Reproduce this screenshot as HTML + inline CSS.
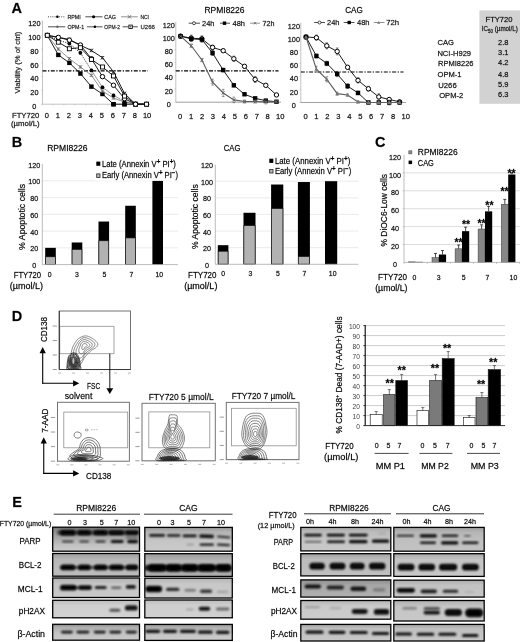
<!DOCTYPE html>
<html><head><meta charset="utf-8"><title>Figure</title>
<style>html,body{margin:0;padding:0;background:#fff;}body{width:520px;height:642px;overflow:hidden;font-family:"Liberation Sans",sans-serif;}svg{display:block;}text{stroke:#000;stroke-width:0.3px;stroke-opacity:0.6;}</style>
</head><body>
<svg width="520" height="642" viewBox="0 0 520 642" font-family="Liberation Sans, sans-serif">
<defs><filter id="soft" x="-2%" y="-2%" width="104%" height="104%"><feGaussianBlur stdDeviation="0.35"/></filter>
<filter id="b1" x="-20%" y="-60%" width="140%" height="220%"><feGaussianBlur stdDeviation="1.05"/></filter>
<filter id="b2" x="-20%" y="-60%" width="140%" height="220%"><feGaussianBlur stdDeviation="0.8"/></filter>
</defs>
<rect width="520" height="642" fill="#fff"/>
<g filter="url(#soft)">
<text x="11.50" y="12.80" font-size="14.5" text-anchor="start" font-weight="bold" fill="#000" >A</text>
<line x1="42.50" y1="20.52" x2="42.50" y2="104.20" stroke="#aaa" stroke-width="0.7" />
<line x1="42.50" y1="104.20" x2="150.00" y2="104.20" stroke="#aaa" stroke-width="0.7" />
<line x1="41.80" y1="104.20" x2="41.80" y2="105.40" stroke="#aaa" stroke-width="0.5" />
<line x1="52.83" y1="104.20" x2="52.83" y2="105.40" stroke="#aaa" stroke-width="0.5" />
<line x1="63.86" y1="104.20" x2="63.86" y2="105.40" stroke="#aaa" stroke-width="0.5" />
<line x1="74.89" y1="104.20" x2="74.89" y2="105.40" stroke="#aaa" stroke-width="0.5" />
<line x1="85.92" y1="104.20" x2="85.92" y2="105.40" stroke="#aaa" stroke-width="0.5" />
<line x1="96.95" y1="104.20" x2="96.95" y2="105.40" stroke="#aaa" stroke-width="0.5" />
<line x1="107.98" y1="104.20" x2="107.98" y2="105.40" stroke="#aaa" stroke-width="0.5" />
<line x1="119.01" y1="104.20" x2="119.01" y2="105.40" stroke="#aaa" stroke-width="0.5" />
<line x1="130.04" y1="104.20" x2="130.04" y2="105.40" stroke="#aaa" stroke-width="0.5" />
<line x1="141.07" y1="104.20" x2="141.07" y2="105.40" stroke="#aaa" stroke-width="0.5" />
<text x="34.40" y="108.80" font-size="7.3" text-anchor="middle" font-weight="normal" fill="#111" >0</text>
<line x1="41.30" y1="104.20" x2="42.50" y2="104.20" stroke="#aaa" stroke-width="0.5" />
<text x="34.40" y="95.05" font-size="7.3" text-anchor="middle" font-weight="normal" fill="#111" >20</text>
<line x1="41.30" y1="90.42" x2="42.50" y2="90.42" stroke="#aaa" stroke-width="0.5" />
<text x="34.40" y="81.30" font-size="7.3" text-anchor="middle" font-weight="normal" fill="#111" >40</text>
<line x1="41.30" y1="76.64" x2="42.50" y2="76.64" stroke="#aaa" stroke-width="0.5" />
<text x="34.40" y="67.55" font-size="7.3" text-anchor="middle" font-weight="normal" fill="#111" >60</text>
<line x1="41.30" y1="62.86" x2="42.50" y2="62.86" stroke="#aaa" stroke-width="0.5" />
<text x="34.40" y="53.80" font-size="7.3" text-anchor="middle" font-weight="normal" fill="#111" >80</text>
<line x1="41.30" y1="49.08" x2="42.50" y2="49.08" stroke="#aaa" stroke-width="0.5" />
<text x="34.40" y="40.05" font-size="7.3" text-anchor="middle" font-weight="normal" fill="#111" >100</text>
<line x1="41.30" y1="35.30" x2="42.50" y2="35.30" stroke="#aaa" stroke-width="0.5" />
<text x="34.40" y="26.30" font-size="7.3" text-anchor="middle" font-weight="normal" fill="#111" >120</text>
<line x1="41.30" y1="21.52" x2="42.50" y2="21.52" stroke="#aaa" stroke-width="0.5" />
<text x="46.90" y="118.30" font-size="7.5" text-anchor="middle" font-weight="normal" fill="#111" >0</text>
<text x="57.90" y="118.30" font-size="7.5" text-anchor="middle" font-weight="normal" fill="#111" >1</text>
<text x="68.90" y="118.30" font-size="7.5" text-anchor="middle" font-weight="normal" fill="#111" >2</text>
<text x="79.90" y="118.30" font-size="7.5" text-anchor="middle" font-weight="normal" fill="#111" >3</text>
<text x="90.90" y="118.30" font-size="7.5" text-anchor="middle" font-weight="normal" fill="#111" >4</text>
<text x="101.90" y="118.30" font-size="7.5" text-anchor="middle" font-weight="normal" fill="#111" >5</text>
<text x="112.90" y="118.30" font-size="7.5" text-anchor="middle" font-weight="normal" fill="#111" >6</text>
<text x="123.90" y="118.30" font-size="7.5" text-anchor="middle" font-weight="normal" fill="#111" >7</text>
<text x="134.90" y="118.30" font-size="7.5" text-anchor="middle" font-weight="normal" fill="#111" >8</text>
<text x="147.10" y="118.30" font-size="7.5" text-anchor="middle" font-weight="normal" fill="#111" >10</text>
<text x="20.30" y="62.60" font-size="6.8" text-anchor="middle" font-weight="normal" fill="#3a3a3a" textLength="61.70" lengthAdjust="spacingAndGlyphs" transform="rotate(-90 20.30 62.60)" >Viability (% of ctrl)</text>
<text x="12.00" y="117.50" font-size="7.4" text-anchor="start" font-weight="normal" fill="#111" textLength="27.20" lengthAdjust="spacingAndGlyphs" >FTY720</text>
<text x="11.00" y="126.20" font-size="7.2" text-anchor="start" font-weight="normal" fill="#111" textLength="28.70" lengthAdjust="spacingAndGlyphs" >(µmol/L)</text>
<line x1="42.50" y1="70.80" x2="148.00" y2="70.80" stroke="#000" stroke-width="1.2" stroke-dasharray="4 1.5 1.3 1.5" />
<line x1="48.00" y1="16.80" x2="65.20" y2="16.80" stroke="#222" stroke-width="0.8" stroke-dasharray="1 1.2" />
<circle cx="57.40" cy="16.80" r="1.3" fill="#000"/>
<text x="67.40" y="18.90" font-size="5.9" text-anchor="start" font-weight="normal" fill="#333" textLength="13.40" lengthAdjust="spacingAndGlyphs" >RPMI</text>
<line x1="85.30" y1="16.80" x2="102.50" y2="16.80" stroke="#222" stroke-width="0.8" />
<circle cx="93.6" cy="16.8" r="1.55" fill="#000"/>
<text x="104.30" y="18.90" font-size="5.9" text-anchor="start" font-weight="normal" fill="#333" textLength="11.60" lengthAdjust="spacingAndGlyphs" >CAG</text>
<line x1="121.00" y1="16.80" x2="137.80" y2="16.80" stroke="#777" stroke-width="0.8" />
<path d="M127.90 15.20 L131.10 18.40 M127.90 18.40 L131.10 15.20" stroke="#666" stroke-width="0.9" fill="none"/>
<text x="140.40" y="18.90" font-size="5.9" text-anchor="start" font-weight="normal" fill="#333" textLength="8.60" lengthAdjust="spacingAndGlyphs" >NCI</text>
<line x1="48.00" y1="26.80" x2="65.20" y2="26.80" stroke="#222" stroke-width="0.8" />
<circle cx="57.40" cy="26.80" r="1.2" fill="#666"/>
<text x="67.40" y="28.90" font-size="5.9" text-anchor="start" font-weight="normal" fill="#333" textLength="16.80" lengthAdjust="spacingAndGlyphs" >OPM-1</text>
<line x1="86.90" y1="26.80" x2="102.50" y2="26.80" stroke="#222" stroke-width="0.8" />
<circle cx="94.90" cy="26.80" r="1.3" fill="#000"/>
<text x="104.30" y="28.90" font-size="5.9" text-anchor="start" font-weight="normal" fill="#333" textLength="15.60" lengthAdjust="spacingAndGlyphs" >OPM-2</text>
<line x1="122.60" y1="26.80" x2="137.80" y2="26.80" stroke="#222" stroke-width="0.8" />
<rect x="128.90" y="25.10" width="3.40" height="3.40" fill="#fff" stroke="#111" stroke-width="0.9" />
<circle cx="130.6" cy="26.8" r="0.7" fill="#555"/>
<text x="140.40" y="28.90" font-size="5.9" text-anchor="start" font-weight="normal" fill="#333" textLength="14.50" lengthAdjust="spacingAndGlyphs" >U266</text>
<path d="M47.30 35.30 L58.33 54.94 L69.36 62.86 L80.39 73.54 L91.42 86.63 L102.45 94.00 L113.48 104.20 L124.51 104.20 L135.54 104.20 L146.57 104.20" fill="none" stroke="#111" stroke-width="0.95"/>
<rect x="45.10" y="33.10" width="4.40" height="4.40" fill="#000" stroke="none" stroke-width="0.6" />
<line x1="58.33" y1="53.74" x2="58.33" y2="56.14" stroke="#333" stroke-width="0.6" />
<line x1="57.03" y1="53.74" x2="59.63" y2="53.74" stroke="#333" stroke-width="0.6" />
<line x1="57.03" y1="56.14" x2="59.63" y2="56.14" stroke="#333" stroke-width="0.6" />
<rect x="56.13" y="52.74" width="4.40" height="4.40" fill="#000" stroke="none" stroke-width="0.6" />
<line x1="69.36" y1="61.66" x2="69.36" y2="64.06" stroke="#333" stroke-width="0.6" />
<line x1="68.06" y1="61.66" x2="70.66" y2="61.66" stroke="#333" stroke-width="0.6" />
<line x1="68.06" y1="64.06" x2="70.66" y2="64.06" stroke="#333" stroke-width="0.6" />
<rect x="67.16" y="60.66" width="4.40" height="4.40" fill="#000" stroke="none" stroke-width="0.6" />
<line x1="80.39" y1="72.34" x2="80.39" y2="74.74" stroke="#333" stroke-width="0.6" />
<line x1="79.09" y1="72.34" x2="81.69" y2="72.34" stroke="#333" stroke-width="0.6" />
<line x1="79.09" y1="74.74" x2="81.69" y2="74.74" stroke="#333" stroke-width="0.6" />
<rect x="78.19" y="71.34" width="4.40" height="4.40" fill="#000" stroke="none" stroke-width="0.6" />
<line x1="91.42" y1="85.43" x2="91.42" y2="87.83" stroke="#333" stroke-width="0.6" />
<line x1="90.12" y1="85.43" x2="92.72" y2="85.43" stroke="#333" stroke-width="0.6" />
<line x1="90.12" y1="87.83" x2="92.72" y2="87.83" stroke="#333" stroke-width="0.6" />
<rect x="89.22" y="84.43" width="4.40" height="4.40" fill="#000" stroke="none" stroke-width="0.6" />
<line x1="102.45" y1="92.80" x2="102.45" y2="95.20" stroke="#333" stroke-width="0.6" />
<line x1="101.15" y1="92.80" x2="103.75" y2="92.80" stroke="#333" stroke-width="0.6" />
<line x1="101.15" y1="95.20" x2="103.75" y2="95.20" stroke="#333" stroke-width="0.6" />
<rect x="100.25" y="91.80" width="4.40" height="4.40" fill="#000" stroke="none" stroke-width="0.6" />
<rect x="111.28" y="102.00" width="4.40" height="4.40" fill="#000" stroke="none" stroke-width="0.6" />
<rect x="122.31" y="102.00" width="4.40" height="4.40" fill="#000" stroke="none" stroke-width="0.6" />
<rect x="133.34" y="102.00" width="4.40" height="4.40" fill="#000" stroke="none" stroke-width="0.6" />
<rect x="144.37" y="102.00" width="4.40" height="4.40" fill="#000" stroke="none" stroke-width="0.6" />
<path d="M47.30 35.30 L58.33 49.08 L69.36 58.73 L80.39 66.99 L91.42 75.26 L102.45 91.11 L113.48 98.00 L124.51 102.13 L135.54 104.20 L146.57 104.20" fill="none" stroke="#777" stroke-width="0.8"/>
<path d="M45.70 33.70 L48.90 36.90 M45.70 36.90 L48.90 33.70" stroke="#666" stroke-width="0.9" fill="none"/>
<line x1="58.33" y1="47.88" x2="58.33" y2="50.28" stroke="#777" stroke-width="0.6" />
<line x1="57.03" y1="47.88" x2="59.63" y2="47.88" stroke="#777" stroke-width="0.6" />
<line x1="57.03" y1="50.28" x2="59.63" y2="50.28" stroke="#777" stroke-width="0.6" />
<path d="M56.73 47.48 L59.93 50.68 M56.73 50.68 L59.93 47.48" stroke="#666" stroke-width="0.9" fill="none"/>
<line x1="69.36" y1="57.53" x2="69.36" y2="59.93" stroke="#777" stroke-width="0.6" />
<line x1="68.06" y1="57.53" x2="70.66" y2="57.53" stroke="#777" stroke-width="0.6" />
<line x1="68.06" y1="59.93" x2="70.66" y2="59.93" stroke="#777" stroke-width="0.6" />
<path d="M67.76 57.13 L70.96 60.33 M67.76 60.33 L70.96 57.13" stroke="#666" stroke-width="0.9" fill="none"/>
<line x1="80.39" y1="65.79" x2="80.39" y2="68.19" stroke="#777" stroke-width="0.6" />
<line x1="79.09" y1="65.79" x2="81.69" y2="65.79" stroke="#777" stroke-width="0.6" />
<line x1="79.09" y1="68.19" x2="81.69" y2="68.19" stroke="#777" stroke-width="0.6" />
<path d="M78.79 65.39 L81.99 68.59 M78.79 68.59 L81.99 65.39" stroke="#666" stroke-width="0.9" fill="none"/>
<line x1="91.42" y1="74.06" x2="91.42" y2="76.46" stroke="#777" stroke-width="0.6" />
<line x1="90.12" y1="74.06" x2="92.72" y2="74.06" stroke="#777" stroke-width="0.6" />
<line x1="90.12" y1="76.46" x2="92.72" y2="76.46" stroke="#777" stroke-width="0.6" />
<path d="M89.82 73.66 L93.02 76.86 M89.82 76.86 L93.02 73.66" stroke="#666" stroke-width="0.9" fill="none"/>
<line x1="102.45" y1="89.91" x2="102.45" y2="92.31" stroke="#777" stroke-width="0.6" />
<line x1="101.15" y1="89.91" x2="103.75" y2="89.91" stroke="#777" stroke-width="0.6" />
<line x1="101.15" y1="92.31" x2="103.75" y2="92.31" stroke="#777" stroke-width="0.6" />
<path d="M100.85 89.51 L104.05 92.71 M100.85 92.71 L104.05 89.51" stroke="#666" stroke-width="0.9" fill="none"/>
<line x1="113.48" y1="96.80" x2="113.48" y2="99.20" stroke="#777" stroke-width="0.6" />
<line x1="112.18" y1="96.80" x2="114.78" y2="96.80" stroke="#777" stroke-width="0.6" />
<line x1="112.18" y1="99.20" x2="114.78" y2="99.20" stroke="#777" stroke-width="0.6" />
<path d="M111.88 96.40 L115.08 99.60 M111.88 99.60 L115.08 96.40" stroke="#666" stroke-width="0.9" fill="none"/>
<line x1="124.51" y1="100.93" x2="124.51" y2="103.33" stroke="#777" stroke-width="0.6" />
<line x1="123.21" y1="100.93" x2="125.81" y2="100.93" stroke="#777" stroke-width="0.6" />
<line x1="123.21" y1="103.33" x2="125.81" y2="103.33" stroke="#777" stroke-width="0.6" />
<path d="M122.91 100.53 L126.11 103.73 M122.91 103.73 L126.11 100.53" stroke="#666" stroke-width="0.9" fill="none"/>
<path d="M133.94 102.60 L137.14 105.80 M133.94 105.80 L137.14 102.60" stroke="#666" stroke-width="0.9" fill="none"/>
<path d="M144.97 102.60 L148.17 105.80 M144.97 105.80 L148.17 102.60" stroke="#666" stroke-width="0.9" fill="none"/>
<path d="M47.30 35.30 L58.33 40.12 L69.36 43.57 L80.39 52.87 L91.42 70.44 L102.45 87.32 L113.48 95.38 L124.51 101.44 L135.54 104.20 L146.57 104.20" fill="none" stroke="#111" stroke-width="0.8" stroke-dasharray="1.2 1.2"/>
<circle cx="47.30" cy="35.30" r="1.9" fill="#000"/>
<line x1="58.33" y1="38.92" x2="58.33" y2="41.32" stroke="#333" stroke-width="0.6" />
<line x1="57.03" y1="38.92" x2="59.63" y2="38.92" stroke="#333" stroke-width="0.6" />
<line x1="57.03" y1="41.32" x2="59.63" y2="41.32" stroke="#333" stroke-width="0.6" />
<circle cx="58.33" cy="40.12" r="1.9" fill="#000"/>
<line x1="69.36" y1="42.37" x2="69.36" y2="44.77" stroke="#333" stroke-width="0.6" />
<line x1="68.06" y1="42.37" x2="70.66" y2="42.37" stroke="#333" stroke-width="0.6" />
<line x1="68.06" y1="44.77" x2="70.66" y2="44.77" stroke="#333" stroke-width="0.6" />
<circle cx="69.36" cy="43.57" r="1.9" fill="#000"/>
<line x1="80.39" y1="51.67" x2="80.39" y2="54.07" stroke="#333" stroke-width="0.6" />
<line x1="79.09" y1="51.67" x2="81.69" y2="51.67" stroke="#333" stroke-width="0.6" />
<line x1="79.09" y1="54.07" x2="81.69" y2="54.07" stroke="#333" stroke-width="0.6" />
<circle cx="80.39" cy="52.87" r="1.9" fill="#000"/>
<line x1="91.42" y1="69.24" x2="91.42" y2="71.64" stroke="#333" stroke-width="0.6" />
<line x1="90.12" y1="69.24" x2="92.72" y2="69.24" stroke="#333" stroke-width="0.6" />
<line x1="90.12" y1="71.64" x2="92.72" y2="71.64" stroke="#333" stroke-width="0.6" />
<circle cx="91.42" cy="70.44" r="1.9" fill="#000"/>
<line x1="102.45" y1="86.12" x2="102.45" y2="88.52" stroke="#333" stroke-width="0.6" />
<line x1="101.15" y1="86.12" x2="103.75" y2="86.12" stroke="#333" stroke-width="0.6" />
<line x1="101.15" y1="88.52" x2="103.75" y2="88.52" stroke="#333" stroke-width="0.6" />
<circle cx="102.45" cy="87.32" r="1.9" fill="#000"/>
<line x1="113.48" y1="94.18" x2="113.48" y2="96.58" stroke="#333" stroke-width="0.6" />
<line x1="112.18" y1="94.18" x2="114.78" y2="94.18" stroke="#333" stroke-width="0.6" />
<line x1="112.18" y1="96.58" x2="114.78" y2="96.58" stroke="#333" stroke-width="0.6" />
<circle cx="113.48" cy="95.38" r="1.9" fill="#000"/>
<line x1="124.51" y1="100.24" x2="124.51" y2="102.64" stroke="#333" stroke-width="0.6" />
<line x1="123.21" y1="100.24" x2="125.81" y2="100.24" stroke="#333" stroke-width="0.6" />
<line x1="123.21" y1="102.64" x2="125.81" y2="102.64" stroke="#333" stroke-width="0.6" />
<circle cx="124.51" cy="101.44" r="1.9" fill="#000"/>
<circle cx="135.54" cy="104.20" r="1.9" fill="#000"/>
<circle cx="146.57" cy="104.20" r="1.9" fill="#000"/>
<path d="M47.30 35.30 L58.33 37.37 L69.36 39.43 L80.39 45.29 L91.42 50.46 L102.45 57.69 L113.48 71.82 L124.51 93.45 L135.54 104.20 L146.57 104.20" fill="none" stroke="#111" stroke-width="0.95"/>
<path d="M45.60 33.60 L49.00 37.00 M45.60 37.00 L49.00 33.60" stroke="#111" stroke-width="0.8" fill="none"/>
<line x1="58.33" y1="36.17" x2="58.33" y2="38.57" stroke="#333" stroke-width="0.6" />
<line x1="57.03" y1="36.17" x2="59.63" y2="36.17" stroke="#333" stroke-width="0.6" />
<line x1="57.03" y1="38.57" x2="59.63" y2="38.57" stroke="#333" stroke-width="0.6" />
<path d="M56.63 35.67 L60.03 39.07 M56.63 39.07 L60.03 35.67" stroke="#111" stroke-width="0.8" fill="none"/>
<line x1="69.36" y1="38.23" x2="69.36" y2="40.63" stroke="#333" stroke-width="0.6" />
<line x1="68.06" y1="38.23" x2="70.66" y2="38.23" stroke="#333" stroke-width="0.6" />
<line x1="68.06" y1="40.63" x2="70.66" y2="40.63" stroke="#333" stroke-width="0.6" />
<path d="M67.66 37.73 L71.06 41.13 M67.66 41.13 L71.06 37.73" stroke="#111" stroke-width="0.8" fill="none"/>
<line x1="80.39" y1="44.09" x2="80.39" y2="46.49" stroke="#333" stroke-width="0.6" />
<line x1="79.09" y1="44.09" x2="81.69" y2="44.09" stroke="#333" stroke-width="0.6" />
<line x1="79.09" y1="46.49" x2="81.69" y2="46.49" stroke="#333" stroke-width="0.6" />
<path d="M78.69 43.59 L82.09 46.99 M78.69 46.99 L82.09 43.59" stroke="#111" stroke-width="0.8" fill="none"/>
<line x1="91.42" y1="49.26" x2="91.42" y2="51.66" stroke="#333" stroke-width="0.6" />
<line x1="90.12" y1="49.26" x2="92.72" y2="49.26" stroke="#333" stroke-width="0.6" />
<line x1="90.12" y1="51.66" x2="92.72" y2="51.66" stroke="#333" stroke-width="0.6" />
<path d="M89.72 48.76 L93.12 52.16 M89.72 52.16 L93.12 48.76" stroke="#111" stroke-width="0.8" fill="none"/>
<line x1="102.45" y1="56.49" x2="102.45" y2="58.89" stroke="#333" stroke-width="0.6" />
<line x1="101.15" y1="56.49" x2="103.75" y2="56.49" stroke="#333" stroke-width="0.6" />
<line x1="101.15" y1="58.89" x2="103.75" y2="58.89" stroke="#333" stroke-width="0.6" />
<path d="M100.75 55.99 L104.15 59.39 M100.75 59.39 L104.15 55.99" stroke="#111" stroke-width="0.8" fill="none"/>
<line x1="113.48" y1="70.62" x2="113.48" y2="73.02" stroke="#333" stroke-width="0.6" />
<line x1="112.18" y1="70.62" x2="114.78" y2="70.62" stroke="#333" stroke-width="0.6" />
<line x1="112.18" y1="73.02" x2="114.78" y2="73.02" stroke="#333" stroke-width="0.6" />
<path d="M111.78 70.12 L115.18 73.52 M111.78 73.52 L115.18 70.12" stroke="#111" stroke-width="0.8" fill="none"/>
<line x1="124.51" y1="92.25" x2="124.51" y2="94.65" stroke="#333" stroke-width="0.6" />
<line x1="123.21" y1="92.25" x2="125.81" y2="92.25" stroke="#333" stroke-width="0.6" />
<line x1="123.21" y1="94.65" x2="125.81" y2="94.65" stroke="#333" stroke-width="0.6" />
<path d="M122.81 91.75 L126.21 95.15 M122.81 95.15 L126.21 91.75" stroke="#111" stroke-width="0.8" fill="none"/>
<path d="M133.84 102.50 L137.24 105.90 M133.84 105.90 L137.24 102.50" stroke="#111" stroke-width="0.8" fill="none"/>
<path d="M144.87 102.50 L148.27 105.90 M144.87 105.90 L148.27 102.50" stroke="#111" stroke-width="0.8" fill="none"/>
<path d="M47.30 35.30 L58.33 37.37 L69.36 40.12 L80.39 44.95 L91.42 58.73 L102.45 76.64 L113.48 85.25 L124.51 98.69 L135.54 104.20 L146.57 104.20" fill="none" stroke="#111" stroke-width="0.95"/>
<circle cx="47.30" cy="35.30" r="2.2" fill="#fff" stroke="#000" stroke-width="1"/>
<line x1="58.33" y1="36.17" x2="58.33" y2="38.57" stroke="#333" stroke-width="0.6" />
<line x1="57.03" y1="36.17" x2="59.63" y2="36.17" stroke="#333" stroke-width="0.6" />
<line x1="57.03" y1="38.57" x2="59.63" y2="38.57" stroke="#333" stroke-width="0.6" />
<circle cx="58.33" cy="37.37" r="2.2" fill="#fff" stroke="#000" stroke-width="1"/>
<line x1="69.36" y1="38.92" x2="69.36" y2="41.32" stroke="#333" stroke-width="0.6" />
<line x1="68.06" y1="38.92" x2="70.66" y2="38.92" stroke="#333" stroke-width="0.6" />
<line x1="68.06" y1="41.32" x2="70.66" y2="41.32" stroke="#333" stroke-width="0.6" />
<circle cx="69.36" cy="40.12" r="2.2" fill="#fff" stroke="#000" stroke-width="1"/>
<line x1="80.39" y1="43.75" x2="80.39" y2="46.15" stroke="#333" stroke-width="0.6" />
<line x1="79.09" y1="43.75" x2="81.69" y2="43.75" stroke="#333" stroke-width="0.6" />
<line x1="79.09" y1="46.15" x2="81.69" y2="46.15" stroke="#333" stroke-width="0.6" />
<circle cx="80.39" cy="44.95" r="2.2" fill="#fff" stroke="#000" stroke-width="1"/>
<line x1="91.42" y1="57.53" x2="91.42" y2="59.93" stroke="#333" stroke-width="0.6" />
<line x1="90.12" y1="57.53" x2="92.72" y2="57.53" stroke="#333" stroke-width="0.6" />
<line x1="90.12" y1="59.93" x2="92.72" y2="59.93" stroke="#333" stroke-width="0.6" />
<circle cx="91.42" cy="58.73" r="2.2" fill="#fff" stroke="#000" stroke-width="1"/>
<line x1="102.45" y1="75.44" x2="102.45" y2="77.84" stroke="#333" stroke-width="0.6" />
<line x1="101.15" y1="75.44" x2="103.75" y2="75.44" stroke="#333" stroke-width="0.6" />
<line x1="101.15" y1="77.84" x2="103.75" y2="77.84" stroke="#333" stroke-width="0.6" />
<circle cx="102.45" cy="76.64" r="2.2" fill="#fff" stroke="#000" stroke-width="1"/>
<line x1="113.48" y1="84.05" x2="113.48" y2="86.45" stroke="#333" stroke-width="0.6" />
<line x1="112.18" y1="84.05" x2="114.78" y2="84.05" stroke="#333" stroke-width="0.6" />
<line x1="112.18" y1="86.45" x2="114.78" y2="86.45" stroke="#333" stroke-width="0.6" />
<circle cx="113.48" cy="85.25" r="2.2" fill="#fff" stroke="#000" stroke-width="1"/>
<line x1="124.51" y1="97.49" x2="124.51" y2="99.89" stroke="#333" stroke-width="0.6" />
<line x1="123.21" y1="97.49" x2="125.81" y2="97.49" stroke="#333" stroke-width="0.6" />
<line x1="123.21" y1="99.89" x2="125.81" y2="99.89" stroke="#333" stroke-width="0.6" />
<circle cx="124.51" cy="98.69" r="2.2" fill="#fff" stroke="#000" stroke-width="1"/>
<circle cx="135.54" cy="104.20" r="2.2" fill="#fff" stroke="#000" stroke-width="1"/>
<circle cx="146.57" cy="104.20" r="2.2" fill="#fff" stroke="#000" stroke-width="1"/>
<path d="M47.30 35.30 L58.33 42.19 L69.36 48.74 L80.39 47.70 L91.42 59.41 L102.45 66.99 L113.48 75.95 L124.51 96.07 L135.54 104.20 L146.57 104.20" fill="none" stroke="#111" stroke-width="0.95"/>
<rect x="45.30" y="33.30" width="4.00" height="4.00" fill="#fff" stroke="#000" stroke-width="0.9" />
<line x1="58.33" y1="40.99" x2="58.33" y2="43.39" stroke="#333" stroke-width="0.6" />
<line x1="57.03" y1="40.99" x2="59.63" y2="40.99" stroke="#333" stroke-width="0.6" />
<line x1="57.03" y1="43.39" x2="59.63" y2="43.39" stroke="#333" stroke-width="0.6" />
<rect x="56.33" y="40.19" width="4.00" height="4.00" fill="#fff" stroke="#000" stroke-width="0.9" />
<line x1="69.36" y1="47.54" x2="69.36" y2="49.94" stroke="#333" stroke-width="0.6" />
<line x1="68.06" y1="47.54" x2="70.66" y2="47.54" stroke="#333" stroke-width="0.6" />
<line x1="68.06" y1="49.94" x2="70.66" y2="49.94" stroke="#333" stroke-width="0.6" />
<rect x="67.36" y="46.74" width="4.00" height="4.00" fill="#fff" stroke="#000" stroke-width="0.9" />
<line x1="80.39" y1="46.50" x2="80.39" y2="48.90" stroke="#333" stroke-width="0.6" />
<line x1="79.09" y1="46.50" x2="81.69" y2="46.50" stroke="#333" stroke-width="0.6" />
<line x1="79.09" y1="48.90" x2="81.69" y2="48.90" stroke="#333" stroke-width="0.6" />
<rect x="78.39" y="45.70" width="4.00" height="4.00" fill="#fff" stroke="#000" stroke-width="0.9" />
<line x1="91.42" y1="58.21" x2="91.42" y2="60.62" stroke="#333" stroke-width="0.6" />
<line x1="90.12" y1="58.21" x2="92.72" y2="58.21" stroke="#333" stroke-width="0.6" />
<line x1="90.12" y1="60.62" x2="92.72" y2="60.62" stroke="#333" stroke-width="0.6" />
<rect x="89.42" y="57.41" width="4.00" height="4.00" fill="#fff" stroke="#000" stroke-width="0.9" />
<line x1="102.45" y1="65.79" x2="102.45" y2="68.19" stroke="#333" stroke-width="0.6" />
<line x1="101.15" y1="65.79" x2="103.75" y2="65.79" stroke="#333" stroke-width="0.6" />
<line x1="101.15" y1="68.19" x2="103.75" y2="68.19" stroke="#333" stroke-width="0.6" />
<rect x="100.45" y="64.99" width="4.00" height="4.00" fill="#fff" stroke="#000" stroke-width="0.9" />
<line x1="113.48" y1="74.75" x2="113.48" y2="77.15" stroke="#333" stroke-width="0.6" />
<line x1="112.18" y1="74.75" x2="114.78" y2="74.75" stroke="#333" stroke-width="0.6" />
<line x1="112.18" y1="77.15" x2="114.78" y2="77.15" stroke="#333" stroke-width="0.6" />
<rect x="111.48" y="73.95" width="4.00" height="4.00" fill="#fff" stroke="#000" stroke-width="0.9" />
<line x1="124.51" y1="94.87" x2="124.51" y2="97.27" stroke="#333" stroke-width="0.6" />
<line x1="123.21" y1="94.87" x2="125.81" y2="94.87" stroke="#333" stroke-width="0.6" />
<line x1="123.21" y1="97.27" x2="125.81" y2="97.27" stroke="#333" stroke-width="0.6" />
<rect x="122.51" y="94.07" width="4.00" height="4.00" fill="#fff" stroke="#000" stroke-width="0.9" />
<rect x="133.54" y="102.20" width="4.00" height="4.00" fill="#fff" stroke="#000" stroke-width="0.9" />
<rect x="144.57" y="102.20" width="4.00" height="4.00" fill="#fff" stroke="#000" stroke-width="0.9" />
<rect x="111.28" y="102.00" width="4.40" height="4.40" fill="#000" stroke="none" stroke-width="0.6" />
<rect x="122.31" y="102.00" width="4.40" height="4.40" fill="#000" stroke="none" stroke-width="0.6" />
<circle cx="135.54" cy="104.20" r="2.2" fill="#fff" stroke="#000" stroke-width="1"/>
<line x1="175.80" y1="22.00" x2="175.80" y2="102.20" stroke="#aaa" stroke-width="0.7" />
<line x1="175.80" y1="102.20" x2="281.00" y2="102.20" stroke="#888" stroke-width="0.8" />
<text x="168.80" y="106.75" font-size="7.3" text-anchor="middle" font-weight="normal" fill="#111" >0</text>
<line x1="174.60" y1="102.20" x2="175.80" y2="102.20" stroke="#aaa" stroke-width="0.5" />
<text x="168.80" y="93.55" font-size="7.3" text-anchor="middle" font-weight="normal" fill="#111" >20</text>
<line x1="174.60" y1="89.00" x2="175.80" y2="89.00" stroke="#aaa" stroke-width="0.5" />
<text x="168.80" y="80.35" font-size="7.3" text-anchor="middle" font-weight="normal" fill="#111" >40</text>
<line x1="174.60" y1="75.80" x2="175.80" y2="75.80" stroke="#aaa" stroke-width="0.5" />
<text x="168.80" y="67.15" font-size="7.3" text-anchor="middle" font-weight="normal" fill="#111" >60</text>
<line x1="174.60" y1="62.60" x2="175.80" y2="62.60" stroke="#aaa" stroke-width="0.5" />
<text x="168.80" y="53.95" font-size="7.3" text-anchor="middle" font-weight="normal" fill="#111" >80</text>
<line x1="174.60" y1="49.40" x2="175.80" y2="49.40" stroke="#aaa" stroke-width="0.5" />
<text x="168.80" y="40.75" font-size="7.3" text-anchor="middle" font-weight="normal" fill="#111" >100</text>
<line x1="174.60" y1="36.20" x2="175.80" y2="36.20" stroke="#aaa" stroke-width="0.5" />
<text x="168.80" y="27.55" font-size="7.3" text-anchor="middle" font-weight="normal" fill="#111" >120</text>
<line x1="174.60" y1="23.00" x2="175.80" y2="23.00" stroke="#aaa" stroke-width="0.5" />
<text x="180.10" y="119.00" font-size="7.6" text-anchor="middle" font-weight="normal" fill="#111" >0</text>
<text x="191.05" y="119.00" font-size="7.6" text-anchor="middle" font-weight="normal" fill="#111" >1</text>
<text x="202.00" y="119.00" font-size="7.6" text-anchor="middle" font-weight="normal" fill="#111" >2</text>
<text x="212.95" y="119.00" font-size="7.6" text-anchor="middle" font-weight="normal" fill="#111" >3</text>
<text x="223.90" y="119.00" font-size="7.6" text-anchor="middle" font-weight="normal" fill="#111" >4</text>
<text x="234.85" y="119.00" font-size="7.6" text-anchor="middle" font-weight="normal" fill="#111" >5</text>
<text x="245.80" y="119.00" font-size="7.6" text-anchor="middle" font-weight="normal" fill="#111" >6</text>
<text x="256.75" y="119.00" font-size="7.6" text-anchor="middle" font-weight="normal" fill="#111" >7</text>
<text x="267.70" y="119.00" font-size="7.6" text-anchor="middle" font-weight="normal" fill="#111" >8</text>
<text x="280.35" y="119.00" font-size="7.6" text-anchor="middle" font-weight="normal" fill="#111" >10</text>
<line x1="175.80" y1="70.80" x2="278.50" y2="70.80" stroke="#000" stroke-width="1.2" stroke-dasharray="4 1.5 1.3 1.5" />
<text x="204.50" y="13.30" font-size="8.6" text-anchor="start" font-weight="normal" fill="#000" textLength="40.00" lengthAdjust="spacingAndGlyphs" >RPMI8226</text>
<line x1="188.70" y1="23.20" x2="200.00" y2="23.20" stroke="#222" stroke-width="0.8" />
<circle cx="194.00" cy="23.20" r="1.5" fill="#fff" stroke="#222" stroke-width="0.8"/>
<text x="202.00" y="25.80" font-size="7.3" text-anchor="start" font-weight="normal" fill="#222" textLength="12.50" lengthAdjust="spacingAndGlyphs" >24h</text>
<line x1="220.00" y1="23.20" x2="230.00" y2="23.20" stroke="#222" stroke-width="0.8" />
<rect x="222.80" y="21.50" width="3.40" height="3.40" fill="#000" stroke="none" stroke-width="0.6" />
<text x="232.50" y="25.80" font-size="7.3" text-anchor="start" font-weight="normal" fill="#222" textLength="12.50" lengthAdjust="spacingAndGlyphs" >48h</text>
<line x1="250.00" y1="23.20" x2="260.00" y2="23.20" stroke="#777" stroke-width="0.8" />
<path d="M253.80 22.00 L256.20 24.40 M253.80 24.40 L256.20 22.00" stroke="#666" stroke-width="0.8" fill="none"/>
<text x="262.50" y="25.80" font-size="7.3" text-anchor="start" font-weight="normal" fill="#222" textLength="12.00" lengthAdjust="spacingAndGlyphs" >72h</text>
<path d="M180.60 36.20 L191.25 38.18 L201.90 38.84 L212.55 47.42 L223.20 50.72 L233.85 58.77 L244.50 66.30 L255.15 79.43 L265.80 85.30 L276.45 94.94" fill="none" stroke="#111" stroke-width="0.95"/>
<line x1="180.60" y1="34.20" x2="180.60" y2="38.20" stroke="#333" stroke-width="0.6" />
<line x1="179.30" y1="34.20" x2="181.90" y2="34.20" stroke="#333" stroke-width="0.6" />
<line x1="179.30" y1="38.20" x2="181.90" y2="38.20" stroke="#333" stroke-width="0.6" />
<circle cx="180.60" cy="36.20" r="2.2" fill="#fff" stroke="#000" stroke-width="1"/>
<line x1="191.25" y1="35.18" x2="191.25" y2="41.18" stroke="#333" stroke-width="0.6" />
<line x1="189.95" y1="35.18" x2="192.55" y2="35.18" stroke="#333" stroke-width="0.6" />
<line x1="189.95" y1="41.18" x2="192.55" y2="41.18" stroke="#333" stroke-width="0.6" />
<circle cx="191.25" cy="38.18" r="2.2" fill="#fff" stroke="#000" stroke-width="1"/>
<line x1="201.90" y1="35.84" x2="201.90" y2="41.84" stroke="#333" stroke-width="0.6" />
<line x1="200.60" y1="35.84" x2="203.20" y2="35.84" stroke="#333" stroke-width="0.6" />
<line x1="200.60" y1="41.84" x2="203.20" y2="41.84" stroke="#333" stroke-width="0.6" />
<circle cx="201.90" cy="38.84" r="2.2" fill="#fff" stroke="#000" stroke-width="1"/>
<line x1="212.55" y1="45.22" x2="212.55" y2="49.62" stroke="#333" stroke-width="0.6" />
<line x1="211.25" y1="45.22" x2="213.85" y2="45.22" stroke="#333" stroke-width="0.6" />
<line x1="211.25" y1="49.62" x2="213.85" y2="49.62" stroke="#333" stroke-width="0.6" />
<circle cx="212.55" cy="47.42" r="2.2" fill="#fff" stroke="#000" stroke-width="1"/>
<line x1="223.20" y1="49.22" x2="223.20" y2="52.22" stroke="#333" stroke-width="0.6" />
<line x1="221.90" y1="49.22" x2="224.50" y2="49.22" stroke="#333" stroke-width="0.6" />
<line x1="221.90" y1="52.22" x2="224.50" y2="52.22" stroke="#333" stroke-width="0.6" />
<circle cx="223.20" cy="50.72" r="2.2" fill="#fff" stroke="#000" stroke-width="1"/>
<line x1="233.85" y1="56.17" x2="233.85" y2="61.37" stroke="#333" stroke-width="0.6" />
<line x1="232.55" y1="56.17" x2="235.15" y2="56.17" stroke="#333" stroke-width="0.6" />
<line x1="232.55" y1="61.37" x2="235.15" y2="61.37" stroke="#333" stroke-width="0.6" />
<circle cx="233.85" cy="58.77" r="2.2" fill="#fff" stroke="#000" stroke-width="1"/>
<line x1="244.50" y1="64.50" x2="244.50" y2="68.10" stroke="#333" stroke-width="0.6" />
<line x1="243.20" y1="64.50" x2="245.80" y2="64.50" stroke="#333" stroke-width="0.6" />
<line x1="243.20" y1="68.10" x2="245.80" y2="68.10" stroke="#333" stroke-width="0.6" />
<circle cx="244.50" cy="66.30" r="2.2" fill="#fff" stroke="#000" stroke-width="1"/>
<line x1="255.15" y1="76.43" x2="255.15" y2="82.43" stroke="#333" stroke-width="0.6" />
<line x1="253.85" y1="76.43" x2="256.45" y2="76.43" stroke="#333" stroke-width="0.6" />
<line x1="253.85" y1="82.43" x2="256.45" y2="82.43" stroke="#333" stroke-width="0.6" />
<circle cx="255.15" cy="79.43" r="2.2" fill="#fff" stroke="#000" stroke-width="1"/>
<line x1="265.80" y1="83.80" x2="265.80" y2="86.80" stroke="#333" stroke-width="0.6" />
<line x1="264.50" y1="83.80" x2="267.10" y2="83.80" stroke="#333" stroke-width="0.6" />
<line x1="264.50" y1="86.80" x2="267.10" y2="86.80" stroke="#333" stroke-width="0.6" />
<circle cx="265.80" cy="85.30" r="2.2" fill="#fff" stroke="#000" stroke-width="1"/>
<line x1="276.45" y1="93.44" x2="276.45" y2="96.44" stroke="#333" stroke-width="0.6" />
<line x1="275.15" y1="93.44" x2="277.75" y2="93.44" stroke="#333" stroke-width="0.6" />
<line x1="275.15" y1="96.44" x2="277.75" y2="96.44" stroke="#333" stroke-width="0.6" />
<circle cx="276.45" cy="94.94" r="2.2" fill="#fff" stroke="#000" stroke-width="1"/>
<path d="M180.60 36.20 L191.25 38.84 L201.90 39.50 L212.55 53.03 L223.20 70.06 L233.85 85.30 L244.50 94.28 L255.15 98.37 L265.80 100.68 L276.45 101.74" fill="none" stroke="#111" stroke-width="0.95"/>
<rect x="178.40" y="34.00" width="4.40" height="4.40" fill="#000" stroke="none" stroke-width="0.6" />
<line x1="191.25" y1="36.34" x2="191.25" y2="41.34" stroke="#333" stroke-width="0.6" />
<line x1="189.95" y1="36.34" x2="192.55" y2="36.34" stroke="#333" stroke-width="0.6" />
<line x1="189.95" y1="41.34" x2="192.55" y2="41.34" stroke="#333" stroke-width="0.6" />
<rect x="189.05" y="36.64" width="4.40" height="4.40" fill="#000" stroke="none" stroke-width="0.6" />
<line x1="201.90" y1="37.00" x2="201.90" y2="42.00" stroke="#333" stroke-width="0.6" />
<line x1="200.60" y1="37.00" x2="203.20" y2="37.00" stroke="#333" stroke-width="0.6" />
<line x1="200.60" y1="42.00" x2="203.20" y2="42.00" stroke="#333" stroke-width="0.6" />
<rect x="199.70" y="37.30" width="4.40" height="4.40" fill="#000" stroke="none" stroke-width="0.6" />
<line x1="212.55" y1="50.53" x2="212.55" y2="55.53" stroke="#333" stroke-width="0.6" />
<line x1="211.25" y1="50.53" x2="213.85" y2="50.53" stroke="#333" stroke-width="0.6" />
<line x1="211.25" y1="55.53" x2="213.85" y2="55.53" stroke="#333" stroke-width="0.6" />
<rect x="210.35" y="50.83" width="4.40" height="4.40" fill="#000" stroke="none" stroke-width="0.6" />
<line x1="223.20" y1="68.26" x2="223.20" y2="71.86" stroke="#333" stroke-width="0.6" />
<line x1="221.90" y1="68.26" x2="224.50" y2="68.26" stroke="#333" stroke-width="0.6" />
<line x1="221.90" y1="71.86" x2="224.50" y2="71.86" stroke="#333" stroke-width="0.6" />
<rect x="221.00" y="67.86" width="4.40" height="4.40" fill="#000" stroke="none" stroke-width="0.6" />
<line x1="233.85" y1="83.80" x2="233.85" y2="86.80" stroke="#333" stroke-width="0.6" />
<line x1="232.55" y1="83.80" x2="235.15" y2="83.80" stroke="#333" stroke-width="0.6" />
<line x1="232.55" y1="86.80" x2="235.15" y2="86.80" stroke="#333" stroke-width="0.6" />
<rect x="231.65" y="83.10" width="4.40" height="4.40" fill="#000" stroke="none" stroke-width="0.6" />
<line x1="244.50" y1="93.08" x2="244.50" y2="95.48" stroke="#333" stroke-width="0.6" />
<line x1="243.20" y1="93.08" x2="245.80" y2="93.08" stroke="#333" stroke-width="0.6" />
<line x1="243.20" y1="95.48" x2="245.80" y2="95.48" stroke="#333" stroke-width="0.6" />
<rect x="242.30" y="92.08" width="4.40" height="4.40" fill="#000" stroke="none" stroke-width="0.6" />
<line x1="255.15" y1="97.17" x2="255.15" y2="99.57" stroke="#333" stroke-width="0.6" />
<line x1="253.85" y1="97.17" x2="256.45" y2="97.17" stroke="#333" stroke-width="0.6" />
<line x1="253.85" y1="99.57" x2="256.45" y2="99.57" stroke="#333" stroke-width="0.6" />
<rect x="252.95" y="96.17" width="4.40" height="4.40" fill="#000" stroke="none" stroke-width="0.6" />
<line x1="265.80" y1="99.18" x2="265.80" y2="102.18" stroke="#333" stroke-width="0.6" />
<line x1="264.50" y1="99.18" x2="267.10" y2="99.18" stroke="#333" stroke-width="0.6" />
<line x1="264.50" y1="102.18" x2="267.10" y2="102.18" stroke="#333" stroke-width="0.6" />
<rect x="263.60" y="98.48" width="4.40" height="4.40" fill="#000" stroke="none" stroke-width="0.6" />
<line x1="276.45" y1="100.74" x2="276.45" y2="102.74" stroke="#333" stroke-width="0.6" />
<line x1="275.15" y1="100.74" x2="277.75" y2="100.74" stroke="#333" stroke-width="0.6" />
<line x1="275.15" y1="102.74" x2="277.75" y2="102.74" stroke="#333" stroke-width="0.6" />
<rect x="274.25" y="99.54" width="4.40" height="4.40" fill="#000" stroke="none" stroke-width="0.6" />
<path d="M180.60 36.20 L191.25 45.77 L201.90 60.03 L212.55 82.14 L223.20 92.96 L233.85 99.89 L244.50 101.54 L255.15 101.54 L265.80 101.87 L276.45 101.87" fill="none" stroke="#5c5c5c" stroke-width="1.1"/>
<path d="M179.00 34.60 L182.20 37.80 M179.00 37.80 L182.20 34.60" stroke="#666" stroke-width="0.9" fill="none"/>
<line x1="191.25" y1="43.97" x2="191.25" y2="47.57" stroke="#5c5c5c" stroke-width="0.6" />
<line x1="189.95" y1="43.97" x2="192.55" y2="43.97" stroke="#5c5c5c" stroke-width="0.6" />
<line x1="189.95" y1="47.57" x2="192.55" y2="47.57" stroke="#5c5c5c" stroke-width="0.6" />
<path d="M189.65 44.17 L192.85 47.37 M189.65 47.37 L192.85 44.17" stroke="#666" stroke-width="0.9" fill="none"/>
<line x1="201.90" y1="58.43" x2="201.90" y2="61.63" stroke="#5c5c5c" stroke-width="0.6" />
<line x1="200.60" y1="58.43" x2="203.20" y2="58.43" stroke="#5c5c5c" stroke-width="0.6" />
<line x1="200.60" y1="61.63" x2="203.20" y2="61.63" stroke="#5c5c5c" stroke-width="0.6" />
<path d="M200.30 58.43 L203.50 61.63 M200.30 61.63 L203.50 58.43" stroke="#666" stroke-width="0.9" fill="none"/>
<line x1="212.55" y1="79.14" x2="212.55" y2="85.14" stroke="#5c5c5c" stroke-width="0.6" />
<line x1="211.25" y1="79.14" x2="213.85" y2="79.14" stroke="#5c5c5c" stroke-width="0.6" />
<line x1="211.25" y1="85.14" x2="213.85" y2="85.14" stroke="#5c5c5c" stroke-width="0.6" />
<path d="M210.95 80.54 L214.15 83.74 M210.95 83.74 L214.15 80.54" stroke="#666" stroke-width="0.9" fill="none"/>
<line x1="223.20" y1="89.36" x2="223.20" y2="96.56" stroke="#5c5c5c" stroke-width="0.6" />
<line x1="221.90" y1="89.36" x2="224.50" y2="89.36" stroke="#5c5c5c" stroke-width="0.6" />
<line x1="221.90" y1="96.56" x2="224.50" y2="96.56" stroke="#5c5c5c" stroke-width="0.6" />
<path d="M221.60 91.36 L224.80 94.56 M221.60 94.56 L224.80 91.36" stroke="#666" stroke-width="0.9" fill="none"/>
<line x1="233.85" y1="97.09" x2="233.85" y2="102.69" stroke="#5c5c5c" stroke-width="0.6" />
<line x1="232.55" y1="97.09" x2="235.15" y2="97.09" stroke="#5c5c5c" stroke-width="0.6" />
<line x1="232.55" y1="102.69" x2="235.15" y2="102.69" stroke="#5c5c5c" stroke-width="0.6" />
<path d="M232.25 98.29 L235.45 101.49 M232.25 101.49 L235.45 98.29" stroke="#666" stroke-width="0.9" fill="none"/>
<line x1="244.50" y1="100.04" x2="244.50" y2="103.04" stroke="#5c5c5c" stroke-width="0.6" />
<line x1="243.20" y1="100.04" x2="245.80" y2="100.04" stroke="#5c5c5c" stroke-width="0.6" />
<line x1="243.20" y1="103.04" x2="245.80" y2="103.04" stroke="#5c5c5c" stroke-width="0.6" />
<path d="M242.90 99.94 L246.10 103.14 M242.90 103.14 L246.10 99.94" stroke="#666" stroke-width="0.9" fill="none"/>
<line x1="255.15" y1="100.04" x2="255.15" y2="103.04" stroke="#5c5c5c" stroke-width="0.6" />
<line x1="253.85" y1="100.04" x2="256.45" y2="100.04" stroke="#5c5c5c" stroke-width="0.6" />
<line x1="253.85" y1="103.04" x2="256.45" y2="103.04" stroke="#5c5c5c" stroke-width="0.6" />
<path d="M253.55 99.94 L256.75 103.14 M253.55 103.14 L256.75 99.94" stroke="#666" stroke-width="0.9" fill="none"/>
<line x1="265.80" y1="99.87" x2="265.80" y2="103.87" stroke="#5c5c5c" stroke-width="0.6" />
<line x1="264.50" y1="99.87" x2="267.10" y2="99.87" stroke="#5c5c5c" stroke-width="0.6" />
<line x1="264.50" y1="103.87" x2="267.10" y2="103.87" stroke="#5c5c5c" stroke-width="0.6" />
<path d="M264.20 100.27 L267.40 103.47 M264.20 103.47 L267.40 100.27" stroke="#666" stroke-width="0.9" fill="none"/>
<line x1="276.45" y1="100.67" x2="276.45" y2="103.07" stroke="#5c5c5c" stroke-width="0.6" />
<line x1="275.15" y1="100.67" x2="277.75" y2="100.67" stroke="#5c5c5c" stroke-width="0.6" />
<line x1="275.15" y1="103.07" x2="277.75" y2="103.07" stroke="#5c5c5c" stroke-width="0.6" />
<path d="M274.85 100.27 L278.05 103.47 M274.85 103.47 L278.05 100.27" stroke="#666" stroke-width="0.9" fill="none"/>
<line x1="300.80" y1="22.90" x2="300.80" y2="102.50" stroke="#aaa" stroke-width="0.7" />
<line x1="300.80" y1="102.50" x2="406.00" y2="102.50" stroke="#888" stroke-width="0.8" />
<text x="293.90" y="107.65" font-size="7.3" text-anchor="middle" font-weight="normal" fill="#111" >0</text>
<line x1="299.60" y1="102.50" x2="300.80" y2="102.50" stroke="#aaa" stroke-width="0.5" />
<text x="293.90" y="94.52" font-size="7.3" text-anchor="middle" font-weight="normal" fill="#111" >20</text>
<line x1="299.60" y1="89.40" x2="300.80" y2="89.40" stroke="#aaa" stroke-width="0.5" />
<text x="293.90" y="81.39" font-size="7.3" text-anchor="middle" font-weight="normal" fill="#111" >40</text>
<line x1="299.60" y1="76.30" x2="300.80" y2="76.30" stroke="#aaa" stroke-width="0.5" />
<text x="293.90" y="68.26" font-size="7.3" text-anchor="middle" font-weight="normal" fill="#111" >60</text>
<line x1="299.60" y1="63.20" x2="300.80" y2="63.20" stroke="#aaa" stroke-width="0.5" />
<text x="293.90" y="55.13" font-size="7.3" text-anchor="middle" font-weight="normal" fill="#111" >80</text>
<line x1="299.60" y1="50.10" x2="300.80" y2="50.10" stroke="#aaa" stroke-width="0.5" />
<text x="293.90" y="42.00" font-size="7.3" text-anchor="middle" font-weight="normal" fill="#111" >100</text>
<line x1="299.60" y1="37.00" x2="300.80" y2="37.00" stroke="#aaa" stroke-width="0.5" />
<text x="293.90" y="28.87" font-size="7.3" text-anchor="middle" font-weight="normal" fill="#111" >120</text>
<line x1="299.60" y1="23.90" x2="300.80" y2="23.90" stroke="#aaa" stroke-width="0.5" />
<text x="305.50" y="119.40" font-size="7.6" text-anchor="middle" font-weight="normal" fill="#111" >0</text>
<text x="316.45" y="119.40" font-size="7.6" text-anchor="middle" font-weight="normal" fill="#111" >1</text>
<text x="327.40" y="119.40" font-size="7.6" text-anchor="middle" font-weight="normal" fill="#111" >2</text>
<text x="338.35" y="119.40" font-size="7.6" text-anchor="middle" font-weight="normal" fill="#111" >3</text>
<text x="349.30" y="119.40" font-size="7.6" text-anchor="middle" font-weight="normal" fill="#111" >4</text>
<text x="360.25" y="119.40" font-size="7.6" text-anchor="middle" font-weight="normal" fill="#111" >5</text>
<text x="371.20" y="119.40" font-size="7.6" text-anchor="middle" font-weight="normal" fill="#111" >6</text>
<text x="382.15" y="119.40" font-size="7.6" text-anchor="middle" font-weight="normal" fill="#111" >7</text>
<text x="393.10" y="119.40" font-size="7.6" text-anchor="middle" font-weight="normal" fill="#111" >8</text>
<text x="405.75" y="119.40" font-size="7.6" text-anchor="middle" font-weight="normal" fill="#111" >10</text>
<line x1="300.80" y1="72.00" x2="403.50" y2="72.00" stroke="#000" stroke-width="1.2" stroke-dasharray="4 1.5 1.3 1.5" />
<text x="345.20" y="13.20" font-size="8.6" text-anchor="start" font-weight="normal" fill="#000" textLength="17.60" lengthAdjust="spacingAndGlyphs" >CAG</text>
<line x1="314.20" y1="22.50" x2="325.00" y2="22.50" stroke="#222" stroke-width="0.8" />
<circle cx="319.50" cy="22.50" r="1.5" fill="#fff" stroke="#222" stroke-width="0.8"/>
<text x="327.00" y="25.10" font-size="7.3" text-anchor="start" font-weight="normal" fill="#222" textLength="12.50" lengthAdjust="spacingAndGlyphs" >24h</text>
<line x1="343.70" y1="22.50" x2="354.50" y2="22.50" stroke="#222" stroke-width="0.8" />
<rect x="347.50" y="20.80" width="3.40" height="3.40" fill="#000" stroke="none" stroke-width="0.6" />
<text x="357.00" y="25.10" font-size="7.3" text-anchor="start" font-weight="normal" fill="#222" textLength="12.50" lengthAdjust="spacingAndGlyphs" >48h</text>
<line x1="373.70" y1="22.50" x2="384.50" y2="22.50" stroke="#777" stroke-width="0.8" />
<path d="M378.70 21.00 L380.30 23.70 L377.10 23.70Z" fill="#777"/>
<text x="386.20" y="25.10" font-size="7.3" text-anchor="start" font-weight="normal" fill="#222" textLength="13.00" lengthAdjust="spacingAndGlyphs" >72h</text>
<path d="M306.00 37.00 L316.40 37.66 L326.80 45.84 L337.20 51.41 L347.60 67.26 L358.00 80.36 L368.40 88.75 L378.80 96.93 L389.20 99.49 L399.60 101.84" fill="none" stroke="#111" stroke-width="0.95"/>
<line x1="306.00" y1="35.00" x2="306.00" y2="39.00" stroke="#333" stroke-width="0.6" />
<line x1="304.70" y1="35.00" x2="307.30" y2="35.00" stroke="#333" stroke-width="0.6" />
<line x1="304.70" y1="39.00" x2="307.30" y2="39.00" stroke="#333" stroke-width="0.6" />
<circle cx="306.00" cy="37.00" r="2.2" fill="#fff" stroke="#000" stroke-width="1"/>
<line x1="316.40" y1="35.05" x2="316.40" y2="40.26" stroke="#333" stroke-width="0.6" />
<line x1="315.10" y1="35.05" x2="317.70" y2="35.05" stroke="#333" stroke-width="0.6" />
<line x1="315.10" y1="40.26" x2="317.70" y2="40.26" stroke="#333" stroke-width="0.6" />
<circle cx="316.40" cy="37.66" r="2.2" fill="#fff" stroke="#000" stroke-width="1"/>
<line x1="326.80" y1="42.84" x2="326.80" y2="48.84" stroke="#333" stroke-width="0.6" />
<line x1="325.50" y1="42.84" x2="328.10" y2="42.84" stroke="#333" stroke-width="0.6" />
<line x1="325.50" y1="48.84" x2="328.10" y2="48.84" stroke="#333" stroke-width="0.6" />
<circle cx="326.80" cy="45.84" r="2.2" fill="#fff" stroke="#000" stroke-width="1"/>
<line x1="337.20" y1="48.01" x2="337.20" y2="54.81" stroke="#333" stroke-width="0.6" />
<line x1="335.90" y1="48.01" x2="338.50" y2="48.01" stroke="#333" stroke-width="0.6" />
<line x1="335.90" y1="54.81" x2="338.50" y2="54.81" stroke="#333" stroke-width="0.6" />
<circle cx="337.20" cy="51.41" r="2.2" fill="#fff" stroke="#000" stroke-width="1"/>
<line x1="347.60" y1="65.46" x2="347.60" y2="69.06" stroke="#333" stroke-width="0.6" />
<line x1="346.30" y1="65.46" x2="348.90" y2="65.46" stroke="#333" stroke-width="0.6" />
<line x1="346.30" y1="69.06" x2="348.90" y2="69.06" stroke="#333" stroke-width="0.6" />
<circle cx="347.60" cy="67.26" r="2.2" fill="#fff" stroke="#000" stroke-width="1"/>
<line x1="358.00" y1="77.76" x2="358.00" y2="82.96" stroke="#333" stroke-width="0.6" />
<line x1="356.70" y1="77.76" x2="359.30" y2="77.76" stroke="#333" stroke-width="0.6" />
<line x1="356.70" y1="82.96" x2="359.30" y2="82.96" stroke="#333" stroke-width="0.6" />
<circle cx="358.00" cy="80.36" r="2.2" fill="#fff" stroke="#000" stroke-width="1"/>
<line x1="368.40" y1="86.34" x2="368.40" y2="91.15" stroke="#333" stroke-width="0.6" />
<line x1="367.10" y1="86.34" x2="369.70" y2="86.34" stroke="#333" stroke-width="0.6" />
<line x1="367.10" y1="91.15" x2="369.70" y2="91.15" stroke="#333" stroke-width="0.6" />
<circle cx="368.40" cy="88.75" r="2.2" fill="#fff" stroke="#000" stroke-width="1"/>
<line x1="378.80" y1="93.73" x2="378.80" y2="100.13" stroke="#333" stroke-width="0.6" />
<line x1="377.50" y1="93.73" x2="380.10" y2="93.73" stroke="#333" stroke-width="0.6" />
<line x1="377.50" y1="100.13" x2="380.10" y2="100.13" stroke="#333" stroke-width="0.6" />
<circle cx="378.80" cy="96.93" r="2.2" fill="#fff" stroke="#000" stroke-width="1"/>
<line x1="389.20" y1="97.49" x2="389.20" y2="101.49" stroke="#333" stroke-width="0.6" />
<line x1="387.90" y1="97.49" x2="390.50" y2="97.49" stroke="#333" stroke-width="0.6" />
<line x1="387.90" y1="101.49" x2="390.50" y2="101.49" stroke="#333" stroke-width="0.6" />
<circle cx="389.20" cy="99.49" r="2.2" fill="#fff" stroke="#000" stroke-width="1"/>
<line x1="399.60" y1="100.64" x2="399.60" y2="103.05" stroke="#333" stroke-width="0.6" />
<line x1="398.30" y1="100.64" x2="400.90" y2="100.64" stroke="#333" stroke-width="0.6" />
<line x1="398.30" y1="103.05" x2="400.90" y2="103.05" stroke="#333" stroke-width="0.6" />
<circle cx="399.60" cy="101.84" r="2.2" fill="#fff" stroke="#000" stroke-width="1"/>
<path d="M306.00 37.00 L316.40 55.99 L326.80 63.46 L337.20 74.01 L347.60 86.12 L358.00 92.94 L368.40 102.50 L378.80 102.50 L389.20 102.50 L399.60 102.50" fill="none" stroke="#111" stroke-width="0.95"/>
<rect x="303.80" y="34.80" width="4.40" height="4.40" fill="#000" stroke="none" stroke-width="0.6" />
<line x1="316.40" y1="53.99" x2="316.40" y2="57.99" stroke="#333" stroke-width="0.6" />
<line x1="315.10" y1="53.99" x2="317.70" y2="53.99" stroke="#333" stroke-width="0.6" />
<line x1="315.10" y1="57.99" x2="317.70" y2="57.99" stroke="#333" stroke-width="0.6" />
<rect x="314.20" y="53.79" width="4.40" height="4.40" fill="#000" stroke="none" stroke-width="0.6" />
<line x1="326.80" y1="61.26" x2="326.80" y2="65.66" stroke="#333" stroke-width="0.6" />
<line x1="325.50" y1="61.26" x2="328.10" y2="61.26" stroke="#333" stroke-width="0.6" />
<line x1="325.50" y1="65.66" x2="328.10" y2="65.66" stroke="#333" stroke-width="0.6" />
<rect x="324.60" y="61.26" width="4.40" height="4.40" fill="#000" stroke="none" stroke-width="0.6" />
<line x1="337.20" y1="71.41" x2="337.20" y2="76.61" stroke="#333" stroke-width="0.6" />
<line x1="335.90" y1="71.41" x2="338.50" y2="71.41" stroke="#333" stroke-width="0.6" />
<line x1="335.90" y1="76.61" x2="338.50" y2="76.61" stroke="#333" stroke-width="0.6" />
<rect x="335.00" y="71.81" width="4.40" height="4.40" fill="#000" stroke="none" stroke-width="0.6" />
<line x1="347.60" y1="83.72" x2="347.60" y2="88.53" stroke="#333" stroke-width="0.6" />
<line x1="346.30" y1="83.72" x2="348.90" y2="83.72" stroke="#333" stroke-width="0.6" />
<line x1="346.30" y1="88.53" x2="348.90" y2="88.53" stroke="#333" stroke-width="0.6" />
<rect x="345.40" y="83.92" width="4.40" height="4.40" fill="#000" stroke="none" stroke-width="0.6" />
<line x1="358.00" y1="91.14" x2="358.00" y2="94.74" stroke="#333" stroke-width="0.6" />
<line x1="356.70" y1="91.14" x2="359.30" y2="91.14" stroke="#333" stroke-width="0.6" />
<line x1="356.70" y1="94.74" x2="359.30" y2="94.74" stroke="#333" stroke-width="0.6" />
<rect x="355.80" y="90.74" width="4.40" height="4.40" fill="#000" stroke="none" stroke-width="0.6" />
<line x1="368.40" y1="101.30" x2="368.40" y2="103.70" stroke="#333" stroke-width="0.6" />
<line x1="367.10" y1="101.30" x2="369.70" y2="101.30" stroke="#333" stroke-width="0.6" />
<line x1="367.10" y1="103.70" x2="369.70" y2="103.70" stroke="#333" stroke-width="0.6" />
<rect x="366.20" y="100.30" width="4.40" height="4.40" fill="#000" stroke="none" stroke-width="0.6" />
<line x1="378.80" y1="101.30" x2="378.80" y2="103.70" stroke="#333" stroke-width="0.6" />
<line x1="377.50" y1="101.30" x2="380.10" y2="101.30" stroke="#333" stroke-width="0.6" />
<line x1="377.50" y1="103.70" x2="380.10" y2="103.70" stroke="#333" stroke-width="0.6" />
<rect x="376.60" y="100.30" width="4.40" height="4.40" fill="#000" stroke="none" stroke-width="0.6" />
<line x1="389.20" y1="100.10" x2="389.20" y2="104.90" stroke="#333" stroke-width="0.6" />
<line x1="387.90" y1="100.10" x2="390.50" y2="100.10" stroke="#333" stroke-width="0.6" />
<line x1="387.90" y1="104.90" x2="390.50" y2="104.90" stroke="#333" stroke-width="0.6" />
<rect x="387.00" y="100.30" width="4.40" height="4.40" fill="#000" stroke="none" stroke-width="0.6" />
<line x1="399.60" y1="101.50" x2="399.60" y2="103.50" stroke="#333" stroke-width="0.6" />
<line x1="398.30" y1="101.50" x2="400.90" y2="101.50" stroke="#333" stroke-width="0.6" />
<line x1="398.30" y1="103.50" x2="400.90" y2="103.50" stroke="#333" stroke-width="0.6" />
<rect x="397.40" y="100.30" width="4.40" height="4.40" fill="#000" stroke="none" stroke-width="0.6" />
<path d="M306.00 37.00 L316.40 69.23 L326.80 79.31 L337.20 93.66 L347.60 94.97 L358.00 101.84 L368.40 102.50 L378.80 102.50 L389.20 102.50 L399.60 102.50" fill="none" stroke="#5c5c5c" stroke-width="1.1"/>
<path d="M306.00 35.00 L308.00 38.60 L304.00 38.60Z" fill="#777"/>
<line x1="316.40" y1="66.23" x2="316.40" y2="72.23" stroke="#5c5c5c" stroke-width="0.6" />
<line x1="315.10" y1="66.23" x2="317.70" y2="66.23" stroke="#5c5c5c" stroke-width="0.6" />
<line x1="315.10" y1="72.23" x2="317.70" y2="72.23" stroke="#5c5c5c" stroke-width="0.6" />
<path d="M316.40 67.23 L318.40 70.83 L314.40 70.83Z" fill="#777"/>
<line x1="326.80" y1="76.71" x2="326.80" y2="81.91" stroke="#5c5c5c" stroke-width="0.6" />
<line x1="325.50" y1="76.71" x2="328.10" y2="76.71" stroke="#5c5c5c" stroke-width="0.6" />
<line x1="325.50" y1="81.91" x2="328.10" y2="81.91" stroke="#5c5c5c" stroke-width="0.6" />
<path d="M326.80 77.31 L328.80 80.91 L324.80 80.91Z" fill="#777"/>
<line x1="337.20" y1="92.16" x2="337.20" y2="95.16" stroke="#5c5c5c" stroke-width="0.6" />
<line x1="335.90" y1="92.16" x2="338.50" y2="92.16" stroke="#5c5c5c" stroke-width="0.6" />
<line x1="335.90" y1="95.16" x2="338.50" y2="95.16" stroke="#5c5c5c" stroke-width="0.6" />
<path d="M337.20 91.66 L339.20 95.26 L335.20 95.26Z" fill="#777"/>
<line x1="347.60" y1="93.77" x2="347.60" y2="96.17" stroke="#5c5c5c" stroke-width="0.6" />
<line x1="346.30" y1="93.77" x2="348.90" y2="93.77" stroke="#5c5c5c" stroke-width="0.6" />
<line x1="346.30" y1="96.17" x2="348.90" y2="96.17" stroke="#5c5c5c" stroke-width="0.6" />
<path d="M347.60 92.97 L349.60 96.57 L345.60 96.57Z" fill="#777"/>
<line x1="358.00" y1="100.84" x2="358.00" y2="102.84" stroke="#5c5c5c" stroke-width="0.6" />
<line x1="356.70" y1="100.84" x2="359.30" y2="100.84" stroke="#5c5c5c" stroke-width="0.6" />
<line x1="356.70" y1="102.84" x2="359.30" y2="102.84" stroke="#5c5c5c" stroke-width="0.6" />
<path d="M358.00 99.84 L360.00 103.44 L356.00 103.44Z" fill="#777"/>
<line x1="368.40" y1="101.50" x2="368.40" y2="103.50" stroke="#5c5c5c" stroke-width="0.6" />
<line x1="367.10" y1="101.50" x2="369.70" y2="101.50" stroke="#5c5c5c" stroke-width="0.6" />
<line x1="367.10" y1="103.50" x2="369.70" y2="103.50" stroke="#5c5c5c" stroke-width="0.6" />
<path d="M368.40 100.50 L370.40 104.10 L366.40 104.10Z" fill="#777"/>
<line x1="378.80" y1="101.50" x2="378.80" y2="103.50" stroke="#5c5c5c" stroke-width="0.6" />
<line x1="377.50" y1="101.50" x2="380.10" y2="101.50" stroke="#5c5c5c" stroke-width="0.6" />
<line x1="377.50" y1="103.50" x2="380.10" y2="103.50" stroke="#5c5c5c" stroke-width="0.6" />
<path d="M378.80 100.50 L380.80 104.10 L376.80 104.10Z" fill="#777"/>
<line x1="389.20" y1="101.50" x2="389.20" y2="103.50" stroke="#5c5c5c" stroke-width="0.6" />
<line x1="387.90" y1="101.50" x2="390.50" y2="101.50" stroke="#5c5c5c" stroke-width="0.6" />
<line x1="387.90" y1="103.50" x2="390.50" y2="103.50" stroke="#5c5c5c" stroke-width="0.6" />
<path d="M389.20 100.50 L391.20 104.10 L387.20 104.10Z" fill="#777"/>
<line x1="399.60" y1="101.50" x2="399.60" y2="103.50" stroke="#5c5c5c" stroke-width="0.6" />
<line x1="398.30" y1="101.50" x2="400.90" y2="101.50" stroke="#5c5c5c" stroke-width="0.6" />
<line x1="398.30" y1="103.50" x2="400.90" y2="103.50" stroke="#5c5c5c" stroke-width="0.6" />
<path d="M399.60 100.50 L401.60 104.10 L397.60 104.10Z" fill="#777"/>
<rect x="479.40" y="10.40" width="41.00" height="93.40" fill="#d2d2d2" stroke="none" stroke-width="0.6" />
<text x="499.00" y="21.60" font-size="7.4" text-anchor="middle" font-weight="normal" fill="#111" textLength="27.00" lengthAdjust="spacingAndGlyphs" >FTY720</text>
<text x="499.8" y="31.3" font-size="6.6" text-anchor="middle" fill="#111" textLength="36" lengthAdjust="spacingAndGlyphs">IC<tspan font-size="4.6" dy="1.4">50</tspan><tspan dy="-1.4"> (µmol/L)</tspan></text>
<text x="437.40" y="45.00" font-size="7.9" text-anchor="start" font-weight="normal" fill="#111" textLength="16.50" lengthAdjust="spacingAndGlyphs" >CAG</text>
<text x="503.20" y="44.60" font-size="7.9" text-anchor="middle" font-weight="normal" fill="#111" textLength="10.40" lengthAdjust="spacingAndGlyphs" >2.8</text>
<text x="437.40" y="55.80" font-size="7.9" text-anchor="start" font-weight="normal" fill="#111" textLength="33.70" lengthAdjust="spacingAndGlyphs" >NCI-H929</text>
<text x="503.20" y="55.40" font-size="7.9" text-anchor="middle" font-weight="normal" fill="#111" textLength="10.40" lengthAdjust="spacingAndGlyphs" >3.1</text>
<text x="438.00" y="65.60" font-size="7.9" text-anchor="start" font-weight="normal" fill="#111" textLength="35.50" lengthAdjust="spacingAndGlyphs" >RPMI8226</text>
<text x="503.20" y="65.20" font-size="7.9" text-anchor="middle" font-weight="normal" fill="#111" textLength="10.40" lengthAdjust="spacingAndGlyphs" >4.2</text>
<text x="437.60" y="77.10" font-size="7.9" text-anchor="start" font-weight="normal" fill="#111" textLength="24.00" lengthAdjust="spacingAndGlyphs" >OPM-1</text>
<text x="503.20" y="76.70" font-size="7.9" text-anchor="middle" font-weight="normal" fill="#111" textLength="10.40" lengthAdjust="spacingAndGlyphs" >4.8</text>
<text x="438.20" y="87.50" font-size="7.9" text-anchor="start" font-weight="normal" fill="#111" textLength="18.50" lengthAdjust="spacingAndGlyphs" >U266</text>
<text x="503.20" y="87.10" font-size="7.9" text-anchor="middle" font-weight="normal" fill="#111" textLength="10.40" lengthAdjust="spacingAndGlyphs" >5.9</text>
<text x="439.20" y="97.80" font-size="7.9" text-anchor="start" font-weight="normal" fill="#111" textLength="24.00" lengthAdjust="spacingAndGlyphs" >OPM-2</text>
<text x="503.20" y="97.40" font-size="7.9" text-anchor="middle" font-weight="normal" fill="#111" textLength="10.40" lengthAdjust="spacingAndGlyphs" >6.3</text>
<text x="11.70" y="146.60" font-size="14.5" text-anchor="start" font-weight="bold" fill="#000" >B</text>
<line x1="42.30" y1="247.84" x2="178.00" y2="247.84" stroke="#e2e2e2" stroke-width="0.7" />
<line x1="42.30" y1="231.08" x2="178.00" y2="231.08" stroke="#e2e2e2" stroke-width="0.7" />
<line x1="42.30" y1="214.32" x2="178.00" y2="214.32" stroke="#e2e2e2" stroke-width="0.7" />
<line x1="42.30" y1="197.56" x2="178.00" y2="197.56" stroke="#e2e2e2" stroke-width="0.7" />
<line x1="42.30" y1="180.80" x2="178.00" y2="180.80" stroke="#e2e2e2" stroke-width="0.7" />
<text x="34.30" y="268.10" font-size="7.2" text-anchor="middle" font-weight="normal" fill="#111" >0</text>
<text x="34.30" y="251.34" font-size="7.2" text-anchor="middle" font-weight="normal" fill="#111" >20</text>
<text x="34.30" y="234.58" font-size="7.2" text-anchor="middle" font-weight="normal" fill="#111" >40</text>
<text x="34.30" y="217.82" font-size="7.2" text-anchor="middle" font-weight="normal" fill="#111" >60</text>
<text x="34.30" y="201.06" font-size="7.2" text-anchor="middle" font-weight="normal" fill="#111" >80</text>
<text x="34.30" y="184.30" font-size="7.2" text-anchor="middle" font-weight="normal" fill="#111" >100</text>
<text x="34.30" y="167.54" font-size="7.2" text-anchor="middle" font-weight="normal" fill="#111" >120</text>
<rect x="45.20" y="247.84" width="10.60" height="16.76" fill="#000" stroke="none" stroke-width="0.6" />
<rect x="45.60" y="256.81" width="9.80" height="7.59" fill="#b2b2b2" stroke="#111" stroke-width="0.6" />
<rect x="71.70" y="242.48" width="10.60" height="22.12" fill="#000" stroke="none" stroke-width="0.6" />
<rect x="72.10" y="249.52" width="9.80" height="14.88" fill="#b2b2b2" stroke="#111" stroke-width="0.6" />
<rect x="98.50" y="221.53" width="10.60" height="43.07" fill="#000" stroke="none" stroke-width="0.6" />
<rect x="98.90" y="240.80" width="9.80" height="23.60" fill="#b2b2b2" stroke="#111" stroke-width="0.6" />
<rect x="125.20" y="205.77" width="10.60" height="58.83" fill="#000" stroke="none" stroke-width="0.6" />
<rect x="125.60" y="237.95" width="9.80" height="26.45" fill="#b2b2b2" stroke="#111" stroke-width="0.6" />
<rect x="152.40" y="180.80" width="10.60" height="83.80" fill="#000" stroke="none" stroke-width="0.6" />
<line x1="42.30" y1="164.04" x2="42.30" y2="264.60" stroke="#aaa" stroke-width="0.8" />
<line x1="42.30" y1="264.60" x2="178.00" y2="264.60" stroke="#aaa" stroke-width="0.8" />
<text x="47.20" y="151.00" font-size="8.5" text-anchor="start" font-weight="normal" fill="#000" textLength="40.40" lengthAdjust="spacingAndGlyphs" >RPMI8226</text>
<rect x="94.90" y="158.70" width="85.60" height="21.90" fill="#fff" stroke="none" stroke-width="0.6" />
<rect x="96.30" y="161.60" width="4.00" height="4.20" fill="#000" stroke="none" stroke-width="0.6" />
<text x="101.9" y="166.5" font-size="8.2" fill="#000" textLength="74" lengthAdjust="spacingAndGlyphs">Late (Annexin V<tspan font-size="6.6" dy="-3" font-weight="bold">+</tspan><tspan dy="3"> PI</tspan><tspan font-size="6.6" dy="-3" font-weight="bold">+</tspan><tspan dy="3">)</tspan></text>
<rect x="96.70" y="173.90" width="3.30" height="3.50" fill="#bbb" stroke="#222" stroke-width="0.8" />
<text x="101.9" y="178.4" font-size="8.2" fill="#000" textLength="76.1" lengthAdjust="spacingAndGlyphs">Early (Annexin V<tspan font-size="6.6" dy="-3" font-weight="bold">+</tspan><tspan dy="3"> PI</tspan><tspan font-size="6.6" dy="-3" font-weight="bold">−</tspan><tspan dy="3">)</tspan></text>
<text x="49.60" y="276.80" font-size="6.9" text-anchor="middle" font-weight="normal" fill="#111" >0</text>
<text x="76.90" y="276.80" font-size="6.9" text-anchor="middle" font-weight="normal" fill="#111" >3</text>
<text x="104.30" y="276.80" font-size="6.9" text-anchor="middle" font-weight="normal" fill="#111" >5</text>
<text x="131.40" y="276.80" font-size="6.9" text-anchor="middle" font-weight="normal" fill="#111" >7</text>
<text x="159.30" y="276.80" font-size="6.9" text-anchor="middle" font-weight="normal" fill="#111" >10</text>
<text x="25.20" y="216.90" font-size="8.3" text-anchor="middle" font-weight="normal" fill="#000" textLength="66.00" lengthAdjust="spacingAndGlyphs" transform="rotate(-90 25.20 216.90)" >% Apoptotic cells</text>
<text x="13.70" y="277.90" font-size="8.2" text-anchor="start" font-weight="normal" fill="#000" textLength="27.30" lengthAdjust="spacingAndGlyphs" >FTY720</text>
<text x="9.80" y="289.20" font-size="8.2" text-anchor="start" font-weight="normal" fill="#000" textLength="33.30" lengthAdjust="spacingAndGlyphs" >(µmol/L)</text>
<line x1="215.30" y1="247.68" x2="358.50" y2="247.68" stroke="#e2e2e2" stroke-width="0.7" />
<line x1="215.30" y1="231.06" x2="358.50" y2="231.06" stroke="#e2e2e2" stroke-width="0.7" />
<line x1="215.30" y1="214.44" x2="358.50" y2="214.44" stroke="#e2e2e2" stroke-width="0.7" />
<line x1="215.30" y1="197.82" x2="358.50" y2="197.82" stroke="#e2e2e2" stroke-width="0.7" />
<line x1="215.30" y1="181.20" x2="358.50" y2="181.20" stroke="#e2e2e2" stroke-width="0.7" />
<text x="207.00" y="267.80" font-size="7.2" text-anchor="middle" font-weight="normal" fill="#111" >0</text>
<text x="207.00" y="251.18" font-size="7.2" text-anchor="middle" font-weight="normal" fill="#111" >20</text>
<text x="207.00" y="234.56" font-size="7.2" text-anchor="middle" font-weight="normal" fill="#111" >40</text>
<text x="207.00" y="217.94" font-size="7.2" text-anchor="middle" font-weight="normal" fill="#111" >60</text>
<text x="207.00" y="201.32" font-size="7.2" text-anchor="middle" font-weight="normal" fill="#111" >80</text>
<text x="207.00" y="184.70" font-size="7.2" text-anchor="middle" font-weight="normal" fill="#111" >100</text>
<text x="207.00" y="168.08" font-size="7.2" text-anchor="middle" font-weight="normal" fill="#111" >120</text>
<rect x="217.80" y="245.19" width="10.60" height="19.11" fill="#000" stroke="none" stroke-width="0.6" />
<rect x="218.20" y="251.25" width="9.80" height="12.85" fill="#b2b2b2" stroke="#111" stroke-width="0.6" />
<rect x="243.50" y="212.78" width="12.00" height="51.52" fill="#000" stroke="none" stroke-width="0.6" />
<rect x="243.90" y="225.66" width="11.20" height="38.44" fill="#b2b2b2" stroke="#111" stroke-width="0.6" />
<rect x="271.10" y="184.52" width="12.20" height="79.78" fill="#000" stroke="none" stroke-width="0.6" />
<rect x="271.50" y="208.62" width="11.40" height="55.48" fill="#b2b2b2" stroke="#111" stroke-width="0.6" />
<rect x="297.90" y="182.03" width="12.00" height="82.27" fill="#000" stroke="none" stroke-width="0.6" />
<rect x="298.30" y="256.57" width="11.20" height="7.53" fill="#b2b2b2" stroke="#111" stroke-width="0.6" />
<rect x="325.00" y="181.20" width="12.20" height="83.10" fill="#000" stroke="none" stroke-width="0.6" />
<line x1="215.30" y1="164.58" x2="215.30" y2="264.30" stroke="#aaa" stroke-width="0.8" />
<line x1="215.30" y1="264.30" x2="358.50" y2="264.30" stroke="#aaa" stroke-width="0.8" />
<text x="223.70" y="151.00" font-size="8.5" text-anchor="start" font-weight="normal" fill="#000" textLength="16.70" lengthAdjust="spacingAndGlyphs" >CAG</text>
<rect x="267.90" y="155.80" width="85.80" height="20.40" fill="#fff" stroke="none" stroke-width="0.6" />
<rect x="269.30" y="158.70" width="4.00" height="4.20" fill="#000" stroke="none" stroke-width="0.6" />
<text x="274.9" y="163.60000000000002" font-size="8.2" fill="#000" textLength="75.4" lengthAdjust="spacingAndGlyphs">Late (Annexin V<tspan font-size="6.6" dy="-3" font-weight="bold">+</tspan><tspan dy="3"> PI</tspan><tspan font-size="6.6" dy="-3" font-weight="bold">+</tspan><tspan dy="3">)</tspan></text>
<rect x="269.70" y="169.50" width="3.30" height="3.50" fill="#bbb" stroke="#222" stroke-width="0.8" />
<text x="274.9" y="174.0" font-size="8.2" fill="#000" textLength="76.3" lengthAdjust="spacingAndGlyphs">Early (Annexin V<tspan font-size="6.6" dy="-3" font-weight="bold">+</tspan><tspan dy="3"> PI</tspan><tspan font-size="6.6" dy="-3" font-weight="bold">−</tspan><tspan dy="3">)</tspan></text>
<text x="223.20" y="276.40" font-size="6.9" text-anchor="middle" font-weight="normal" fill="#111" >0</text>
<text x="250.40" y="276.40" font-size="6.9" text-anchor="middle" font-weight="normal" fill="#111" >3</text>
<text x="277.80" y="276.40" font-size="6.9" text-anchor="middle" font-weight="normal" fill="#111" >5</text>
<text x="304.50" y="276.40" font-size="6.9" text-anchor="middle" font-weight="normal" fill="#111" >7</text>
<text x="332.70" y="276.40" font-size="6.9" text-anchor="middle" font-weight="normal" fill="#111" >10</text>
<text x="197.90" y="216.70" font-size="8.3" text-anchor="middle" font-weight="normal" fill="#000" textLength="64.80" lengthAdjust="spacingAndGlyphs" transform="rotate(-90 197.90 216.70)" >% Apoptotic cells</text>
<text x="188.10" y="277.50" font-size="8.2" text-anchor="start" font-weight="normal" fill="#000" textLength="28.40" lengthAdjust="spacingAndGlyphs" >FTY720</text>
<text x="184.20" y="288.80" font-size="8.2" text-anchor="start" font-weight="normal" fill="#000" textLength="33.20" lengthAdjust="spacingAndGlyphs" >(µmol/L)</text>
<text x="375.00" y="147.40" font-size="14.5" text-anchor="start" font-weight="bold" fill="#000" >C</text>
<line x1="404.00" y1="244.50" x2="520.00" y2="244.50" stroke="#d0d0d0" stroke-width="0.7" />
<line x1="402.60" y1="244.50" x2="404.00" y2="244.50" stroke="#aaa" stroke-width="0.6" />
<line x1="404.00" y1="226.60" x2="520.00" y2="226.60" stroke="#d0d0d0" stroke-width="0.7" />
<line x1="402.60" y1="226.60" x2="404.00" y2="226.60" stroke="#aaa" stroke-width="0.6" />
<line x1="404.00" y1="208.70" x2="520.00" y2="208.70" stroke="#d0d0d0" stroke-width="0.7" />
<line x1="402.60" y1="208.70" x2="404.00" y2="208.70" stroke="#aaa" stroke-width="0.6" />
<line x1="404.00" y1="190.80" x2="520.00" y2="190.80" stroke="#d0d0d0" stroke-width="0.7" />
<line x1="402.60" y1="190.80" x2="404.00" y2="190.80" stroke="#aaa" stroke-width="0.6" />
<line x1="404.00" y1="172.90" x2="520.00" y2="172.90" stroke="#d0d0d0" stroke-width="0.7" />
<line x1="402.60" y1="172.90" x2="404.00" y2="172.90" stroke="#aaa" stroke-width="0.6" />
<text x="395.00" y="267.00" font-size="7.2" text-anchor="middle" font-weight="normal" fill="#111" >0</text>
<text x="395.00" y="249.10" font-size="7.2" text-anchor="middle" font-weight="normal" fill="#111" >20</text>
<text x="395.00" y="231.20" font-size="7.2" text-anchor="middle" font-weight="normal" fill="#111" >40</text>
<text x="395.00" y="213.30" font-size="7.2" text-anchor="middle" font-weight="normal" fill="#111" >60</text>
<text x="395.00" y="195.40" font-size="7.2" text-anchor="middle" font-weight="normal" fill="#111" >80</text>
<text x="395.00" y="177.50" font-size="7.2" text-anchor="middle" font-weight="normal" fill="#111" >100</text>
<text x="395.00" y="159.60" font-size="7.2" text-anchor="middle" font-weight="normal" fill="#111" >120</text>
<rect x="408.70" y="261.86" width="6.90" height="0.54" fill="#878787" stroke="#3a3a3a" stroke-width="0.5" />
<rect x="415.60" y="261.86" width="7.20" height="0.54" fill="#000" stroke="none" stroke-width="0.6" />
<rect x="432.00" y="257.66" width="6.90" height="4.74" fill="#878787" stroke="#3a3a3a" stroke-width="0.5" />
<rect x="438.90" y="254.52" width="7.20" height="7.88" fill="#000" stroke="none" stroke-width="0.6" />
<line x1="435.50" y1="253.46" x2="435.50" y2="257.66" stroke="#222" stroke-width="0.8" />
<line x1="434.00" y1="253.46" x2="437.00" y2="253.46" stroke="#222" stroke-width="0.8" />
<line x1="442.50" y1="250.52" x2="442.50" y2="254.52" stroke="#222" stroke-width="0.8" />
<line x1="441.00" y1="250.52" x2="444.00" y2="250.52" stroke="#222" stroke-width="0.8" />
<rect x="455.10" y="248.80" width="6.90" height="13.60" fill="#878787" stroke="#3a3a3a" stroke-width="0.5" />
<rect x="462.00" y="231.16" width="7.20" height="31.24" fill="#000" stroke="none" stroke-width="0.6" />
<line x1="458.60" y1="245.00" x2="458.60" y2="248.80" stroke="#222" stroke-width="0.8" />
<line x1="457.10" y1="245.00" x2="460.10" y2="245.00" stroke="#222" stroke-width="0.8" />
<line x1="465.60" y1="227.16" x2="465.60" y2="231.16" stroke="#222" stroke-width="0.8" />
<line x1="464.10" y1="227.16" x2="467.10" y2="227.16" stroke="#222" stroke-width="0.8" />
<rect x="478.10" y="229.02" width="6.90" height="33.38" fill="#878787" stroke="#3a3a3a" stroke-width="0.5" />
<rect x="485.00" y="211.38" width="7.20" height="51.01" fill="#000" stroke="none" stroke-width="0.6" />
<line x1="481.60" y1="224.82" x2="481.60" y2="229.02" stroke="#222" stroke-width="0.8" />
<line x1="480.10" y1="224.82" x2="483.10" y2="224.82" stroke="#222" stroke-width="0.8" />
<line x1="488.60" y1="206.38" x2="488.60" y2="211.38" stroke="#222" stroke-width="0.8" />
<line x1="487.10" y1="206.38" x2="490.10" y2="206.38" stroke="#222" stroke-width="0.8" />
<rect x="501.30" y="204.22" width="6.90" height="58.17" fill="#878787" stroke="#3a3a3a" stroke-width="0.5" />
<rect x="508.20" y="174.51" width="7.20" height="87.89" fill="#000" stroke="none" stroke-width="0.6" />
<line x1="504.80" y1="199.42" x2="504.80" y2="204.22" stroke="#222" stroke-width="0.8" />
<line x1="503.30" y1="199.42" x2="506.30" y2="199.42" stroke="#222" stroke-width="0.8" />
<line x1="511.80" y1="172.91" x2="511.80" y2="174.51" stroke="#222" stroke-width="0.8" />
<line x1="510.30" y1="172.91" x2="513.30" y2="172.91" stroke="#222" stroke-width="0.8" />
<line x1="404.00" y1="155.00" x2="404.00" y2="262.40" stroke="#a0a0a0" stroke-width="0.7" />
<line x1="404.00" y1="262.40" x2="520.00" y2="262.40" stroke="#aaa" stroke-width="0.8" />
<line x1="404.00" y1="262.40" x2="404.00" y2="264.00" stroke="#aaa" stroke-width="0.6" />
<line x1="427.20" y1="262.40" x2="427.20" y2="264.00" stroke="#aaa" stroke-width="0.6" />
<line x1="450.30" y1="262.40" x2="450.30" y2="264.00" stroke="#aaa" stroke-width="0.6" />
<line x1="473.40" y1="262.40" x2="473.40" y2="264.00" stroke="#aaa" stroke-width="0.6" />
<line x1="496.50" y1="262.40" x2="496.50" y2="264.00" stroke="#aaa" stroke-width="0.6" />
<line x1="519.60" y1="262.40" x2="519.60" y2="264.00" stroke="#aaa" stroke-width="0.6" />
<text x="458.60" y="246.20" font-size="10" text-anchor="middle" font-weight="bold" fill="#000" textLength="8.20" lengthAdjust="spacingAndGlyphs" >**</text>
<text x="466.00" y="228.20" font-size="10" text-anchor="middle" font-weight="bold" fill="#000" textLength="8.20" lengthAdjust="spacingAndGlyphs" >**</text>
<text x="481.50" y="227.00" font-size="10" text-anchor="middle" font-weight="bold" fill="#000" textLength="8.20" lengthAdjust="spacingAndGlyphs" >**</text>
<text x="489.40" y="208.50" font-size="10" text-anchor="middle" font-weight="bold" fill="#000" textLength="8.20" lengthAdjust="spacingAndGlyphs" >**</text>
<text x="504.60" y="194.80" font-size="10" text-anchor="middle" font-weight="bold" fill="#000" textLength="8.20" lengthAdjust="spacingAndGlyphs" >**</text>
<text x="511.50" y="176.80" font-size="10" text-anchor="middle" font-weight="bold" fill="#000" textLength="8.20" lengthAdjust="spacingAndGlyphs" >**</text>
<rect x="408.80" y="150.80" width="3.10" height="3.10" fill="#8c8c8c" stroke="#444" stroke-width="0.5" />
<text x="417.80" y="155.20" font-size="8.8" text-anchor="start" font-weight="normal" fill="#000" textLength="39.80" lengthAdjust="spacingAndGlyphs" >RPMI8226</text>
<rect x="408.60" y="160.60" width="3.50" height="3.50" fill="#000" stroke="none" stroke-width="0.6" />
<text x="417.80" y="165.80" font-size="8.8" text-anchor="start" font-weight="normal" fill="#000" textLength="16.00" lengthAdjust="spacingAndGlyphs" >CAG</text>
<text x="386.70" y="210.20" font-size="8.3" text-anchor="middle" font-weight="normal" fill="#000" textLength="72.50" lengthAdjust="spacingAndGlyphs" transform="rotate(-90 386.70 210.20)" >% DiOC6-Low cells</text>
<text x="414.30" y="279.80" font-size="6.9" text-anchor="middle" font-weight="normal" fill="#111" >0</text>
<text x="438.70" y="279.80" font-size="6.9" text-anchor="middle" font-weight="normal" fill="#111" >3</text>
<text x="463.70" y="279.80" font-size="6.9" text-anchor="middle" font-weight="normal" fill="#111" >5</text>
<text x="487.40" y="279.80" font-size="6.9" text-anchor="middle" font-weight="normal" fill="#111" >7</text>
<text x="513.40" y="279.80" font-size="6.9" text-anchor="middle" font-weight="normal" fill="#111" >10</text>
<text x="378.10" y="280.20" font-size="8.2" text-anchor="start" font-weight="normal" fill="#000" textLength="28.80" lengthAdjust="spacingAndGlyphs" >FTY720</text>
<text x="375.20" y="291.40" font-size="8.2" text-anchor="start" font-weight="normal" fill="#000" textLength="32.30" lengthAdjust="spacingAndGlyphs" >(µmol/L)</text>
<text x="11.70" y="320.90" font-size="14.5" text-anchor="start" font-weight="bold" fill="#000" >D</text>
<rect x="59.30" y="311.00" width="71.20" height="58.50" fill="none" stroke="#727272" stroke-width="1.0" />
<rect x="59.80" y="326.30" width="54.20" height="27.40" fill="none" stroke="#909090" stroke-width="0.8" />
<line x1="52.70" y1="369.50" x2="56.90" y2="369.50" stroke="#909090" stroke-width="0.9" />
<line x1="52.70" y1="355.02" x2="56.90" y2="355.02" stroke="#909090" stroke-width="0.9" />
<line x1="52.70" y1="340.54" x2="56.90" y2="340.54" stroke="#909090" stroke-width="0.9" />
<line x1="52.70" y1="326.06" x2="56.90" y2="326.06" stroke="#909090" stroke-width="0.9" />
<line x1="58.10" y1="373.10" x2="61.10" y2="373.10" stroke="#a8a8a8" stroke-width="0.8" />
<line x1="72.06" y1="373.10" x2="75.06" y2="373.10" stroke="#a8a8a8" stroke-width="0.8" />
<line x1="86.01" y1="373.10" x2="89.01" y2="373.10" stroke="#a8a8a8" stroke-width="0.8" />
<line x1="99.97" y1="373.10" x2="102.97" y2="373.10" stroke="#a8a8a8" stroke-width="0.8" />
<line x1="113.92" y1="373.10" x2="116.92" y2="373.10" stroke="#a8a8a8" stroke-width="0.8" />
<line x1="127.88" y1="373.10" x2="130.88" y2="373.10" stroke="#a8a8a8" stroke-width="0.8" />
<line x1="59.30" y1="369.50" x2="59.30" y2="370.40" stroke="#777" stroke-width="0.3" />
<line x1="61.67" y1="369.50" x2="61.67" y2="370.40" stroke="#777" stroke-width="0.3" />
<line x1="64.05" y1="369.50" x2="64.05" y2="370.40" stroke="#777" stroke-width="0.3" />
<line x1="66.42" y1="369.50" x2="66.42" y2="370.40" stroke="#777" stroke-width="0.3" />
<line x1="68.79" y1="369.50" x2="68.79" y2="370.40" stroke="#777" stroke-width="0.3" />
<line x1="71.17" y1="369.50" x2="71.17" y2="370.40" stroke="#777" stroke-width="0.3" />
<line x1="73.54" y1="369.50" x2="73.54" y2="370.40" stroke="#777" stroke-width="0.3" />
<line x1="75.91" y1="369.50" x2="75.91" y2="370.40" stroke="#777" stroke-width="0.3" />
<line x1="78.29" y1="369.50" x2="78.29" y2="370.40" stroke="#777" stroke-width="0.3" />
<line x1="80.66" y1="369.50" x2="80.66" y2="370.40" stroke="#777" stroke-width="0.3" />
<line x1="83.03" y1="369.50" x2="83.03" y2="370.40" stroke="#777" stroke-width="0.3" />
<line x1="85.41" y1="369.50" x2="85.41" y2="370.40" stroke="#777" stroke-width="0.3" />
<line x1="87.78" y1="369.50" x2="87.78" y2="370.40" stroke="#777" stroke-width="0.3" />
<line x1="90.15" y1="369.50" x2="90.15" y2="370.40" stroke="#777" stroke-width="0.3" />
<line x1="92.53" y1="369.50" x2="92.53" y2="370.40" stroke="#777" stroke-width="0.3" />
<line x1="94.90" y1="369.50" x2="94.90" y2="370.40" stroke="#777" stroke-width="0.3" />
<line x1="97.27" y1="369.50" x2="97.27" y2="370.40" stroke="#777" stroke-width="0.3" />
<line x1="99.65" y1="369.50" x2="99.65" y2="370.40" stroke="#777" stroke-width="0.3" />
<line x1="102.02" y1="369.50" x2="102.02" y2="370.40" stroke="#777" stroke-width="0.3" />
<line x1="104.39" y1="369.50" x2="104.39" y2="370.40" stroke="#777" stroke-width="0.3" />
<line x1="106.77" y1="369.50" x2="106.77" y2="370.40" stroke="#777" stroke-width="0.3" />
<line x1="109.14" y1="369.50" x2="109.14" y2="370.40" stroke="#777" stroke-width="0.3" />
<line x1="111.51" y1="369.50" x2="111.51" y2="370.40" stroke="#777" stroke-width="0.3" />
<line x1="113.89" y1="369.50" x2="113.89" y2="370.40" stroke="#777" stroke-width="0.3" />
<line x1="116.26" y1="369.50" x2="116.26" y2="370.40" stroke="#777" stroke-width="0.3" />
<line x1="118.63" y1="369.50" x2="118.63" y2="370.40" stroke="#777" stroke-width="0.3" />
<line x1="121.01" y1="369.50" x2="121.01" y2="370.40" stroke="#777" stroke-width="0.3" />
<line x1="123.38" y1="369.50" x2="123.38" y2="370.40" stroke="#777" stroke-width="0.3" />
<line x1="125.75" y1="369.50" x2="125.75" y2="370.40" stroke="#777" stroke-width="0.3" />
<line x1="128.13" y1="369.50" x2="128.13" y2="370.40" stroke="#777" stroke-width="0.3" />
<path d="M78.5 338.6 C80.0 337.5 82.4 336.2 84.3 336.0 C86.2 335.7 87.9 336.1 89.7 336.9 C91.5 337.6 93.6 339.1 95.0 340.3 C96.4 341.6 97.8 343.1 97.9 344.3 C98.0 345.5 96.8 346.8 95.7 347.8 C94.6 348.8 92.7 349.3 91.4 350.4 C90.1 351.4 88.9 352.6 87.7 353.9 C86.5 355.2 85.1 356.6 84.1 358.2 C83.0 359.7 82.6 361.8 81.4 363.2 C80.3 364.5 78.9 366.0 77.3 366.4 C75.7 366.8 72.8 366.5 71.7 365.3 C70.5 364.2 70.5 361.6 70.4 359.5 C70.4 357.4 70.9 354.7 71.3 352.7 C71.7 350.6 72.0 348.8 72.7 347.1 C73.4 345.4 74.5 343.7 75.4 342.3 C76.4 340.9 77.0 339.6 78.5 338.6Z" fill="none" stroke="#333" stroke-width="0.55"/>
<path d="M80.0 339.8 C81.1 339.0 82.6 337.8 84.0 337.6 C85.5 337.5 87.2 338.1 88.7 338.7 C90.2 339.4 92.2 340.6 93.2 341.5 C94.2 342.4 94.9 343.4 94.9 344.3 C95.0 345.3 94.3 346.3 93.5 347.2 C92.8 348.1 91.4 348.8 90.3 349.6 C89.2 350.4 87.8 351.3 86.8 352.2 C85.7 353.2 85.0 354.1 84.2 355.4 C83.5 356.6 83.3 358.5 82.3 359.6 C81.3 360.8 79.8 362.2 78.4 362.4 C77.1 362.7 75.2 362.3 74.3 361.3 C73.5 360.3 73.6 358.1 73.5 356.5 C73.4 354.8 73.4 352.9 73.6 351.3 C73.9 349.7 74.5 348.4 75.1 346.9 C75.8 345.5 76.7 344.0 77.5 342.8 C78.3 341.6 78.9 340.7 80.0 339.8Z" fill="none" stroke="#333" stroke-width="0.55"/>
<path d="M81.0 341.0 C81.9 340.4 82.9 339.6 84.0 339.6 C85.2 339.5 86.8 340.1 87.9 340.6 C89.1 341.1 90.2 341.8 90.9 342.5 C91.7 343.1 92.1 343.7 92.2 344.4 C92.3 345.1 92.1 346.1 91.5 346.8 C91.0 347.5 89.7 348.1 88.8 348.7 C87.9 349.3 86.8 349.7 86.1 350.4 C85.4 351.1 85.1 351.8 84.6 352.8 C84.0 353.7 83.6 355.3 82.8 356.2 C82.0 357.1 80.8 358.1 79.8 358.3 C78.9 358.4 77.8 357.9 77.2 357.1 C76.5 356.4 76.3 354.8 76.2 353.7 C76.0 352.5 76.0 351.2 76.2 350.0 C76.5 348.8 77.3 347.7 77.8 346.5 C78.2 345.4 78.6 344.2 79.2 343.2 C79.7 342.3 80.2 341.6 81.0 341.0Z" fill="none" stroke="#333" stroke-width="0.55"/>
<path d="M82.1 342.4 C82.6 342.0 83.5 341.6 84.3 341.6 C85.1 341.6 86.2 342.0 86.9 342.3 C87.6 342.5 88.2 342.9 88.7 343.3 C89.1 343.7 89.7 344.2 89.8 344.7 C89.9 345.2 89.7 346.0 89.3 346.5 C88.9 347.0 87.8 347.3 87.2 347.6 C86.6 348.0 86.1 348.2 85.7 348.6 C85.3 349.1 85.1 349.6 84.7 350.3 C84.2 351.0 83.7 352.1 83.2 352.7 C82.7 353.3 82.1 353.9 81.5 353.9 C80.9 354.0 80.1 353.6 79.7 353.1 C79.2 352.6 78.9 351.7 78.8 351.0 C78.7 350.2 78.9 349.4 79.1 348.6 C79.3 347.8 79.8 346.8 80.1 346.1 C80.4 345.3 80.5 344.5 80.8 343.9 C81.1 343.3 81.5 342.8 82.1 342.4Z" fill="none" stroke="#333" stroke-width="0.55"/>
<path d="M83.3 343.9 C83.6 343.7 84.1 343.6 84.5 343.6 C84.9 343.5 85.3 343.7 85.7 343.8 C86.0 343.9 86.4 344.1 86.6 344.3 C86.9 344.5 87.2 344.8 87.3 345.1 C87.3 345.4 87.1 345.8 86.9 346.0 C86.7 346.2 86.2 346.3 85.9 346.5 C85.6 346.6 85.4 346.7 85.2 347.0 C85.0 347.2 84.8 347.6 84.6 347.9 C84.3 348.3 84.1 348.8 83.9 349.1 C83.7 349.4 83.4 349.6 83.1 349.6 C82.8 349.6 82.3 349.5 82.1 349.3 C81.8 349.0 81.7 348.6 81.7 348.2 C81.7 347.9 81.8 347.4 81.9 347.0 C82.0 346.5 82.2 346.1 82.3 345.7 C82.4 345.3 82.5 345.0 82.7 344.7 C82.9 344.4 83.0 344.1 83.3 343.9Z" fill="none" stroke="#333" stroke-width="0.55"/>
<line x1="59.30" y1="311.00" x2="59.30" y2="369.50" stroke="#3a3a3a" stroke-width="1.1" />
<line x1="59.30" y1="369.50" x2="130.50" y2="369.50" stroke="#3a3a3a" stroke-width="1.1" />
<path d="M73.6 352.9 C74.6 352.9 75.7 353.2 76.5 353.8 C77.3 354.4 77.9 355.2 78.5 356.5 C79.0 357.7 79.5 359.5 79.8 361.1 C80.1 362.6 80.3 364.3 80.4 365.6 C80.5 367.0 81.4 368.5 80.4 369.1 C79.3 369.7 76.2 369.3 74.0 369.3 C71.8 369.3 68.5 369.9 67.3 369.3 C66.2 368.7 67.0 367.0 67.1 365.6 C67.1 364.2 67.3 362.4 67.5 360.9 C67.8 359.4 68.0 357.7 68.5 356.6 C69.1 355.4 69.8 354.5 70.7 353.9 C71.5 353.3 72.6 353.0 73.6 352.9Z" fill="none" stroke="#161616" stroke-width="0.75"/>
<path d="M73.7 354.2 C74.6 354.1 75.3 354.3 76.0 354.8 C76.7 355.4 77.4 356.3 77.9 357.4 C78.4 358.4 78.9 360.1 79.1 361.4 C79.4 362.7 79.4 364.1 79.4 365.2 C79.5 366.4 80.4 367.7 79.5 368.3 C78.7 368.9 76.0 368.6 74.1 368.6 C72.1 368.7 69.0 369.1 68.0 368.5 C66.9 368.0 67.8 366.4 67.9 365.1 C68.0 363.9 68.2 362.4 68.4 361.1 C68.6 359.9 68.6 358.5 69.0 357.5 C69.5 356.5 70.3 355.6 71.1 355.1 C71.8 354.5 72.9 354.2 73.7 354.2Z" fill="none" stroke="#161616" stroke-width="0.75"/>
<path d="M73.7 355.3 C74.3 355.3 75.0 355.5 75.6 356.0 C76.2 356.5 76.9 357.3 77.4 358.3 C77.9 359.2 78.1 360.5 78.3 361.6 C78.5 362.7 78.4 363.8 78.5 364.8 C78.6 365.8 79.6 367.1 78.8 367.6 C78.1 368.1 75.6 367.9 74.0 367.9 C72.3 367.9 69.5 368.2 68.7 367.7 C67.8 367.2 68.8 365.8 68.9 364.8 C68.9 363.7 69.0 362.6 69.1 361.5 C69.2 360.4 69.2 359.2 69.6 358.3 C70.0 357.4 70.9 356.6 71.6 356.1 C72.2 355.6 73.0 355.4 73.7 355.3Z" fill="none" stroke="#161616" stroke-width="0.75"/>
<path d="M73.5 356.6 C74.1 356.6 74.8 356.8 75.3 357.2 C75.9 357.7 76.5 358.4 76.8 359.1 C77.2 359.9 77.2 360.9 77.4 361.8 C77.6 362.7 77.6 363.6 77.7 364.5 C77.8 365.3 78.6 366.4 78.0 366.9 C77.3 367.3 75.2 367.1 73.8 367.1 C72.4 367.1 70.3 367.3 69.6 366.8 C68.9 366.4 69.7 365.3 69.7 364.5 C69.7 363.6 69.6 362.7 69.7 361.8 C69.8 360.9 70.0 359.8 70.3 359.1 C70.7 358.3 71.4 357.6 71.9 357.2 C72.5 356.8 73.0 356.6 73.5 356.6Z" fill="none" stroke="#161616" stroke-width="0.75"/>
<path d="M73.5 357.9 C74.0 357.9 74.6 358.1 75.1 358.5 C75.5 358.8 75.8 359.3 76.1 359.9 C76.3 360.5 76.5 361.2 76.6 361.9 C76.8 362.7 76.9 363.5 77.0 364.2 C77.1 364.9 77.6 365.8 77.0 366.1 C76.5 366.5 74.8 366.2 73.7 366.2 C72.6 366.2 71.0 366.3 70.5 366.0 C69.9 365.7 70.4 364.9 70.4 364.2 C70.4 363.6 70.4 362.8 70.5 362.1 C70.6 361.3 70.8 360.4 71.1 359.8 C71.4 359.2 71.8 358.7 72.2 358.4 C72.6 358.0 73.1 357.8 73.5 357.9Z" fill="none" stroke="#161616" stroke-width="0.75"/>
<path d="M73.6 359.2 C74.0 359.2 74.4 359.4 74.7 359.6 C75.0 359.9 75.2 360.2 75.4 360.6 C75.6 361.0 75.8 361.6 75.9 362.2 C76.0 362.8 76.1 363.4 76.1 363.9 C76.2 364.5 76.5 365.1 76.1 365.4 C75.7 365.6 74.6 365.4 73.8 365.3 C73.0 365.3 71.7 365.5 71.3 365.3 C70.8 365.0 71.2 364.5 71.2 364.0 C71.2 363.5 71.3 362.9 71.3 362.3 C71.4 361.7 71.5 361.0 71.7 360.6 C71.9 360.1 72.2 359.8 72.5 359.6 C72.8 359.3 73.2 359.2 73.6 359.2Z" fill="none" stroke="#161616" stroke-width="0.75"/>
<path d="M73.6 360.5 C73.9 360.5 74.1 360.6 74.3 360.8 C74.5 360.9 74.7 361.1 74.8 361.4 C75.0 361.7 75.1 362.1 75.2 362.5 C75.2 362.9 75.2 363.3 75.2 363.6 C75.2 364.0 75.5 364.4 75.3 364.5 C75.0 364.7 74.3 364.5 73.7 364.5 C73.2 364.5 72.3 364.7 72.0 364.5 C71.7 364.4 72.0 364.0 72.0 363.7 C72.0 363.3 72.1 362.9 72.1 362.5 C72.2 362.1 72.2 361.7 72.3 361.4 C72.4 361.1 72.7 360.9 72.9 360.8 C73.1 360.6 73.4 360.5 73.6 360.5Z" fill="none" stroke="#161616" stroke-width="0.75"/>
<path d="M73.6 361.8 C73.7 361.8 73.8 361.8 73.9 361.9 C74.0 362.0 74.1 362.1 74.2 362.2 C74.3 362.4 74.3 362.6 74.3 362.8 C74.4 363.0 74.4 363.2 74.4 363.3 C74.4 363.5 74.6 363.7 74.4 363.7 C74.3 363.8 73.9 363.8 73.7 363.8 C73.4 363.8 72.9 363.8 72.8 363.8 C72.7 363.7 72.8 363.5 72.8 363.3 C72.9 363.1 72.9 362.9 72.9 362.7 C72.9 362.6 72.9 362.4 73.0 362.2 C73.0 362.1 73.2 362.0 73.3 361.9 C73.4 361.8 73.5 361.8 73.6 361.8Z" fill="none" stroke="#161616" stroke-width="0.75"/>
<ellipse cx="73.6" cy="362.6" rx="4.2" ry="6" fill="#333" opacity="0.7"/>
<ellipse cx="73.4" cy="361" rx="1" ry="3.2" fill="#ddd" opacity="0.8"/>
<text x="46.90" y="329.50" font-size="9.5" text-anchor="middle" font-weight="normal" fill="#000" textLength="25.20" lengthAdjust="spacingAndGlyphs" transform="rotate(-90 46.90 329.50)" >CD138</text>
<line x1="42.70" y1="383.85" x2="42.70" y2="351.00" stroke="#000" stroke-width="1.1" />
<path d="M42.70 347.00 L45.80 353.20 L39.60 353.20Z" fill="#000"/>
<line x1="42.15" y1="383.30" x2="75.30" y2="383.30" stroke="#000" stroke-width="1.1" />
<path d="M79.30 383.30 L73.10 380.20 L73.10 386.40Z" fill="#000"/>
<text x="86.90" y="388.80" font-size="9.5" text-anchor="start" font-weight="normal" fill="#000" textLength="13.30" lengthAdjust="spacingAndGlyphs" >FSC</text>
<line x1="109.80" y1="353.70" x2="109.80" y2="390.00" stroke="#000" stroke-width="0.9" />
<path d="M109.80 394.00 L113.20 388.20 L106.40 388.20Z" fill="#000"/>
<text x="64.70" y="399.40" font-size="9.5" text-anchor="start" font-weight="normal" fill="#000" textLength="27.70" lengthAdjust="spacingAndGlyphs" >solvent</text>
<rect x="57.50" y="402.30" width="71.90" height="58.90" fill="none" stroke="#727272" stroke-width="1.0" />
<rect x="63.80" y="412.10" width="63.90" height="35.70" fill="none" stroke="#909090" stroke-width="0.8" />
<line x1="50.90" y1="461.20" x2="55.10" y2="461.20" stroke="#909090" stroke-width="0.9" />
<line x1="50.90" y1="446.62" x2="55.10" y2="446.62" stroke="#909090" stroke-width="0.9" />
<line x1="50.90" y1="432.04" x2="55.10" y2="432.04" stroke="#909090" stroke-width="0.9" />
<line x1="50.90" y1="417.47" x2="55.10" y2="417.47" stroke="#909090" stroke-width="0.9" />
<line x1="56.30" y1="464.80" x2="59.30" y2="464.80" stroke="#a8a8a8" stroke-width="0.8" />
<line x1="70.39" y1="464.80" x2="73.39" y2="464.80" stroke="#a8a8a8" stroke-width="0.8" />
<line x1="84.48" y1="464.80" x2="87.48" y2="464.80" stroke="#a8a8a8" stroke-width="0.8" />
<line x1="98.58" y1="464.80" x2="101.58" y2="464.80" stroke="#a8a8a8" stroke-width="0.8" />
<line x1="112.67" y1="464.80" x2="115.67" y2="464.80" stroke="#a8a8a8" stroke-width="0.8" />
<line x1="126.76" y1="464.80" x2="129.76" y2="464.80" stroke="#a8a8a8" stroke-width="0.8" />
<line x1="57.50" y1="461.20" x2="57.50" y2="462.10" stroke="#777" stroke-width="0.3" />
<line x1="59.90" y1="461.20" x2="59.90" y2="462.10" stroke="#777" stroke-width="0.3" />
<line x1="62.29" y1="461.20" x2="62.29" y2="462.10" stroke="#777" stroke-width="0.3" />
<line x1="64.69" y1="461.20" x2="64.69" y2="462.10" stroke="#777" stroke-width="0.3" />
<line x1="67.09" y1="461.20" x2="67.09" y2="462.10" stroke="#777" stroke-width="0.3" />
<line x1="69.48" y1="461.20" x2="69.48" y2="462.10" stroke="#777" stroke-width="0.3" />
<line x1="71.88" y1="461.20" x2="71.88" y2="462.10" stroke="#777" stroke-width="0.3" />
<line x1="74.28" y1="461.20" x2="74.28" y2="462.10" stroke="#777" stroke-width="0.3" />
<line x1="76.67" y1="461.20" x2="76.67" y2="462.10" stroke="#777" stroke-width="0.3" />
<line x1="79.07" y1="461.20" x2="79.07" y2="462.10" stroke="#777" stroke-width="0.3" />
<line x1="81.47" y1="461.20" x2="81.47" y2="462.10" stroke="#777" stroke-width="0.3" />
<line x1="83.86" y1="461.20" x2="83.86" y2="462.10" stroke="#777" stroke-width="0.3" />
<line x1="86.26" y1="461.20" x2="86.26" y2="462.10" stroke="#777" stroke-width="0.3" />
<line x1="88.66" y1="461.20" x2="88.66" y2="462.10" stroke="#777" stroke-width="0.3" />
<line x1="91.05" y1="461.20" x2="91.05" y2="462.10" stroke="#777" stroke-width="0.3" />
<line x1="93.45" y1="461.20" x2="93.45" y2="462.10" stroke="#777" stroke-width="0.3" />
<line x1="95.85" y1="461.20" x2="95.85" y2="462.10" stroke="#777" stroke-width="0.3" />
<line x1="98.24" y1="461.20" x2="98.24" y2="462.10" stroke="#777" stroke-width="0.3" />
<line x1="100.64" y1="461.20" x2="100.64" y2="462.10" stroke="#777" stroke-width="0.3" />
<line x1="103.04" y1="461.20" x2="103.04" y2="462.10" stroke="#777" stroke-width="0.3" />
<line x1="105.43" y1="461.20" x2="105.43" y2="462.10" stroke="#777" stroke-width="0.3" />
<line x1="107.83" y1="461.20" x2="107.83" y2="462.10" stroke="#777" stroke-width="0.3" />
<line x1="110.23" y1="461.20" x2="110.23" y2="462.10" stroke="#777" stroke-width="0.3" />
<line x1="112.62" y1="461.20" x2="112.62" y2="462.10" stroke="#777" stroke-width="0.3" />
<line x1="115.02" y1="461.20" x2="115.02" y2="462.10" stroke="#777" stroke-width="0.3" />
<line x1="117.42" y1="461.20" x2="117.42" y2="462.10" stroke="#777" stroke-width="0.3" />
<line x1="119.81" y1="461.20" x2="119.81" y2="462.10" stroke="#777" stroke-width="0.3" />
<line x1="122.21" y1="461.20" x2="122.21" y2="462.10" stroke="#777" stroke-width="0.3" />
<line x1="124.61" y1="461.20" x2="124.61" y2="462.10" stroke="#777" stroke-width="0.3" />
<line x1="127.00" y1="461.20" x2="127.00" y2="462.10" stroke="#777" stroke-width="0.3" />
<path d="M88.0 437.5 C89.6 437.4 91.6 437.7 93.1 438.4 C94.7 439.0 96.3 440.1 97.4 441.4 C98.5 442.6 99.3 444.4 99.8 446.1 C100.3 447.7 100.3 449.5 100.3 451.1 C100.4 452.8 100.7 454.6 100.3 455.9 C99.9 457.2 99.2 458.2 98.0 458.9 C96.8 459.6 95.0 459.9 93.1 460.1 C91.3 460.4 89.1 460.4 86.9 460.4 C84.7 460.3 82.3 460.2 80.0 459.9 C77.7 459.5 74.8 459.2 73.1 458.5 C71.4 457.8 69.7 456.7 69.9 455.6 C70.0 454.6 72.5 453.2 74.0 452.0 C75.6 450.8 78.0 449.9 79.1 448.5 C80.2 447.0 79.7 445.1 80.5 443.5 C81.2 442.0 82.4 440.3 83.6 439.3 C84.9 438.3 86.4 437.7 88.0 437.5Z" fill="none" stroke="#222" stroke-width="0.6"/>
<path d="M88.2 439.9 C89.5 439.8 90.9 440.0 92.1 440.5 C93.3 441.0 94.7 442.0 95.6 443.1 C96.6 444.1 97.3 445.5 97.7 446.8 C98.0 448.1 97.8 449.4 97.8 450.7 C97.9 452.0 98.2 453.5 98.0 454.6 C97.7 455.6 97.2 456.5 96.2 457.1 C95.3 457.7 93.6 457.9 92.1 458.0 C90.6 458.2 88.9 458.1 87.2 458.1 C85.5 458.1 83.7 458.0 81.8 457.8 C80.0 457.6 77.4 457.3 76.1 456.8 C74.7 456.2 73.5 455.3 73.6 454.4 C73.8 453.5 75.8 452.4 77.0 451.4 C78.2 450.5 80.0 449.8 80.9 448.7 C81.7 447.6 81.5 446.0 82.1 444.8 C82.8 443.6 83.7 442.1 84.7 441.3 C85.7 440.5 87.0 440.0 88.2 439.9Z" fill="none" stroke="#222" stroke-width="0.6"/>
<path d="M88.3 442.2 C89.2 442.1 90.2 442.3 91.2 442.8 C92.1 443.2 93.3 444.0 94.0 444.7 C94.7 445.5 95.1 446.5 95.4 447.5 C95.6 448.4 95.4 449.4 95.5 450.3 C95.5 451.3 95.9 452.5 95.7 453.3 C95.5 454.2 95.0 454.9 94.3 455.3 C93.5 455.7 92.2 455.7 91.2 455.8 C90.1 455.9 89.0 455.9 87.7 455.9 C86.4 455.9 84.9 455.9 83.5 455.8 C82.1 455.6 80.1 455.4 79.2 455.0 C78.2 454.5 77.4 453.8 77.5 453.1 C77.6 452.4 79.0 451.6 79.9 450.9 C80.8 450.2 82.1 449.8 82.8 449.0 C83.4 448.2 83.4 446.9 83.8 446.0 C84.3 445.0 84.9 443.9 85.6 443.3 C86.4 442.6 87.4 442.3 88.3 442.2Z" fill="none" stroke="#222" stroke-width="0.6"/>
<path d="M88.3 444.6 C89.0 444.6 89.7 444.7 90.3 445.0 C91.0 445.3 91.8 445.8 92.2 446.4 C92.7 446.9 92.9 447.5 93.0 448.1 C93.2 448.7 93.2 449.4 93.2 450.0 C93.3 450.7 93.5 451.6 93.4 452.1 C93.2 452.7 92.8 453.1 92.3 453.4 C91.8 453.6 91.1 453.6 90.3 453.7 C89.6 453.7 88.9 453.8 88.0 453.8 C87.1 453.8 86.1 453.8 85.1 453.7 C84.2 453.6 83.0 453.5 82.3 453.1 C81.7 452.8 81.2 452.3 81.2 451.9 C81.3 451.4 82.1 450.9 82.7 450.5 C83.3 450.0 84.3 449.8 84.7 449.2 C85.2 448.6 85.2 447.8 85.5 447.1 C85.8 446.5 86.1 445.7 86.6 445.3 C87.0 444.9 87.7 444.7 88.3 444.6Z" fill="none" stroke="#222" stroke-width="0.6"/>
<path d="M88.5 447.1 C88.8 447.0 89.2 447.2 89.5 447.3 C89.8 447.4 90.2 447.7 90.4 447.9 C90.6 448.2 90.7 448.5 90.8 448.8 C90.9 449.1 90.9 449.4 90.9 449.8 C91.0 450.1 91.0 450.6 91.0 450.8 C90.9 451.1 90.7 451.3 90.5 451.4 C90.2 451.5 89.9 451.5 89.5 451.6 C89.1 451.6 88.7 451.6 88.3 451.7 C87.8 451.7 87.3 451.7 86.9 451.6 C86.4 451.6 85.8 451.5 85.5 451.3 C85.2 451.1 84.9 450.9 84.9 450.7 C84.9 450.5 85.3 450.2 85.7 450.0 C86.0 449.8 86.5 449.6 86.7 449.3 C86.9 449.1 86.9 448.6 87.0 448.3 C87.1 448.0 87.3 447.6 87.6 447.4 C87.8 447.2 88.1 447.1 88.5 447.1Z" fill="none" stroke="#222" stroke-width="0.6"/>
<path d="M68.0 458.7 C68.3 457.9 70.1 456.2 72.1 455.5 C74.1 454.8 76.9 454.6 79.9 454.5 C82.9 454.4 87.0 454.7 90.0 455.0 C93.0 455.4 95.9 456.0 98.1 456.6 C100.2 457.2 102.9 457.8 102.9 458.4 C102.9 459.1 100.5 460.1 98.0 460.5 C95.5 461.0 91.8 461.0 88.1 461.1 C84.4 461.2 78.9 461.2 75.9 461.1 C72.9 460.9 71.3 460.7 70.0 460.3 C68.7 459.9 67.7 459.5 68.0 458.7Z" fill="none" stroke="#1a1a1a" stroke-width="0.6"/>
<path d="M70.6 458.6 C70.9 458.0 72.1 456.6 73.7 456.1 C75.2 455.6 77.6 455.5 79.9 455.4 C82.3 455.4 85.6 455.6 88.0 455.8 C90.3 456.1 92.5 456.5 94.2 457.0 C95.8 457.4 98.0 457.9 98.1 458.4 C98.1 459.0 96.2 459.8 94.3 460.2 C92.3 460.5 89.2 460.5 86.3 460.6 C83.4 460.6 79.1 460.6 76.8 460.5 C74.5 460.4 73.2 460.3 72.2 459.9 C71.2 459.6 70.4 459.3 70.6 458.6Z" fill="none" stroke="#1a1a1a" stroke-width="0.6"/>
<path d="M73.1 458.6 C73.3 458.1 74.2 457.1 75.3 456.8 C76.5 456.4 78.3 456.4 80.0 456.3 C81.8 456.3 84.1 456.4 85.8 456.6 C87.5 456.7 89.0 457.0 90.3 457.4 C91.5 457.7 93.2 458.1 93.3 458.5 C93.3 458.9 91.8 459.5 90.4 459.8 C88.9 460.0 86.7 460.0 84.5 460.0 C82.4 460.0 79.4 460.0 77.7 459.9 C76.0 459.9 75.0 459.8 74.3 459.6 C73.5 459.4 73.0 459.1 73.1 458.6Z" fill="none" stroke="#1a1a1a" stroke-width="0.6"/>
<path d="M75.6 458.6 C75.7 458.3 76.4 457.7 77.1 457.5 C77.8 457.2 79.0 457.2 80.0 457.2 C81.1 457.2 82.5 457.2 83.6 457.3 C84.7 457.4 85.7 457.6 86.5 457.8 C87.3 458.0 88.4 458.3 88.4 458.6 C88.4 458.8 87.4 459.2 86.5 459.4 C85.6 459.5 84.2 459.4 82.9 459.5 C81.6 459.5 79.7 459.5 78.6 459.4 C77.5 459.4 76.8 459.4 76.3 459.3 C75.9 459.1 75.5 458.9 75.6 458.6Z" fill="none" stroke="#1a1a1a" stroke-width="0.6"/>
<path d="M78.2 458.6 C78.2 458.5 78.5 458.2 78.8 458.1 C79.1 458.0 79.6 458.0 80.0 458.0 C80.4 458.0 81.0 458.0 81.5 458.0 C81.9 458.1 82.4 458.2 82.7 458.3 C83.0 458.4 83.5 458.5 83.5 458.6 C83.4 458.7 83.1 458.8 82.7 458.9 C82.3 459.0 81.8 458.9 81.2 458.9 C80.7 459.0 79.9 459.0 79.4 459.0 C78.9 458.9 78.7 458.9 78.5 458.9 C78.3 458.8 78.1 458.7 78.2 458.6Z" fill="none" stroke="#1a1a1a" stroke-width="0.6"/>
<ellipse cx="79" cy="458.8" rx="8" ry="1.7" fill="#222" opacity="0.85"/>
<path d="M77.6 432.0 C78.4 432.1 79.9 432.4 80.5 433.0 C81.1 433.6 81.3 434.5 81.2 435.3 C81.1 436.1 80.5 437.2 79.8 437.6 C79.1 438.1 77.7 438.2 76.8 438.0 C75.9 437.8 74.8 437.2 74.4 436.5 C74.0 435.8 74.0 434.7 74.2 434.0 C74.4 433.3 75.0 432.7 75.6 432.4 C76.2 432.1 76.8 431.9 77.6 432.0Z" fill="none" stroke="#333" stroke-width="0.6"/>
<ellipse cx="86.7" cy="430" rx="1.7" ry="0.9" fill="none" stroke="#555" stroke-width="0.5"/>
<line x1="91.00" y1="429.70" x2="97.50" y2="429.70" stroke="#777" stroke-width="0.5" stroke-dasharray="1.6 1" />
<text x="47.60" y="420.70" font-size="9.5" text-anchor="middle" font-weight="normal" fill="#000" textLength="24.00" lengthAdjust="spacingAndGlyphs" transform="rotate(-90 47.60 420.70)" >7-AAD</text>
<line x1="43.75" y1="473.95" x2="43.75" y2="441.30" stroke="#000" stroke-width="1.1" />
<path d="M43.75 437.30 L46.85 443.50 L40.65 443.50Z" fill="#000"/>
<line x1="43.20" y1="473.40" x2="75.30" y2="473.40" stroke="#000" stroke-width="1.1" />
<path d="M79.30 473.40 L73.10 470.30 L73.10 476.50Z" fill="#000"/>
<text x="86.00" y="479.30" font-size="9.5" text-anchor="start" font-weight="normal" fill="#000" textLength="25.40" lengthAdjust="spacingAndGlyphs" >CD138</text>
<text x="148.70" y="400.40" font-size="9.5" text-anchor="start" font-weight="normal" fill="#000" textLength="65.00" lengthAdjust="spacingAndGlyphs" >FTY720 5 µmol/L</text>
<rect x="142.00" y="403.30" width="73.30" height="57.50" fill="none" stroke="#727272" stroke-width="1.0" />
<rect x="148.80" y="411.90" width="61.00" height="35.90" fill="none" stroke="#909090" stroke-width="0.8" />
<line x1="135.40" y1="460.80" x2="139.60" y2="460.80" stroke="#909090" stroke-width="0.9" />
<line x1="135.40" y1="446.57" x2="139.60" y2="446.57" stroke="#909090" stroke-width="0.9" />
<line x1="135.40" y1="432.34" x2="139.60" y2="432.34" stroke="#909090" stroke-width="0.9" />
<line x1="135.40" y1="418.11" x2="139.60" y2="418.11" stroke="#909090" stroke-width="0.9" />
<line x1="140.80" y1="464.40" x2="143.80" y2="464.40" stroke="#a8a8a8" stroke-width="0.8" />
<line x1="155.17" y1="464.40" x2="158.17" y2="464.40" stroke="#a8a8a8" stroke-width="0.8" />
<line x1="169.53" y1="464.40" x2="172.53" y2="464.40" stroke="#a8a8a8" stroke-width="0.8" />
<line x1="183.90" y1="464.40" x2="186.90" y2="464.40" stroke="#a8a8a8" stroke-width="0.8" />
<line x1="198.27" y1="464.40" x2="201.27" y2="464.40" stroke="#a8a8a8" stroke-width="0.8" />
<line x1="212.63" y1="464.40" x2="215.63" y2="464.40" stroke="#a8a8a8" stroke-width="0.8" />
<line x1="142.00" y1="460.80" x2="142.00" y2="461.70" stroke="#777" stroke-width="0.3" />
<line x1="144.44" y1="460.80" x2="144.44" y2="461.70" stroke="#777" stroke-width="0.3" />
<line x1="146.89" y1="460.80" x2="146.89" y2="461.70" stroke="#777" stroke-width="0.3" />
<line x1="149.33" y1="460.80" x2="149.33" y2="461.70" stroke="#777" stroke-width="0.3" />
<line x1="151.77" y1="460.80" x2="151.77" y2="461.70" stroke="#777" stroke-width="0.3" />
<line x1="154.22" y1="460.80" x2="154.22" y2="461.70" stroke="#777" stroke-width="0.3" />
<line x1="156.66" y1="460.80" x2="156.66" y2="461.70" stroke="#777" stroke-width="0.3" />
<line x1="159.10" y1="460.80" x2="159.10" y2="461.70" stroke="#777" stroke-width="0.3" />
<line x1="161.55" y1="460.80" x2="161.55" y2="461.70" stroke="#777" stroke-width="0.3" />
<line x1="163.99" y1="460.80" x2="163.99" y2="461.70" stroke="#777" stroke-width="0.3" />
<line x1="166.43" y1="460.80" x2="166.43" y2="461.70" stroke="#777" stroke-width="0.3" />
<line x1="168.88" y1="460.80" x2="168.88" y2="461.70" stroke="#777" stroke-width="0.3" />
<line x1="171.32" y1="460.80" x2="171.32" y2="461.70" stroke="#777" stroke-width="0.3" />
<line x1="173.76" y1="460.80" x2="173.76" y2="461.70" stroke="#777" stroke-width="0.3" />
<line x1="176.21" y1="460.80" x2="176.21" y2="461.70" stroke="#777" stroke-width="0.3" />
<line x1="178.65" y1="460.80" x2="178.65" y2="461.70" stroke="#777" stroke-width="0.3" />
<line x1="181.09" y1="460.80" x2="181.09" y2="461.70" stroke="#777" stroke-width="0.3" />
<line x1="183.54" y1="460.80" x2="183.54" y2="461.70" stroke="#777" stroke-width="0.3" />
<line x1="185.98" y1="460.80" x2="185.98" y2="461.70" stroke="#777" stroke-width="0.3" />
<line x1="188.42" y1="460.80" x2="188.42" y2="461.70" stroke="#777" stroke-width="0.3" />
<line x1="190.87" y1="460.80" x2="190.87" y2="461.70" stroke="#777" stroke-width="0.3" />
<line x1="193.31" y1="460.80" x2="193.31" y2="461.70" stroke="#777" stroke-width="0.3" />
<line x1="195.75" y1="460.80" x2="195.75" y2="461.70" stroke="#777" stroke-width="0.3" />
<line x1="198.20" y1="460.80" x2="198.20" y2="461.70" stroke="#777" stroke-width="0.3" />
<line x1="200.64" y1="460.80" x2="200.64" y2="461.70" stroke="#777" stroke-width="0.3" />
<line x1="203.08" y1="460.80" x2="203.08" y2="461.70" stroke="#777" stroke-width="0.3" />
<line x1="205.53" y1="460.80" x2="205.53" y2="461.70" stroke="#777" stroke-width="0.3" />
<line x1="207.97" y1="460.80" x2="207.97" y2="461.70" stroke="#777" stroke-width="0.3" />
<line x1="210.41" y1="460.80" x2="210.41" y2="461.70" stroke="#777" stroke-width="0.3" />
<line x1="212.86" y1="460.80" x2="212.86" y2="461.70" stroke="#777" stroke-width="0.3" />
<path d="M172.4 414.8 C173.6 414.8 175.7 414.7 176.6 415.4 C177.4 416.0 177.3 417.5 177.4 418.8 C177.6 420.2 176.8 421.9 177.4 423.5 C178.0 425.0 180.1 426.4 181.2 428.2 C182.2 429.9 183.3 431.9 183.8 433.9 C184.4 435.8 184.6 438.0 184.4 439.9 C184.2 441.7 183.5 443.6 182.8 445.2 C182.1 446.7 181.7 448.3 180.2 449.1 C178.8 449.9 176.2 450.2 174.0 450.2 C171.8 450.3 168.9 450.1 167.2 449.3 C165.4 448.6 164.2 447.4 163.4 445.8 C162.6 444.2 162.4 442.0 162.4 440.0 C162.4 438.0 163.0 435.7 163.6 433.8 C164.1 431.9 165.1 430.1 165.8 428.4 C166.6 426.7 167.5 425.2 168.0 423.6 C168.5 421.9 168.5 419.9 168.8 418.5 C169.0 417.1 169.0 415.9 169.6 415.2 C170.2 414.6 171.2 414.8 172.4 414.8Z" fill="none" stroke="#222" stroke-width="0.55"/>
<path d="M172.6 417.8 C173.5 417.8 175.1 417.7 175.8 418.3 C176.5 418.9 176.6 420.3 176.8 421.5 C176.9 422.6 176.4 424.2 176.9 425.5 C177.4 426.8 178.9 427.8 179.7 429.3 C180.6 430.7 181.7 432.5 182.3 434.2 C182.8 436.0 183.1 438.0 182.9 439.6 C182.7 441.2 181.7 442.8 181.1 444.0 C180.5 445.3 180.4 446.5 179.2 447.3 C178.0 448.0 175.9 448.3 173.9 448.4 C172.0 448.5 169.2 448.4 167.7 447.8 C166.2 447.1 165.3 445.9 164.7 444.5 C164.1 443.1 164.0 441.1 164.0 439.4 C163.9 437.7 164.1 435.9 164.6 434.3 C165.1 432.7 166.1 431.3 166.8 429.8 C167.5 428.3 168.4 426.8 168.8 425.4 C169.2 423.9 168.9 422.2 169.1 421.0 C169.3 419.9 169.5 418.9 170.1 418.4 C170.6 417.9 171.6 417.9 172.6 417.8Z" fill="none" stroke="#222" stroke-width="0.55"/>
<path d="M172.5 420.8 C173.2 420.8 174.5 420.8 175.1 421.3 C175.8 421.9 176.1 423.1 176.2 424.1 C176.4 425.1 175.7 426.3 176.1 427.3 C176.4 428.4 177.7 429.2 178.4 430.4 C179.2 431.7 180.4 433.3 180.8 434.7 C181.3 436.2 181.3 437.9 181.1 439.3 C180.9 440.6 180.1 441.8 179.6 442.8 C179.1 443.9 179.2 444.9 178.2 445.5 C177.2 446.1 175.3 446.5 173.6 446.6 C172.0 446.7 169.6 446.6 168.4 446.1 C167.1 445.5 166.7 444.4 166.1 443.2 C165.6 442.0 165.3 440.4 165.3 439.0 C165.2 437.6 165.3 436.2 165.8 434.9 C166.2 433.5 167.3 432.2 167.9 430.9 C168.5 429.6 169.0 428.3 169.3 427.1 C169.6 425.9 169.3 424.6 169.5 423.6 C169.7 422.7 170.1 422.0 170.6 421.6 C171.1 421.1 171.7 420.9 172.5 420.8Z" fill="none" stroke="#222" stroke-width="0.55"/>
<path d="M172.3 423.9 C172.9 423.9 174.2 424.0 174.7 424.4 C175.2 424.9 175.4 425.9 175.5 426.7 C175.6 427.5 174.9 428.3 175.2 429.1 C175.5 429.9 176.7 430.6 177.4 431.7 C178.0 432.7 178.9 434.1 179.2 435.3 C179.6 436.5 179.4 437.8 179.3 438.8 C179.1 439.9 178.6 440.8 178.3 441.6 C177.9 442.4 178.0 443.3 177.2 443.9 C176.3 444.4 174.6 444.8 173.2 444.8 C171.9 444.9 170.2 444.8 169.2 444.3 C168.3 443.8 167.9 442.8 167.4 441.9 C167.0 441.0 166.6 439.8 166.5 438.7 C166.5 437.6 166.8 436.5 167.2 435.4 C167.5 434.3 168.4 433.1 168.8 432.0 C169.2 431.0 169.5 429.9 169.8 429.0 C170.0 428.0 170.0 427.1 170.2 426.3 C170.4 425.6 170.6 425.0 171.0 424.6 C171.4 424.2 171.7 423.9 172.3 423.9Z" fill="none" stroke="#222" stroke-width="0.55"/>
<path d="M172.3 427.1 C172.8 427.1 173.8 427.2 174.2 427.5 C174.6 427.9 174.6 428.6 174.7 429.1 C174.7 429.7 174.3 430.3 174.5 431.0 C174.8 431.6 175.8 432.2 176.3 433.0 C176.8 433.8 177.3 434.9 177.5 435.8 C177.7 436.7 177.7 437.6 177.6 438.3 C177.5 439.1 177.2 439.8 177.0 440.4 C176.7 441.1 176.6 441.8 175.9 442.3 C175.3 442.7 174.0 443.0 173.0 443.0 C172.1 443.0 170.9 442.8 170.1 442.4 C169.4 442.1 168.9 441.4 168.5 440.7 C168.2 440.0 167.9 439.2 167.9 438.4 C167.9 437.5 168.2 436.6 168.5 435.8 C168.8 434.9 169.3 434.0 169.6 433.2 C169.9 432.4 170.2 431.7 170.4 431.0 C170.6 430.3 170.7 429.5 170.8 429.0 C170.9 428.4 171.0 427.9 171.3 427.5 C171.5 427.2 171.8 427.1 172.3 427.1Z" fill="none" stroke="#222" stroke-width="0.55"/>
<path d="M172.4 430.3 C172.8 430.3 173.4 430.4 173.6 430.6 C173.9 430.8 173.9 431.2 173.9 431.6 C173.9 432.0 173.7 432.4 173.9 432.9 C174.1 433.3 174.7 433.8 175.0 434.3 C175.3 434.9 175.7 435.6 175.8 436.2 C176.0 436.7 176.1 437.3 176.0 437.9 C176.0 438.4 175.7 438.9 175.5 439.4 C175.3 439.8 175.2 440.4 174.7 440.6 C174.3 440.9 173.5 441.1 172.9 441.1 C172.2 441.1 171.4 440.9 170.8 440.7 C170.3 440.4 169.9 440.0 169.7 439.6 C169.5 439.1 169.4 438.5 169.4 438.0 C169.4 437.4 169.6 436.7 169.7 436.1 C169.9 435.5 170.2 434.9 170.4 434.4 C170.6 433.8 171.0 433.4 171.1 432.9 C171.2 432.5 171.2 431.9 171.3 431.5 C171.4 431.1 171.4 430.7 171.6 430.5 C171.7 430.3 172.1 430.3 172.4 430.3Z" fill="none" stroke="#222" stroke-width="0.55"/>
<path d="M172.4 433.4 C172.6 433.4 172.9 433.5 173.0 433.6 C173.2 433.7 173.2 433.9 173.2 434.1 C173.2 434.3 173.1 434.6 173.2 434.8 C173.3 435.1 173.6 435.3 173.8 435.6 C173.9 435.9 174.1 436.2 174.2 436.5 C174.3 436.8 174.4 437.2 174.4 437.4 C174.3 437.7 174.1 438.0 174.0 438.3 C173.9 438.5 173.9 438.8 173.7 439.0 C173.4 439.1 173.0 439.1 172.7 439.1 C172.3 439.1 171.8 439.1 171.5 439.0 C171.2 438.8 171.1 438.6 171.0 438.4 C170.9 438.2 170.8 437.8 170.8 437.5 C170.8 437.2 170.9 436.8 170.9 436.5 C171.0 436.2 171.2 435.9 171.4 435.6 C171.5 435.3 171.7 435.1 171.7 434.9 C171.8 434.6 171.7 434.3 171.8 434.1 C171.8 433.8 171.9 433.6 172.0 433.5 C172.1 433.4 172.3 433.4 172.4 433.4Z" fill="none" stroke="#222" stroke-width="0.55"/>
<path d="M156.8 460.5 C154.5 459.7 157.0 457.4 157.5 456.0 C158.0 454.6 158.8 453.0 159.9 451.9 C161.0 450.8 162.3 450.2 164.0 449.6 C165.7 449.1 167.9 448.8 170.1 448.7 C172.2 448.5 175.0 448.4 176.9 448.7 C178.8 449.1 180.3 449.8 181.5 450.7 C182.7 451.6 183.4 452.9 184.1 454.1 C184.7 455.3 185.1 457.0 185.3 458.1 C185.5 459.1 187.8 459.9 185.4 460.3 C183.0 460.8 175.9 460.7 171.1 460.8 C166.3 460.8 159.1 461.3 156.8 460.5Z" fill="none" stroke="#1a1a1a" stroke-width="0.6"/>
<path d="M158.6 460.1 C156.7 459.3 158.6 457.4 159.0 456.2 C159.5 454.9 160.3 453.6 161.2 452.8 C162.2 451.9 163.4 451.3 164.8 450.8 C166.2 450.3 168.0 450.0 169.8 449.9 C171.7 449.7 174.1 449.6 175.8 450.0 C177.5 450.3 178.8 451.0 179.8 451.8 C180.8 452.5 181.3 453.6 181.9 454.6 C182.4 455.6 182.8 457.0 183.0 457.9 C183.2 458.8 185.2 459.5 183.2 459.9 C181.1 460.3 174.8 460.4 170.7 460.4 C166.6 460.4 160.6 460.8 158.6 460.1Z" fill="none" stroke="#1a1a1a" stroke-width="0.6"/>
<path d="M160.3 459.6 C158.7 459.0 160.2 457.4 160.6 456.4 C161.0 455.4 161.8 454.4 162.6 453.6 C163.4 452.9 164.3 452.3 165.5 451.9 C166.6 451.5 168.1 451.2 169.6 451.1 C171.2 451.0 173.4 451.0 174.8 451.2 C176.2 451.5 177.2 452.2 178.0 452.8 C178.8 453.4 179.2 454.2 179.7 455.1 C180.1 455.9 180.6 457.1 180.8 457.8 C181.0 458.6 182.5 459.2 180.8 459.6 C179.0 460.0 173.8 460.0 170.4 460.0 C166.9 460.0 161.9 460.2 160.3 459.6Z" fill="none" stroke="#1a1a1a" stroke-width="0.6"/>
<path d="M161.9 459.2 C160.6 458.7 162.0 457.4 162.3 456.7 C162.6 455.9 163.3 455.0 163.9 454.4 C164.5 453.8 165.1 453.3 166.1 453.0 C167.0 452.7 168.3 452.4 169.6 452.4 C170.8 452.3 172.6 452.3 173.7 452.6 C174.8 452.8 175.5 453.3 176.1 453.7 C176.8 454.2 177.2 454.8 177.6 455.5 C178.0 456.2 178.4 457.2 178.5 457.8 C178.6 458.4 179.8 459.0 178.4 459.2 C177.0 459.5 172.9 459.5 170.1 459.5 C167.4 459.5 163.2 459.6 161.9 459.2Z" fill="none" stroke="#1a1a1a" stroke-width="0.6"/>
<path d="M163.7 458.8 C162.7 458.4 163.8 457.5 164.0 456.9 C164.2 456.3 164.6 455.7 165.1 455.2 C165.6 454.7 166.1 454.4 166.8 454.1 C167.5 453.8 168.5 453.7 169.5 453.7 C170.4 453.6 171.6 453.7 172.5 453.8 C173.3 454.0 173.9 454.3 174.4 454.7 C174.9 455.0 175.2 455.5 175.5 456.0 C175.8 456.5 176.0 457.3 176.1 457.8 C176.2 458.2 177.1 458.7 176.1 458.9 C175.0 459.1 172.0 459.0 169.9 459.0 C167.8 459.0 164.7 459.1 163.7 458.8Z" fill="none" stroke="#1a1a1a" stroke-width="0.6"/>
<path d="M165.4 458.4 C164.8 458.2 165.5 457.6 165.6 457.2 C165.8 456.8 166.0 456.3 166.3 456.0 C166.7 455.6 167.1 455.4 167.5 455.2 C168.0 455.1 168.7 455.0 169.3 455.0 C169.9 455.0 170.7 455.0 171.3 455.1 C171.9 455.2 172.3 455.4 172.7 455.6 C173.0 455.8 173.2 456.2 173.4 456.5 C173.6 456.9 173.7 457.4 173.8 457.7 C173.8 458.1 174.5 458.3 173.8 458.4 C173.1 458.6 171.0 458.5 169.6 458.5 C168.2 458.5 166.1 458.6 165.4 458.4Z" fill="none" stroke="#1a1a1a" stroke-width="0.6"/>
<path d="M167.2 458.0 C166.8 457.9 167.2 457.6 167.3 457.4 C167.3 457.2 167.5 456.9 167.6 456.7 C167.8 456.6 168.0 456.5 168.3 456.4 C168.5 456.3 168.8 456.3 169.1 456.3 C169.5 456.2 169.9 456.2 170.2 456.3 C170.5 456.3 170.7 456.4 170.9 456.6 C171.1 456.7 171.1 456.9 171.2 457.1 C171.3 457.2 171.4 457.5 171.5 457.7 C171.5 457.8 171.8 458.0 171.5 458.0 C171.1 458.1 170.0 458.1 169.3 458.1 C168.6 458.1 167.5 458.1 167.2 458.0Z" fill="none" stroke="#1a1a1a" stroke-width="0.6"/>
<ellipse cx="169.5" cy="458.2" rx="10.5" ry="2.2" fill="#222" opacity="0.85"/>
<text x="231.70" y="398.60" font-size="9.5" text-anchor="start" font-weight="normal" fill="#000" textLength="63.80" lengthAdjust="spacingAndGlyphs" >FTY720 7 µmol/L</text>
<rect x="226.30" y="402.40" width="72.70" height="57.20" fill="none" stroke="#727272" stroke-width="1.0" />
<rect x="231.50" y="408.30" width="64.70" height="37.50" fill="none" stroke="#909090" stroke-width="0.8" />
<line x1="219.70" y1="459.60" x2="223.90" y2="459.60" stroke="#909090" stroke-width="0.9" />
<line x1="219.70" y1="445.44" x2="223.90" y2="445.44" stroke="#909090" stroke-width="0.9" />
<line x1="219.70" y1="431.29" x2="223.90" y2="431.29" stroke="#909090" stroke-width="0.9" />
<line x1="219.70" y1="417.13" x2="223.90" y2="417.13" stroke="#909090" stroke-width="0.9" />
<line x1="225.10" y1="463.20" x2="228.10" y2="463.20" stroke="#a8a8a8" stroke-width="0.8" />
<line x1="239.35" y1="463.20" x2="242.35" y2="463.20" stroke="#a8a8a8" stroke-width="0.8" />
<line x1="253.60" y1="463.20" x2="256.60" y2="463.20" stroke="#a8a8a8" stroke-width="0.8" />
<line x1="267.85" y1="463.20" x2="270.85" y2="463.20" stroke="#a8a8a8" stroke-width="0.8" />
<line x1="282.10" y1="463.20" x2="285.10" y2="463.20" stroke="#a8a8a8" stroke-width="0.8" />
<line x1="296.35" y1="463.20" x2="299.35" y2="463.20" stroke="#a8a8a8" stroke-width="0.8" />
<line x1="226.30" y1="459.60" x2="226.30" y2="460.50" stroke="#777" stroke-width="0.3" />
<line x1="228.72" y1="459.60" x2="228.72" y2="460.50" stroke="#777" stroke-width="0.3" />
<line x1="231.15" y1="459.60" x2="231.15" y2="460.50" stroke="#777" stroke-width="0.3" />
<line x1="233.57" y1="459.60" x2="233.57" y2="460.50" stroke="#777" stroke-width="0.3" />
<line x1="235.99" y1="459.60" x2="235.99" y2="460.50" stroke="#777" stroke-width="0.3" />
<line x1="238.42" y1="459.60" x2="238.42" y2="460.50" stroke="#777" stroke-width="0.3" />
<line x1="240.84" y1="459.60" x2="240.84" y2="460.50" stroke="#777" stroke-width="0.3" />
<line x1="243.26" y1="459.60" x2="243.26" y2="460.50" stroke="#777" stroke-width="0.3" />
<line x1="245.69" y1="459.60" x2="245.69" y2="460.50" stroke="#777" stroke-width="0.3" />
<line x1="248.11" y1="459.60" x2="248.11" y2="460.50" stroke="#777" stroke-width="0.3" />
<line x1="250.53" y1="459.60" x2="250.53" y2="460.50" stroke="#777" stroke-width="0.3" />
<line x1="252.96" y1="459.60" x2="252.96" y2="460.50" stroke="#777" stroke-width="0.3" />
<line x1="255.38" y1="459.60" x2="255.38" y2="460.50" stroke="#777" stroke-width="0.3" />
<line x1="257.80" y1="459.60" x2="257.80" y2="460.50" stroke="#777" stroke-width="0.3" />
<line x1="260.23" y1="459.60" x2="260.23" y2="460.50" stroke="#777" stroke-width="0.3" />
<line x1="262.65" y1="459.60" x2="262.65" y2="460.50" stroke="#777" stroke-width="0.3" />
<line x1="265.07" y1="459.60" x2="265.07" y2="460.50" stroke="#777" stroke-width="0.3" />
<line x1="267.50" y1="459.60" x2="267.50" y2="460.50" stroke="#777" stroke-width="0.3" />
<line x1="269.92" y1="459.60" x2="269.92" y2="460.50" stroke="#777" stroke-width="0.3" />
<line x1="272.34" y1="459.60" x2="272.34" y2="460.50" stroke="#777" stroke-width="0.3" />
<line x1="274.77" y1="459.60" x2="274.77" y2="460.50" stroke="#777" stroke-width="0.3" />
<line x1="277.19" y1="459.60" x2="277.19" y2="460.50" stroke="#777" stroke-width="0.3" />
<line x1="279.61" y1="459.60" x2="279.61" y2="460.50" stroke="#777" stroke-width="0.3" />
<line x1="282.04" y1="459.60" x2="282.04" y2="460.50" stroke="#777" stroke-width="0.3" />
<line x1="284.46" y1="459.60" x2="284.46" y2="460.50" stroke="#777" stroke-width="0.3" />
<line x1="286.88" y1="459.60" x2="286.88" y2="460.50" stroke="#777" stroke-width="0.3" />
<line x1="289.31" y1="459.60" x2="289.31" y2="460.50" stroke="#777" stroke-width="0.3" />
<line x1="291.73" y1="459.60" x2="291.73" y2="460.50" stroke="#777" stroke-width="0.3" />
<line x1="294.15" y1="459.60" x2="294.15" y2="460.50" stroke="#777" stroke-width="0.3" />
<line x1="296.58" y1="459.60" x2="296.58" y2="460.50" stroke="#777" stroke-width="0.3" />
<path d="M255.0 413.2 C256.8 413.2 259.6 413.1 261.2 414.0 C262.7 414.8 263.6 416.6 264.4 418.4 C265.2 420.3 265.6 422.8 266.0 425.1 C266.4 427.4 267.0 429.9 267.0 432.2 C266.9 434.5 266.4 436.8 265.8 438.9 C265.3 441.0 264.6 443.2 263.6 444.9 C262.6 446.5 261.5 448.0 259.8 448.8 C258.1 449.5 255.4 449.6 253.4 449.3 C251.4 449.0 249.2 448.4 247.6 447.2 C246.0 446.1 244.7 444.3 243.8 442.3 C242.8 440.4 242.0 438.1 241.8 435.7 C241.6 433.3 242.0 430.5 242.4 428.0 C242.8 425.5 243.5 422.8 244.2 420.8 C244.8 418.8 245.4 417.2 246.4 416.0 C247.5 414.9 249.0 414.3 250.4 413.8 C251.8 413.3 253.2 413.2 255.0 413.2Z" fill="none" stroke="#222" stroke-width="0.55"/>
<path d="M255.2 415.7 C256.7 415.8 258.9 415.6 260.3 416.4 C261.6 417.1 262.6 418.8 263.3 420.5 C264.1 422.1 264.5 424.3 264.9 426.3 C265.2 428.3 265.4 430.3 265.4 432.3 C265.3 434.3 265.0 436.4 264.6 438.3 C264.1 440.2 263.7 442.3 262.8 443.7 C261.8 445.2 260.5 446.4 259.0 447.0 C257.5 447.6 255.4 447.5 253.7 447.3 C252.0 447.1 250.2 446.6 248.7 445.6 C247.3 444.7 245.9 443.2 245.0 441.5 C244.1 439.8 243.7 437.6 243.5 435.5 C243.4 433.3 243.9 430.8 244.2 428.7 C244.5 426.5 244.8 424.3 245.3 422.6 C245.9 420.8 246.6 419.5 247.6 418.4 C248.5 417.4 249.9 416.7 251.2 416.2 C252.5 415.8 253.7 415.7 255.2 415.7Z" fill="none" stroke="#222" stroke-width="0.55"/>
<path d="M255.2 418.2 C256.5 418.3 258.3 418.1 259.5 418.9 C260.7 419.6 261.7 421.1 262.4 422.6 C263.1 424.0 263.2 425.8 263.5 427.4 C263.7 429.1 263.8 430.8 263.8 432.5 C263.8 434.2 263.8 436.1 263.5 437.8 C263.1 439.4 262.5 441.3 261.7 442.5 C260.8 443.8 259.7 444.7 258.4 445.2 C257.2 445.7 255.6 445.6 254.1 445.4 C252.6 445.3 250.9 445.0 249.6 444.2 C248.3 443.4 247.1 442.1 246.3 440.6 C245.6 439.1 245.5 437.1 245.4 435.2 C245.3 433.4 245.5 431.2 245.7 429.4 C245.9 427.6 246.1 425.8 246.7 424.3 C247.2 422.9 248.0 421.6 248.8 420.7 C249.7 419.7 250.6 419.0 251.7 418.6 C252.8 418.2 253.9 418.2 255.2 418.2Z" fill="none" stroke="#222" stroke-width="0.55"/>
<path d="M255.1 420.8 C256.2 420.8 257.9 420.9 258.9 421.5 C259.9 422.1 260.8 423.4 261.3 424.5 C261.8 425.7 261.8 427.1 262.0 428.5 C262.2 429.8 262.5 431.3 262.6 432.8 C262.6 434.2 262.6 435.9 262.2 437.3 C261.9 438.7 261.2 440.2 260.5 441.2 C259.8 442.2 259.0 442.9 258.0 443.3 C257.0 443.7 255.7 443.7 254.4 443.6 C253.1 443.5 251.5 443.4 250.4 442.7 C249.3 442.0 248.5 440.8 247.9 439.5 C247.4 438.3 247.2 436.5 247.1 435.0 C246.9 433.5 246.9 431.8 247.1 430.3 C247.3 428.8 247.7 427.3 248.2 426.1 C248.7 424.8 249.3 423.6 250.0 422.8 C250.6 422.0 251.3 421.5 252.1 421.1 C253.0 420.8 253.9 420.7 255.1 420.8Z" fill="none" stroke="#222" stroke-width="0.55"/>
<path d="M255.1 423.4 C256.0 423.5 257.5 423.6 258.3 424.1 C259.2 424.6 259.7 425.5 260.1 426.4 C260.5 427.4 260.5 428.4 260.7 429.5 C260.9 430.7 261.3 431.9 261.3 433.1 C261.3 434.3 261.1 435.7 260.8 436.8 C260.5 437.9 260.0 439.0 259.5 439.8 C259.0 440.6 258.5 441.2 257.6 441.5 C256.8 441.9 255.5 442.0 254.5 441.9 C253.4 441.9 252.2 441.7 251.3 441.1 C250.5 440.5 249.9 439.5 249.5 438.5 C249.0 437.4 248.7 436.1 248.6 434.9 C248.5 433.7 248.5 432.4 248.7 431.2 C248.9 430.0 249.3 428.7 249.7 427.7 C250.1 426.6 250.4 425.6 250.9 425.0 C251.4 424.3 252.1 424.0 252.8 423.8 C253.5 423.5 254.2 423.4 255.1 423.4Z" fill="none" stroke="#222" stroke-width="0.55"/>
<path d="M255.3 426.1 C255.9 426.2 257.0 426.2 257.6 426.6 C258.2 427.0 258.6 427.6 258.9 428.3 C259.2 429.0 259.3 429.8 259.5 430.7 C259.7 431.6 259.9 432.6 259.9 433.5 C259.8 434.4 259.6 435.4 259.4 436.2 C259.2 437.1 259.0 437.9 258.6 438.4 C258.2 439.0 257.7 439.5 257.1 439.8 C256.4 440.1 255.4 440.2 254.6 440.2 C253.9 440.1 253.0 439.9 252.4 439.5 C251.8 439.0 251.3 438.2 250.9 437.4 C250.5 436.6 250.2 435.7 250.2 434.8 C250.1 433.9 250.3 432.9 250.4 432.0 C250.6 431.1 250.8 430.0 251.1 429.2 C251.3 428.4 251.5 427.7 251.9 427.2 C252.3 426.8 252.9 426.6 253.5 426.4 C254.0 426.2 254.6 426.1 255.3 426.1Z" fill="none" stroke="#222" stroke-width="0.55"/>
<path d="M255.3 428.8 C255.8 428.8 256.4 428.8 256.8 429.1 C257.3 429.3 257.6 429.7 257.8 430.2 C258.0 430.7 258.1 431.3 258.2 431.9 C258.3 432.5 258.4 433.2 258.4 433.8 C258.4 434.4 258.3 435.1 258.2 435.6 C258.0 436.2 257.9 436.7 257.6 437.1 C257.3 437.6 256.9 437.9 256.5 438.1 C256.0 438.3 255.4 438.4 254.9 438.3 C254.4 438.3 253.8 438.1 253.4 437.8 C253.0 437.5 252.5 437.0 252.3 436.5 C252.0 435.9 251.9 435.3 251.9 434.7 C251.8 434.1 251.9 433.4 252.0 432.8 C252.1 432.1 252.2 431.4 252.4 430.8 C252.5 430.3 252.8 429.8 253.1 429.5 C253.4 429.2 253.8 429.1 254.1 429.0 C254.5 428.9 254.9 428.8 255.3 428.8Z" fill="none" stroke="#222" stroke-width="0.55"/>
<path d="M255.4 431.4 C255.6 431.4 255.9 431.4 256.2 431.5 C256.4 431.7 256.6 431.9 256.7 432.2 C256.8 432.4 256.8 432.8 256.9 433.1 C256.9 433.4 257.0 433.8 257.0 434.1 C257.0 434.4 257.0 434.7 256.9 435.0 C256.8 435.3 256.7 435.6 256.6 435.9 C256.4 436.1 256.2 436.3 256.0 436.4 C255.7 436.5 255.4 436.5 255.2 436.5 C254.9 436.4 254.6 436.4 254.3 436.2 C254.1 436.0 253.8 435.8 253.7 435.5 C253.6 435.2 253.6 434.9 253.5 434.6 C253.5 434.2 253.5 433.9 253.6 433.5 C253.6 433.2 253.7 432.8 253.8 432.5 C253.9 432.2 254.0 432.0 254.2 431.8 C254.3 431.7 254.5 431.6 254.7 431.5 C254.9 431.4 255.1 431.4 255.4 431.4Z" fill="none" stroke="#222" stroke-width="0.55"/>
<path d="M238.8 459.5 C236.7 458.7 239.0 456.4 239.5 455.0 C240.0 453.6 240.8 452.3 241.9 451.3 C243.0 450.3 244.3 449.7 246.0 449.2 C247.7 448.8 249.9 448.6 252.1 448.5 C254.2 448.4 257.0 448.4 258.9 448.7 C260.8 449.1 262.2 449.8 263.4 450.7 C264.6 451.6 265.4 452.9 265.9 454.1 C266.4 455.3 266.4 457.2 266.5 458.1 C266.6 458.9 268.8 459.0 266.4 459.3 C264.0 459.6 256.7 459.7 252.1 459.8 C247.5 459.8 240.9 460.3 238.8 459.5Z" fill="none" stroke="#1a1a1a" stroke-width="0.6"/>
<path d="M240.5 459.1 C238.7 458.4 240.4 456.3 240.9 455.2 C241.3 454.0 242.1 452.9 243.1 452.1 C244.0 451.3 245.2 450.8 246.6 450.4 C248.1 449.9 249.9 449.7 251.7 449.6 C253.5 449.5 256.0 449.5 257.7 449.8 C259.3 450.2 260.6 450.9 261.6 451.7 C262.6 452.4 263.1 453.5 263.5 454.5 C264.0 455.5 264.1 457.1 264.2 457.8 C264.3 458.5 266.2 458.7 264.2 459.0 C262.1 459.2 255.6 459.4 251.7 459.4 C247.7 459.4 242.3 459.8 240.5 459.1Z" fill="none" stroke="#1a1a1a" stroke-width="0.6"/>
<path d="M242.0 458.6 C240.5 458.1 241.9 456.4 242.3 455.4 C242.7 454.5 243.5 453.6 244.3 453.0 C245.1 452.3 246.0 451.8 247.2 451.4 C248.3 451.0 249.8 450.8 251.4 450.7 C252.9 450.7 255.1 450.7 256.5 451.0 C257.9 451.3 258.8 451.9 259.6 452.6 C260.4 453.2 260.9 454.0 261.3 454.8 C261.6 455.7 261.8 457.0 261.9 457.6 C262.0 458.2 263.5 458.4 261.8 458.7 C260.0 458.9 254.7 459.0 251.4 459.0 C248.1 459.0 243.5 459.2 242.0 458.6Z" fill="none" stroke="#1a1a1a" stroke-width="0.6"/>
<path d="M243.5 458.2 C242.3 457.8 243.6 456.5 243.9 455.7 C244.2 455.0 244.8 454.3 245.5 453.8 C246.1 453.2 246.7 452.7 247.7 452.4 C248.6 452.1 249.9 451.9 251.1 451.9 C252.4 451.9 254.1 452.0 255.2 452.2 C256.3 452.5 257.0 452.9 257.7 453.4 C258.3 453.9 258.7 454.5 259.1 455.2 C259.4 455.8 259.5 456.9 259.6 457.4 C259.7 458.0 260.8 458.1 259.4 458.3 C258.0 458.5 253.8 458.6 251.1 458.6 C248.5 458.5 244.7 458.7 243.5 458.2Z" fill="none" stroke="#1a1a1a" stroke-width="0.6"/>
<path d="M245.1 457.9 C244.2 457.5 245.2 456.6 245.4 456.0 C245.7 455.5 246.1 454.9 246.5 454.5 C247.0 454.1 247.5 453.7 248.2 453.5 C249.0 453.2 250.0 453.2 250.9 453.1 C251.8 453.1 253.1 453.2 253.9 453.4 C254.7 453.6 255.3 453.9 255.8 454.2 C256.3 454.6 256.6 455.0 256.9 455.5 C257.1 456.1 257.2 456.9 257.2 457.3 C257.2 457.7 258.1 457.8 257.1 458.0 C256.0 458.1 252.9 458.1 250.9 458.1 C248.9 458.1 246.0 458.2 245.1 457.9Z" fill="none" stroke="#1a1a1a" stroke-width="0.6"/>
<path d="M246.7 457.6 C246.1 457.3 246.8 456.7 246.9 456.3 C247.1 455.9 247.3 455.5 247.6 455.2 C248.0 454.9 248.3 454.7 248.8 454.6 C249.3 454.4 250.0 454.4 250.6 454.4 C251.2 454.3 252.0 454.4 252.6 454.5 C253.1 454.6 253.6 454.8 253.9 455.0 C254.3 455.3 254.5 455.6 254.6 456.0 C254.8 456.3 254.8 456.9 254.8 457.2 C254.8 457.4 255.5 457.5 254.8 457.6 C254.1 457.7 251.9 457.7 250.6 457.6 C249.3 457.6 247.4 457.8 246.7 457.6Z" fill="none" stroke="#1a1a1a" stroke-width="0.6"/>
<path d="M248.3 457.2 C248.0 457.1 248.3 456.7 248.4 456.5 C248.5 456.3 248.6 456.1 248.8 456.0 C249.0 455.8 249.2 455.7 249.4 455.7 C249.7 455.6 250.0 455.6 250.3 455.6 C250.6 455.5 251.1 455.5 251.3 455.6 C251.6 455.7 251.9 455.8 252.0 455.9 C252.2 456.0 252.3 456.2 252.4 456.4 C252.4 456.6 252.5 456.9 252.5 457.0 C252.5 457.1 252.8 457.1 252.5 457.2 C252.1 457.2 251.0 457.2 250.3 457.2 C249.6 457.2 248.6 457.3 248.3 457.2Z" fill="none" stroke="#1a1a1a" stroke-width="0.6"/>
<ellipse cx="250" cy="457.2" rx="9" ry="2.1" fill="#222" opacity="0.85"/>
<line x1="365.20" y1="415.60" x2="505.00" y2="415.60" stroke="#b8b8b8" stroke-width="0.7" />
<line x1="363.30" y1="415.60" x2="365.20" y2="415.60" stroke="#000" stroke-width="0.7" />
<line x1="365.20" y1="405.60" x2="505.00" y2="405.60" stroke="#b8b8b8" stroke-width="0.7" />
<line x1="363.30" y1="405.60" x2="365.20" y2="405.60" stroke="#000" stroke-width="0.7" />
<line x1="365.20" y1="395.60" x2="505.00" y2="395.60" stroke="#b8b8b8" stroke-width="0.7" />
<line x1="363.30" y1="395.60" x2="365.20" y2="395.60" stroke="#000" stroke-width="0.7" />
<line x1="365.20" y1="385.60" x2="505.00" y2="385.60" stroke="#b8b8b8" stroke-width="0.7" />
<line x1="363.30" y1="385.60" x2="365.20" y2="385.60" stroke="#000" stroke-width="0.7" />
<line x1="365.20" y1="375.60" x2="505.00" y2="375.60" stroke="#b8b8b8" stroke-width="0.7" />
<line x1="363.30" y1="375.60" x2="365.20" y2="375.60" stroke="#000" stroke-width="0.7" />
<line x1="365.20" y1="365.60" x2="505.00" y2="365.60" stroke="#b8b8b8" stroke-width="0.7" />
<line x1="363.30" y1="365.60" x2="365.20" y2="365.60" stroke="#000" stroke-width="0.7" />
<line x1="365.20" y1="355.60" x2="505.00" y2="355.60" stroke="#b8b8b8" stroke-width="0.7" />
<line x1="363.30" y1="355.60" x2="365.20" y2="355.60" stroke="#000" stroke-width="0.7" />
<line x1="365.20" y1="345.60" x2="505.00" y2="345.60" stroke="#b8b8b8" stroke-width="0.7" />
<line x1="363.30" y1="345.60" x2="365.20" y2="345.60" stroke="#000" stroke-width="0.7" />
<line x1="365.20" y1="335.60" x2="505.00" y2="335.60" stroke="#b8b8b8" stroke-width="0.7" />
<line x1="363.30" y1="335.60" x2="365.20" y2="335.60" stroke="#000" stroke-width="0.7" />
<line x1="365.20" y1="325.60" x2="505.00" y2="325.60" stroke="#b8b8b8" stroke-width="0.7" />
<line x1="363.30" y1="325.60" x2="365.20" y2="325.60" stroke="#000" stroke-width="0.7" />
<text x="359.90" y="428.90" font-size="6.6" text-anchor="end" font-weight="normal" fill="#3c3c3c" style="stroke:none">0</text>
<text x="359.90" y="418.90" font-size="6.6" text-anchor="end" font-weight="normal" fill="#3c3c3c" style="stroke:none">10</text>
<text x="359.90" y="408.90" font-size="6.6" text-anchor="end" font-weight="normal" fill="#3c3c3c" style="stroke:none">20</text>
<text x="359.90" y="398.90" font-size="6.6" text-anchor="end" font-weight="normal" fill="#3c3c3c" style="stroke:none">30</text>
<text x="359.90" y="388.90" font-size="6.6" text-anchor="end" font-weight="normal" fill="#3c3c3c" style="stroke:none">40</text>
<text x="359.90" y="378.90" font-size="6.6" text-anchor="end" font-weight="normal" fill="#3c3c3c" style="stroke:none">50</text>
<text x="359.90" y="368.90" font-size="6.6" text-anchor="end" font-weight="normal" fill="#3c3c3c" style="stroke:none">60</text>
<text x="359.90" y="358.90" font-size="6.6" text-anchor="end" font-weight="normal" fill="#3c3c3c" style="stroke:none">70</text>
<text x="359.90" y="348.90" font-size="6.6" text-anchor="end" font-weight="normal" fill="#3c3c3c" style="stroke:none">80</text>
<text x="359.90" y="338.90" font-size="6.6" text-anchor="end" font-weight="normal" fill="#3c3c3c" style="stroke:none">90</text>
<text x="359.90" y="328.90" font-size="6.6" text-anchor="end" font-weight="normal" fill="#3c3c3c" style="stroke:none">100</text>
<rect x="370.20" y="414.60" width="12.00" height="11.00" fill="#fff" stroke="#111" stroke-width="0.6" />
<line x1="376.20" y1="411.60" x2="376.20" y2="414.60" stroke="#222" stroke-width="0.6" />
<line x1="374.60" y1="411.60" x2="377.80" y2="411.60" stroke="#222" stroke-width="0.6" />
<rect x="383.70" y="394.60" width="11.30" height="31.00" fill="#7a7a7a" stroke="#111" stroke-width="0.6" />
<line x1="389.35" y1="389.60" x2="389.35" y2="394.60" stroke="#222" stroke-width="0.6" />
<line x1="387.75" y1="389.60" x2="390.95" y2="389.60" stroke="#222" stroke-width="0.6" />
<rect x="395.80" y="380.60" width="11.70" height="45.00" fill="#000" stroke="#111" stroke-width="0.6" />
<line x1="401.65" y1="374.60" x2="401.65" y2="380.60" stroke="#222" stroke-width="0.6" />
<line x1="400.05" y1="374.60" x2="403.25" y2="374.60" stroke="#222" stroke-width="0.6" />
<rect x="417.00" y="410.60" width="11.60" height="15.00" fill="#fff" stroke="#111" stroke-width="0.6" />
<line x1="422.80" y1="407.60" x2="422.80" y2="410.60" stroke="#222" stroke-width="0.6" />
<line x1="421.20" y1="407.60" x2="424.40" y2="407.60" stroke="#222" stroke-width="0.6" />
<rect x="429.70" y="380.60" width="11.70" height="45.00" fill="#7a7a7a" stroke="#111" stroke-width="0.6" />
<line x1="435.55" y1="374.60" x2="435.55" y2="380.60" stroke="#222" stroke-width="0.6" />
<line x1="433.95" y1="374.60" x2="437.15" y2="374.60" stroke="#222" stroke-width="0.6" />
<rect x="442.20" y="358.60" width="12.00" height="67.00" fill="#000" stroke="#111" stroke-width="0.6" />
<line x1="448.20" y1="351.60" x2="448.20" y2="358.60" stroke="#222" stroke-width="0.6" />
<line x1="446.60" y1="351.60" x2="449.80" y2="351.60" stroke="#222" stroke-width="0.6" />
<rect x="463.40" y="417.60" width="11.60" height="8.00" fill="#fff" stroke="#111" stroke-width="0.6" />
<line x1="469.20" y1="415.60" x2="469.20" y2="417.60" stroke="#222" stroke-width="0.6" />
<line x1="467.60" y1="415.60" x2="470.80" y2="415.60" stroke="#222" stroke-width="0.6" />
<rect x="476.00" y="397.60" width="11.80" height="28.00" fill="#7a7a7a" stroke="#111" stroke-width="0.6" />
<line x1="481.90" y1="392.60" x2="481.90" y2="397.60" stroke="#222" stroke-width="0.6" />
<line x1="480.30" y1="392.60" x2="483.50" y2="392.60" stroke="#222" stroke-width="0.6" />
<rect x="488.20" y="369.60" width="12.40" height="56.00" fill="#000" stroke="#111" stroke-width="0.6" />
<line x1="494.40" y1="365.60" x2="494.40" y2="369.60" stroke="#222" stroke-width="0.6" />
<line x1="492.80" y1="365.60" x2="496.00" y2="365.60" stroke="#222" stroke-width="0.6" />
<line x1="365.20" y1="325.10" x2="365.20" y2="425.60" stroke="#000" stroke-width="1.1" />
<line x1="363.30" y1="425.60" x2="505.00" y2="425.60" stroke="#222" stroke-width="0.9" />
<text x="389.70" y="387.40" font-size="10" text-anchor="middle" font-weight="bold" fill="#000" textLength="8.40" lengthAdjust="spacingAndGlyphs" >**</text>
<text x="401.80" y="374.40" font-size="10" text-anchor="middle" font-weight="bold" fill="#000" textLength="8.40" lengthAdjust="spacingAndGlyphs" >**</text>
<text x="435.00" y="372.40" font-size="10" text-anchor="middle" font-weight="bold" fill="#000" textLength="8.40" lengthAdjust="spacingAndGlyphs" >**</text>
<text x="447.10" y="352.20" font-size="10" text-anchor="middle" font-weight="bold" fill="#000" textLength="8.40" lengthAdjust="spacingAndGlyphs" >**</text>
<text x="481.10" y="388.30" font-size="10" text-anchor="middle" font-weight="bold" fill="#000" textLength="8.40" lengthAdjust="spacingAndGlyphs" >**</text>
<text x="493.30" y="366.10" font-size="10" text-anchor="middle" font-weight="bold" fill="#000" textLength="8.40" lengthAdjust="spacingAndGlyphs" >**</text>
<text x="341.7" y="374.9" font-size="8.2" text-anchor="middle" fill="#000" transform="rotate(-90 341.7 374.9)" textLength="117" lengthAdjust="spacingAndGlyphs">% CD138<tspan font-size="5" dy="-2.4">+</tspan><tspan dy="2.4"> Dead (7-AAD+) cells</tspan></text>
<text x="376.80" y="447.50" font-size="7" text-anchor="middle" font-weight="normal" fill="#111" >0</text>
<text x="388.50" y="447.50" font-size="7" text-anchor="middle" font-weight="normal" fill="#111" >5</text>
<text x="399.40" y="447.50" font-size="7" text-anchor="middle" font-weight="normal" fill="#111" >7</text>
<text x="422.40" y="447.50" font-size="7" text-anchor="middle" font-weight="normal" fill="#111" >0</text>
<text x="434.90" y="447.50" font-size="7" text-anchor="middle" font-weight="normal" fill="#111" >5</text>
<text x="447.60" y="447.50" font-size="7" text-anchor="middle" font-weight="normal" fill="#111" >7</text>
<text x="471.40" y="447.50" font-size="7" text-anchor="middle" font-weight="normal" fill="#111" >0</text>
<text x="483.50" y="447.50" font-size="7" text-anchor="middle" font-weight="normal" fill="#111" >5</text>
<text x="494.40" y="447.50" font-size="7" text-anchor="middle" font-weight="normal" fill="#111" >7</text>
<line x1="374.60" y1="453.40" x2="408.60" y2="453.40" stroke="#333" stroke-width="0.9" />
<line x1="419.50" y1="453.40" x2="452.40" y2="453.40" stroke="#333" stroke-width="0.9" />
<line x1="467.00" y1="453.40" x2="500.00" y2="453.40" stroke="#333" stroke-width="0.9" />
<text x="375.70" y="468.90" font-size="8.2" text-anchor="start" font-weight="normal" fill="#000" textLength="29.30" lengthAdjust="spacingAndGlyphs" >MM P1</text>
<text x="421.30" y="468.90" font-size="8.2" text-anchor="start" font-weight="normal" fill="#000" textLength="27.40" lengthAdjust="spacingAndGlyphs" >MM P2</text>
<text x="470.70" y="468.90" font-size="8.2" text-anchor="start" font-weight="normal" fill="#000" textLength="28.10" lengthAdjust="spacingAndGlyphs" >MM P3</text>
<text x="325.30" y="449.00" font-size="8.2" text-anchor="start" font-weight="normal" fill="#000" textLength="28.30" lengthAdjust="spacingAndGlyphs" >FTY720</text>
<text x="324.10" y="460.00" font-size="8.2" text-anchor="start" font-weight="normal" fill="#000" textLength="34.40" lengthAdjust="spacingAndGlyphs" >(µmol/L)</text>
<text x="12.30" y="506.80" font-size="14.5" text-anchor="start" font-weight="bold" fill="#000" >E</text>
<text x="76.20" y="511.20" font-size="8.2" text-anchor="start" font-weight="normal" fill="#000" textLength="40.00" lengthAdjust="spacingAndGlyphs" >RPMI8226</text>
<text x="179.20" y="511.20" font-size="8.2" text-anchor="start" font-weight="normal" fill="#000" textLength="18.50" lengthAdjust="spacingAndGlyphs" >CAG</text>
<line x1="53.70" y1="514.20" x2="140.00" y2="514.20" stroke="#222" stroke-width="0.9" />
<line x1="144.00" y1="514.20" x2="232.50" y2="514.20" stroke="#222" stroke-width="0.9" />
<text x="-0.30" y="525.80" font-size="7.2" text-anchor="start" font-weight="normal" fill="#000" textLength="51.50" lengthAdjust="spacingAndGlyphs" >FTY720 (µmol/L)</text>
<text x="69.50" y="525.20" font-size="7.2" text-anchor="middle" font-weight="normal" fill="#000" >0</text>
<text x="85.00" y="525.20" font-size="7.2" text-anchor="middle" font-weight="normal" fill="#000" >3</text>
<text x="101.70" y="525.20" font-size="7.2" text-anchor="middle" font-weight="normal" fill="#000" >5</text>
<text x="116.20" y="525.20" font-size="7.2" text-anchor="middle" font-weight="normal" fill="#000" >7</text>
<text x="131.30" y="525.20" font-size="7.2" text-anchor="middle" font-weight="normal" fill="#000" >10</text>
<text x="159.00" y="525.20" font-size="7.2" text-anchor="middle" font-weight="normal" fill="#000" >0</text>
<text x="172.50" y="525.20" font-size="7.2" text-anchor="middle" font-weight="normal" fill="#000" >3</text>
<text x="189.00" y="525.20" font-size="7.2" text-anchor="middle" font-weight="normal" fill="#000" >5</text>
<text x="204.00" y="525.20" font-size="7.2" text-anchor="middle" font-weight="normal" fill="#000" >7</text>
<text x="221.00" y="525.20" font-size="7.2" text-anchor="middle" font-weight="normal" fill="#000" >10</text>
<text x="19.50" y="544.30" font-size="8.3" text-anchor="start" font-weight="normal" fill="#000" textLength="21.00" lengthAdjust="spacingAndGlyphs" >PARP</text>
<text x="18.80" y="568.40" font-size="8.3" text-anchor="start" font-weight="normal" fill="#000" textLength="22.70" lengthAdjust="spacingAndGlyphs" >BCL-2</text>
<text x="17.80" y="592.30" font-size="8.3" text-anchor="start" font-weight="normal" fill="#000" textLength="24.90" lengthAdjust="spacingAndGlyphs" >MCL-1</text>
<text x="18.80" y="613.70" font-size="8.3" text-anchor="start" font-weight="normal" fill="#000" textLength="26.20" lengthAdjust="spacingAndGlyphs" >pH2AX</text>
<text x="17.40" y="636.70" font-size="8.3" text-anchor="start" font-weight="normal" fill="#000" textLength="27.60" lengthAdjust="spacingAndGlyphs" >β-Actin</text>
<linearGradient id="bg1" x1="0" y1="0" x2="0" y2="1"><stop offset="0" stop-color="#6e6e6e"/><stop offset="0.1" stop-color="#8a8a8a"/><stop offset="0.45" stop-color="#a8a8a8"/><stop offset="0.75" stop-color="#c2c2c2"/><stop offset="1" stop-color="#cccccc"/></linearGradient>
<rect x="52.70" y="527.20" width="86.80" height="24.00" fill="url(#bg1)" stroke="none" stroke-width="0.6" />
<clipPath id="cp2"><rect x="52.70" y="527.20" width="86.80" height="24.00"/></clipPath><g clip-path="url(#cp2)">
<rect x="57.00" y="530.30" width="82.00" height="4.60" rx="2.30" fill="#000" opacity="0.55" filter="url(#b1)"/>
<rect x="60.00" y="530.00" width="15.60" height="5.60" rx="2.80" fill="#000" opacity="0.92" filter="url(#b2)"/>
<rect x="77.40" y="530.30" width="13.60" height="5.00" rx="2.50" fill="#000" opacity="0.92" filter="url(#b2)"/>
<rect x="93.50" y="530.30" width="14.00" height="5.00" rx="2.50" fill="#000" opacity="0.92" filter="url(#b2)"/>
<rect x="108.80" y="530.50" width="15.20" height="4.60" rx="2.30" fill="#000" opacity="0.92" filter="url(#b2)"/>
<rect x="125.30" y="530.80" width="13.30" height="4.00" rx="2.00" fill="#000" opacity="0.92" filter="url(#b2)"/>
<rect x="126.00" y="536.60" width="12.40" height="1.60" rx="0.80" fill="#000" opacity="0.5" filter="url(#b2)"/>
<rect x="62.00" y="540.55" width="11.60" height="1.90" rx="0.95" fill="#000" opacity="0.7" filter="url(#b2)"/>
<rect x="79.40" y="540.55" width="9.60" height="1.90" rx="0.95" fill="#000" opacity="0.7" filter="url(#b2)"/>
<rect x="95.50" y="540.45" width="10.00" height="2.10" rx="1.05" fill="#000" opacity="0.8" filter="url(#b2)"/>
<rect x="110.80" y="540.00" width="12.70" height="3.00" rx="1.50" fill="#000" opacity="0.92" filter="url(#b2)"/>
<rect x="127.30" y="539.80" width="10.80" height="3.40" rx="1.70" fill="#000" opacity="0.95" filter="url(#b2)"/>
</g>
<rect x="52.70" y="527.20" width="86.80" height="24.00" fill="none" stroke="#050505" stroke-width="1.3" />
<linearGradient id="bg3" x1="0" y1="0" x2="0" y2="1"><stop offset="0" stop-color="#9a9a9a"/><stop offset="0.2" stop-color="#b4b4b4"/><stop offset="0.6" stop-color="#c6c6c6"/><stop offset="1" stop-color="#cacaca"/></linearGradient>
<rect x="144.80" y="527.40" width="87.50" height="23.80" fill="url(#bg3)" stroke="none" stroke-width="0.6" />
<clipPath id="cp4"><rect x="144.80" y="527.20" width="87.50" height="24.00"/></clipPath><g clip-path="url(#cp4)">
<rect x="149.20" y="534.00" width="15.80" height="2.80" rx="1.40" fill="#000" opacity="0.88" filter="url(#b2)"/>
<rect x="167.00" y="534.20" width="13.40" height="2.60" rx="1.30" fill="#000" opacity="0.85" filter="url(#b2)"/>
<rect x="182.70" y="534.60" width="14.00" height="2.60" rx="1.30" fill="#000" opacity="0.88" filter="url(#b2)"/>
<rect x="199.20" y="534.60" width="14.80" height="3.40" rx="1.70" fill="#000" opacity="0.92" filter="url(#b2)" transform="rotate(2 206.60 536.30)"/>
<rect x="217.00" y="536.00" width="13.40" height="2.00" rx="1.00" fill="#000" opacity="0.8" filter="url(#b2)" transform="rotate(5 223.70 537.00)"/>
<rect x="186.50" y="543.80" width="7.50" height="1.60" rx="0.80" fill="#000" opacity="0.22" filter="url(#b2)"/>
<rect x="199.60" y="543.55" width="14.40" height="2.30" rx="1.15" fill="#000" opacity="0.9" filter="url(#b2)"/>
<rect x="217.00" y="543.80" width="13.00" height="2.20" rx="1.10" fill="#000" opacity="0.85" filter="url(#b2)" transform="rotate(3 223.50 544.90)"/>
</g>
<rect x="144.80" y="527.40" width="87.50" height="23.80" fill="none" stroke="#050505" stroke-width="1.3" />
<linearGradient id="bg5" x1="0" y1="0" x2="0" y2="1"><stop offset="0" stop-color="#9c9c9c"/><stop offset="0.25" stop-color="#b6b6b6"/><stop offset="0.7" stop-color="#bebebe"/><stop offset="1" stop-color="#b8b8b8"/></linearGradient>
<rect x="52.70" y="553.50" width="86.80" height="22.70" fill="url(#bg5)" stroke="none" stroke-width="0.6" />
<clipPath id="cp6"><rect x="52.70" y="553.50" width="86.80" height="22.70"/></clipPath><g clip-path="url(#cp6)">
<rect x="60.00" y="565.90" width="77.00" height="3.00" rx="1.50" fill="#000" opacity="0.6" filter="url(#b1)"/>
<rect x="60.50" y="564.50" width="14.80" height="5.80" rx="2.90" fill="#000" opacity="0.93" filter="url(#b2)"/>
<rect x="77.90" y="564.50" width="12.80" height="5.80" rx="2.90" fill="#000" opacity="0.93" filter="url(#b2)"/>
<rect x="94.00" y="564.50" width="13.20" height="5.80" rx="2.90" fill="#000" opacity="0.93" filter="url(#b2)"/>
<rect x="109.30" y="564.50" width="14.40" height="5.80" rx="2.90" fill="#000" opacity="0.93" filter="url(#b2)"/>
<rect x="125.80" y="564.50" width="12.50" height="5.80" rx="2.90" fill="#000" opacity="0.93" filter="url(#b2)"/>
</g>
<rect x="52.70" y="553.50" width="86.80" height="22.70" fill="none" stroke="#050505" stroke-width="1.3" />
<linearGradient id="bg7" x1="0" y1="0" x2="0" y2="1"><stop offset="0" stop-color="#9a9a9a"/><stop offset="0.3" stop-color="#b6b6b6"/><stop offset="0.8" stop-color="#b2b2b2"/><stop offset="1" stop-color="#a8a8a8"/></linearGradient>
<rect x="144.80" y="553.70" width="87.50" height="22.70" fill="url(#bg7)" stroke="none" stroke-width="0.6" />
<clipPath id="cp8"><rect x="144.80" y="553.50" width="87.50" height="22.90"/></clipPath><g clip-path="url(#cp8)">
<rect x="144.00" y="565.10" width="87.00" height="5.60" rx="2.80" fill="#000" opacity="0.8" filter="url(#b1)"/>
<rect x="148.00" y="564.10" width="18.20" height="7.60" rx="3.80" fill="#000" opacity="0.9" filter="url(#b1)"/>
<rect x="165.80" y="564.10" width="15.80" height="7.60" rx="3.80" fill="#000" opacity="0.9" filter="url(#b1)"/>
<rect x="181.50" y="564.10" width="16.40" height="7.60" rx="3.80" fill="#000" opacity="0.9" filter="url(#b1)"/>
<rect x="198.00" y="564.10" width="17.20" height="7.60" rx="3.80" fill="#000" opacity="0.9" filter="url(#b1)"/>
<rect x="215.80" y="564.10" width="15.80" height="7.60" rx="3.80" fill="#000" opacity="0.9" filter="url(#b1)"/>
</g>
<rect x="144.80" y="553.70" width="87.50" height="22.70" fill="none" stroke="#050505" stroke-width="1.3" />
<linearGradient id="bg9" x1="0" y1="0" x2="0" y2="1"><stop offset="0" stop-color="#b0b0b0"/><stop offset="0.3" stop-color="#c6c6c6"/><stop offset="1" stop-color="#c8c8c8"/></linearGradient>
<rect x="52.70" y="578.00" width="86.80" height="19.50" fill="url(#bg9)" stroke="none" stroke-width="0.6" />
<clipPath id="cp10"><rect x="52.70" y="578.00" width="86.80" height="19.50"/></clipPath><g clip-path="url(#cp10)">
<rect x="60.00" y="584.80" width="16.50" height="5.80" rx="2.90" fill="#000" opacity="0.97" filter="url(#b2)"/>
<rect x="78.30" y="585.20" width="13.70" height="4.80" rx="2.40" fill="#000" opacity="0.95" filter="url(#b2)"/>
<rect x="94.80" y="586.10" width="11.80" height="3.00" rx="1.50" fill="#000" opacity="0.85" filter="url(#b2)"/>
<rect x="111.20" y="586.60" width="10.00" height="2.40" rx="1.20" fill="#000" opacity="0.5" filter="url(#b2)"/>
<rect x="125.80" y="585.00" width="10.10" height="3.80" rx="1.90" fill="#000" opacity="0.88" filter="url(#b2)"/>
<rect x="74.00" y="586.40" width="6.00" height="2.60" rx="1.30" fill="#000" opacity="0.7" filter="url(#b2)"/>
</g>
<rect x="52.70" y="578.00" width="86.80" height="19.50" fill="none" stroke="#050505" stroke-width="1.3" />
<linearGradient id="bg11" x1="0" y1="0" x2="0" y2="1"><stop offset="0" stop-color="#b4b4b4"/><stop offset="0.3" stop-color="#c8c8c8"/><stop offset="1" stop-color="#cacaca"/></linearGradient>
<rect x="144.80" y="578.20" width="87.50" height="19.80" fill="url(#bg11)" stroke="none" stroke-width="0.6" />
<clipPath id="cp12"><rect x="144.80" y="578.00" width="87.50" height="20.00"/></clipPath><g clip-path="url(#cp12)">
<rect x="145.40" y="585.80" width="16.70" height="6.40" rx="3.20" fill="#000" opacity="0.98" filter="url(#b2)"/>
<rect x="166.00" y="587.70" width="13.40" height="3.40" rx="1.70" fill="#000" opacity="0.8" filter="url(#b2)"/>
<rect x="184.60" y="589.00" width="11.20" height="2.60" rx="1.30" fill="#000" opacity="0.42" filter="url(#b2)"/>
<rect x="200.00" y="589.50" width="12.10" height="3.60" rx="1.80" fill="#000" opacity="0.72" filter="url(#b2)"/>
<rect x="217.00" y="590.70" width="11.50" height="2.40" rx="1.20" fill="#000" opacity="0.2" filter="url(#b2)"/>
</g>
<rect x="144.80" y="578.20" width="87.50" height="19.80" fill="none" stroke="#050505" stroke-width="1.3" />
<linearGradient id="bg13" x1="0" y1="0" x2="0" y2="1"><stop offset="0" stop-color="#bdbdbd"/><stop offset="0.3" stop-color="#d0d0d0"/><stop offset="1" stop-color="#d2d2d2"/></linearGradient>
<rect x="52.70" y="600.30" width="86.80" height="17.50" fill="url(#bg13)" stroke="none" stroke-width="0.6" />
<clipPath id="cp14"><rect x="52.70" y="600.30" width="86.80" height="17.50"/></clipPath><g clip-path="url(#cp14)">
<rect x="109.40" y="608.70" width="10.90" height="3.00" rx="1.50" fill="#000" opacity="0.62" filter="url(#b1)"/>
<rect x="124.90" y="605.20" width="12.80" height="5.40" rx="2.70" fill="#000" opacity="0.9" filter="url(#b1)"/>
</g>
<rect x="52.70" y="600.30" width="86.80" height="17.50" fill="none" stroke="#050505" stroke-width="1.3" />
<linearGradient id="bg15" x1="0" y1="0" x2="0" y2="1"><stop offset="0" stop-color="#bcbcbc"/><stop offset="0.3" stop-color="#cfcfcf"/><stop offset="1" stop-color="#d0d0d0"/></linearGradient>
<rect x="144.80" y="600.00" width="87.50" height="17.80" fill="url(#bg15)" stroke="none" stroke-width="0.6" />
<clipPath id="cp16"><rect x="144.80" y="600.00" width="87.50" height="17.80"/></clipPath><g clip-path="url(#cp16)">
<rect x="186.00" y="608.60" width="7.80" height="2.00" rx="1.00" fill="#000" opacity="0.2" filter="url(#b1)"/>
<rect x="198.70" y="606.70" width="11.50" height="4.00" rx="2.00" fill="#000" opacity="0.9" filter="url(#b1)"/>
<rect x="216.00" y="607.60" width="13.40" height="2.80" rx="1.40" fill="#000" opacity="0.5" filter="url(#b1)"/>
</g>
<rect x="144.80" y="600.00" width="87.50" height="17.80" fill="none" stroke="#050505" stroke-width="1.3" />
<linearGradient id="bg17" x1="0" y1="0" x2="0" y2="1"><stop offset="0" stop-color="#8c8c8c"/><stop offset="0.2" stop-color="#b0b0b0"/><stop offset="0.6" stop-color="#c4c4c4"/><stop offset="1" stop-color="#c8c8c8"/></linearGradient>
<rect x="52.70" y="624.30" width="86.80" height="15.90" fill="url(#bg17)" stroke="none" stroke-width="0.6" />
<clipPath id="cp18"><rect x="52.70" y="624.30" width="86.80" height="15.90"/></clipPath><g clip-path="url(#cp18)">
<rect x="61.00" y="630.65" width="11.80" height="2.90" rx="1.45" fill="#000" opacity="0.88" filter="url(#b2)"/>
<rect x="76.50" y="630.65" width="12.80" height="2.90" rx="1.45" fill="#000" opacity="0.88" filter="url(#b2)"/>
<rect x="93.80" y="630.65" width="11.90" height="2.90" rx="1.45" fill="#000" opacity="0.88" filter="url(#b2)"/>
<rect x="109.40" y="630.65" width="11.80" height="2.90" rx="1.45" fill="#000" opacity="0.88" filter="url(#b2)"/>
<rect x="125.80" y="630.65" width="11.00" height="2.90" rx="1.45" fill="#000" opacity="0.88" filter="url(#b2)"/>
</g>
<rect x="52.70" y="624.30" width="86.80" height="15.90" fill="none" stroke="#050505" stroke-width="1.3" />
<linearGradient id="bg19" x1="0" y1="0" x2="0" y2="1"><stop offset="0" stop-color="#909090"/><stop offset="0.2" stop-color="#b2b2b2"/><stop offset="0.6" stop-color="#c6c6c6"/><stop offset="1" stop-color="#cacaca"/></linearGradient>
<rect x="144.80" y="624.40" width="87.50" height="16.00" fill="url(#bg19)" stroke="none" stroke-width="0.6" />
<clipPath id="cp20"><rect x="144.80" y="624.30" width="87.50" height="16.10"/></clipPath><g clip-path="url(#cp20)">
<rect x="145.40" y="629.70" width="14.80" height="3.20" rx="1.60" fill="#000" opacity="0.9" filter="url(#b2)"/>
<rect x="163.00" y="629.70" width="14.00" height="3.20" rx="1.60" fill="#000" opacity="0.9" filter="url(#b2)"/>
<rect x="180.00" y="629.80" width="15.80" height="3.20" rx="1.60" fill="#000" opacity="0.9" filter="url(#b2)"/>
<rect x="198.00" y="630.60" width="14.70" height="3.20" rx="1.60" fill="#000" opacity="0.9" filter="url(#b2)"/>
<rect x="216.00" y="630.80" width="13.40" height="3.20" rx="1.60" fill="#000" opacity="0.9" filter="url(#b2)"/>
</g>
<rect x="144.80" y="624.40" width="87.50" height="16.00" fill="none" stroke="#050505" stroke-width="1.3" />
<text x="268.70" y="517.70" font-size="8.3" text-anchor="start" font-weight="normal" fill="#000" textLength="27.90" lengthAdjust="spacingAndGlyphs" >FTY720</text>
<text x="257.70" y="528.20" font-size="7" text-anchor="start" font-weight="normal" fill="#000" textLength="37.10" lengthAdjust="spacingAndGlyphs" >(12 µmol/L)</text>
<text x="329.20" y="511.40" font-size="8.2" text-anchor="start" font-weight="normal" fill="#000" textLength="39.50" lengthAdjust="spacingAndGlyphs" >RPMI8226</text>
<text x="432.50" y="511.40" font-size="8.2" text-anchor="start" font-weight="normal" fill="#000" textLength="18.00" lengthAdjust="spacingAndGlyphs" >CAG</text>
<line x1="304.00" y1="513.80" x2="391.00" y2="513.80" stroke="#222" stroke-width="0.9" />
<line x1="396.00" y1="513.80" x2="484.00" y2="513.80" stroke="#222" stroke-width="0.9" />
<text x="310.00" y="523.80" font-size="7.2" text-anchor="middle" font-weight="normal" fill="#000" >0h</text>
<text x="332.50" y="523.80" font-size="7.2" text-anchor="middle" font-weight="normal" fill="#000" >4h</text>
<text x="355.00" y="523.80" font-size="7.2" text-anchor="middle" font-weight="normal" fill="#000" >8h</text>
<text x="377.50" y="523.80" font-size="7.2" text-anchor="middle" font-weight="normal" fill="#000" >24h</text>
<text x="406.50" y="523.80" font-size="7.2" text-anchor="middle" font-weight="normal" fill="#000" >0h</text>
<text x="427.50" y="523.80" font-size="7.2" text-anchor="middle" font-weight="normal" fill="#000" >4h</text>
<text x="449.00" y="523.80" font-size="7.2" text-anchor="middle" font-weight="normal" fill="#000" >8h</text>
<text x="470.00" y="523.80" font-size="7.2" text-anchor="middle" font-weight="normal" fill="#000" >24h</text>
<text x="273.80" y="545.40" font-size="8.3" text-anchor="start" font-weight="normal" fill="#000" textLength="19.20" lengthAdjust="spacingAndGlyphs" >PARP</text>
<text x="272.70" y="569.00" font-size="8.3" text-anchor="start" font-weight="normal" fill="#000" textLength="22.10" lengthAdjust="spacingAndGlyphs" >BCL-2</text>
<text x="271.60" y="592.90" font-size="8.3" text-anchor="start" font-weight="normal" fill="#000" textLength="24.30" lengthAdjust="spacingAndGlyphs" >MCL-1</text>
<text x="270.90" y="614.00" font-size="8.3" text-anchor="start" font-weight="normal" fill="#000" textLength="26.10" lengthAdjust="spacingAndGlyphs" >pH2AX</text>
<text x="270.50" y="637.20" font-size="8.3" text-anchor="start" font-weight="normal" fill="#000" textLength="27.00" lengthAdjust="spacingAndGlyphs" >β-Actin</text>
<linearGradient id="bg21" x1="0" y1="0" x2="0" y2="1"><stop offset="0" stop-color="#a4a4a4"/><stop offset="0.2" stop-color="#bcbcbc"/><stop offset="0.6" stop-color="#c6c6c6"/><stop offset="1" stop-color="#c8c8c8"/></linearGradient>
<rect x="300.80" y="527.40" width="90.00" height="23.50" fill="url(#bg21)" stroke="none" stroke-width="0.6" />
<clipPath id="cp22"><rect x="300.80" y="527.40" width="90.00" height="23.50"/></clipPath><g clip-path="url(#cp22)">
<rect x="304.20" y="533.70" width="17.70" height="2.80" rx="1.40" fill="#000" opacity="0.92" filter="url(#b2)"/>
<rect x="326.70" y="533.70" width="18.30" height="2.80" rx="1.40" fill="#000" opacity="0.95" filter="url(#b2)"/>
<rect x="348.80" y="533.70" width="18.90" height="2.80" rx="1.40" fill="#000" opacity="0.95" filter="url(#b2)"/>
<rect x="378.00" y="532.80" width="8.00" height="1.60" rx="0.80" fill="#000" opacity="0.12" filter="url(#b2)"/>
<rect x="304.60" y="540.90" width="17.00" height="1.60" rx="0.80" fill="#000" opacity="0.6" filter="url(#b2)"/>
<rect x="327.00" y="540.40" width="18.00" height="2.60" rx="1.30" fill="#000" opacity="0.92" filter="url(#b2)"/>
<rect x="349.00" y="540.10" width="18.60" height="3.20" rx="1.60" fill="#000" opacity="0.95" filter="url(#b2)"/>
<rect x="371.90" y="539.60" width="17.30" height="3.20" rx="1.60" fill="#000" opacity="0.95" filter="url(#b2)"/>
</g>
<rect x="300.80" y="527.40" width="90.00" height="23.50" fill="none" stroke="#050505" stroke-width="1.3" />
<linearGradient id="bg23" x1="0" y1="0" x2="0" y2="1"><stop offset="0" stop-color="#9e9e9e"/><stop offset="0.2" stop-color="#b6b6b6"/><stop offset="0.6" stop-color="#c0c0c0"/><stop offset="1" stop-color="#c2c2c2"/></linearGradient>
<rect x="393.80" y="527.40" width="90.40" height="23.80" fill="url(#bg23)" stroke="none" stroke-width="0.6" />
<clipPath id="cp24"><rect x="393.80" y="527.40" width="90.40" height="23.80"/></clipPath><g clip-path="url(#cp24)">
<rect x="396.70" y="534.80" width="17.30" height="2.00" rx="1.00" fill="#000" opacity="0.78" filter="url(#b2)"/>
<rect x="419.70" y="534.20" width="17.30" height="3.20" rx="1.60" fill="#000" opacity="0.95" filter="url(#b2)"/>
<rect x="441.80" y="534.60" width="16.40" height="2.40" rx="1.20" fill="#000" opacity="0.82" filter="url(#b2)"/>
<rect x="464.00" y="535.00" width="6.70" height="1.60" rx="0.80" fill="#000" opacity="0.6" filter="url(#b2)"/>
<rect x="420.00" y="541.60" width="16.00" height="2.40" rx="1.20" fill="#000" opacity="0.88" filter="url(#b2)"/>
<rect x="441.00" y="541.20" width="17.40" height="3.20" rx="1.60" fill="#000" opacity="0.95" filter="url(#b2)"/>
<rect x="462.00" y="541.60" width="16.40" height="2.40" rx="1.20" fill="#000" opacity="0.88" filter="url(#b2)"/>
</g>
<rect x="393.80" y="527.40" width="90.40" height="23.80" fill="none" stroke="#050505" stroke-width="1.3" />
<linearGradient id="bg25" x1="0" y1="0" x2="0" y2="1"><stop offset="0" stop-color="#a2a2a2"/><stop offset="0.25" stop-color="#bcbcbc"/><stop offset="1" stop-color="#c0c0c0"/></linearGradient>
<rect x="300.80" y="553.70" width="90.00" height="22.20" fill="url(#bg25)" stroke="none" stroke-width="0.6" />
<clipPath id="cp26"><rect x="300.80" y="553.70" width="90.00" height="22.20"/></clipPath><g clip-path="url(#cp26)">
<rect x="309.40" y="562.80" width="15.40" height="6.80" rx="3.40" fill="#000" opacity="0.96" filter="url(#b2)"/>
<rect x="329.60" y="562.80" width="15.80" height="6.80" rx="3.40" fill="#000" opacity="0.96" filter="url(#b2)"/>
<rect x="349.80" y="562.80" width="14.80" height="6.80" rx="3.40" fill="#000" opacity="0.96" filter="url(#b2)"/>
<rect x="369.00" y="562.80" width="16.40" height="6.80" rx="3.40" fill="#000" opacity="0.96" filter="url(#b2)"/>
</g>
<rect x="300.80" y="553.70" width="90.00" height="22.20" fill="none" stroke="#050505" stroke-width="1.3" />
<linearGradient id="bg27" x1="0" y1="0" x2="0" y2="1"><stop offset="0" stop-color="#a8a8a8"/><stop offset="0.25" stop-color="#c4c4c4"/><stop offset="1" stop-color="#c8c8c8"/></linearGradient>
<rect x="393.80" y="553.70" width="90.40" height="22.70" fill="url(#bg27)" stroke="none" stroke-width="0.6" />
<clipPath id="cp28"><rect x="393.80" y="553.70" width="90.40" height="22.70"/></clipPath><g clip-path="url(#cp28)">
<rect x="397.60" y="563.80" width="16.90" height="6.80" rx="3.40" fill="#000" opacity="0.96" filter="url(#b2)"/>
<rect x="418.40" y="563.80" width="16.70" height="6.80" rx="3.40" fill="#000" opacity="0.96" filter="url(#b2)"/>
<rect x="439.00" y="563.80" width="18.20" height="6.80" rx="3.40" fill="#000" opacity="0.96" filter="url(#b2)"/>
<rect x="462.00" y="563.80" width="16.80" height="6.80" rx="3.40" fill="#000" opacity="0.96" filter="url(#b2)"/>
</g>
<rect x="393.80" y="553.70" width="90.40" height="22.70" fill="none" stroke="#050505" stroke-width="1.3" />
<linearGradient id="bg29" x1="0" y1="0" x2="0" y2="1"><stop offset="0" stop-color="#8e8e8e"/><stop offset="0.3" stop-color="#a6a6a6"/><stop offset="1" stop-color="#b0b0b0"/></linearGradient>
<rect x="300.80" y="579.90" width="90.00" height="17.20" fill="url(#bg29)" stroke="none" stroke-width="0.6" />
<clipPath id="cp30"><rect x="300.80" y="579.90" width="90.00" height="17.20"/></clipPath><g clip-path="url(#cp30)">
<rect x="304.60" y="584.60" width="16.40" height="3.80" rx="1.90" fill="#000" opacity="0.9" filter="url(#b2)"/>
<rect x="326.70" y="585.50" width="17.30" height="4.00" rx="2.00" fill="#000" opacity="0.8" filter="url(#b2)"/>
<rect x="350.40" y="586.60" width="15.80" height="4.40" rx="2.20" fill="#000" opacity="0.88" filter="url(#b2)"/>
<rect x="372.90" y="588.20" width="12.50" height="3.20" rx="1.60" fill="#000" opacity="0.28" filter="url(#b2)"/>
</g>
<rect x="300.80" y="579.90" width="90.00" height="17.20" fill="none" stroke="#050505" stroke-width="1.3" />
<linearGradient id="bg31" x1="0" y1="0" x2="0" y2="1"><stop offset="0" stop-color="#acacac"/><stop offset="0.3" stop-color="#c2c2c2"/><stop offset="1" stop-color="#c6c6c6"/></linearGradient>
<rect x="393.80" y="580.20" width="90.40" height="16.90" fill="url(#bg31)" stroke="none" stroke-width="0.6" />
<clipPath id="cp32"><rect x="393.80" y="579.90" width="90.40" height="17.20"/></clipPath><g clip-path="url(#cp32)">
<rect x="396.70" y="587.90" width="18.30" height="4.80" rx="2.40" fill="#000" opacity="0.95" filter="url(#b2)"/>
<rect x="420.70" y="589.40" width="16.30" height="3.80" rx="1.90" fill="#000" opacity="0.85" filter="url(#b2)"/>
<rect x="442.80" y="589.80" width="15.40" height="3.00" rx="1.50" fill="#000" opacity="0.8" filter="url(#b2)"/>
<rect x="465.00" y="591.00" width="9.00" height="2.00" rx="1.00" fill="#000" opacity="0.1" filter="url(#b2)"/>
</g>
<rect x="393.80" y="580.20" width="90.40" height="16.90" fill="none" stroke="#050505" stroke-width="1.3" />
<linearGradient id="bg33" x1="0" y1="0" x2="0" y2="1"><stop offset="0" stop-color="#b4b4b4"/><stop offset="0.3" stop-color="#cacaca"/><stop offset="1" stop-color="#cccccc"/></linearGradient>
<rect x="300.80" y="600.50" width="90.00" height="18.70" fill="url(#bg33)" stroke="none" stroke-width="0.6" />
<clipPath id="cp34"><rect x="300.80" y="600.50" width="90.00" height="18.70"/></clipPath><g clip-path="url(#cp34)">
<rect x="304.60" y="605.90" width="15.40" height="2.40" rx="1.20" fill="#000" opacity="0.22" filter="url(#b1)"/>
<rect x="329.60" y="607.10" width="11.40" height="2.20" rx="1.10" fill="#000" opacity="0.16" filter="url(#b1)"/>
<rect x="351.70" y="609.10" width="16.00" height="4.80" rx="2.40" fill="#000" opacity="0.9" filter="url(#b1)"/>
<rect x="373.80" y="609.00" width="15.40" height="5.80" rx="2.90" fill="#000" opacity="0.93" filter="url(#b1)"/>
</g>
<rect x="300.80" y="600.50" width="90.00" height="18.70" fill="none" stroke="#050505" stroke-width="1.3" />
<linearGradient id="bg35" x1="0" y1="0" x2="0" y2="1"><stop offset="0" stop-color="#b0b0b0"/><stop offset="0.3" stop-color="#c6c6c6"/><stop offset="1" stop-color="#c8c8c8"/></linearGradient>
<rect x="393.80" y="600.50" width="90.40" height="20.50" fill="url(#bg35)" stroke="none" stroke-width="0.6" />
<clipPath id="cp36"><rect x="393.80" y="600.50" width="90.40" height="20.50"/></clipPath><g clip-path="url(#cp36)">
<rect x="402.40" y="606.90" width="14.40" height="2.60" rx="1.30" fill="#000" opacity="0.35" filter="url(#b1)"/>
<rect x="423.60" y="607.10" width="16.40" height="3.00" rx="1.50" fill="#000" opacity="0.6" filter="url(#b1)"/>
<rect x="423.60" y="610.70" width="16.40" height="3.80" rx="1.90" fill="#000" opacity="0.9" filter="url(#b1)"/>
<rect x="444.70" y="608.90" width="17.30" height="7.20" rx="3.60" fill="#000" opacity="0.95" filter="url(#b1)"/>
<rect x="465.00" y="608.40" width="18.40" height="8.80" rx="4.40" fill="#000" opacity="0.97" filter="url(#b1)"/>
</g>
<rect x="393.80" y="600.50" width="90.40" height="20.50" fill="none" stroke="#050505" stroke-width="1.3" />
<linearGradient id="bg37" x1="0" y1="0" x2="0" y2="1"><stop offset="0" stop-color="#a0a0a0"/><stop offset="0.25" stop-color="#c0c0c0"/><stop offset="1" stop-color="#c8c8c8"/></linearGradient>
<rect x="300.80" y="624.40" width="90.00" height="16.60" fill="url(#bg37)" stroke="none" stroke-width="0.6" />
<clipPath id="cp38"><rect x="300.80" y="624.40" width="90.00" height="16.60"/></clipPath><g clip-path="url(#cp38)">
<rect x="305.60" y="630.60" width="17.90" height="3.20" rx="1.60" fill="#000" opacity="0.92" filter="url(#b2)"/>
<rect x="328.70" y="630.70" width="16.70" height="3.20" rx="1.60" fill="#000" opacity="0.92" filter="url(#b2)"/>
<rect x="349.80" y="630.90" width="17.90" height="3.20" rx="1.60" fill="#000" opacity="0.92" filter="url(#b2)"/>
<rect x="371.90" y="631.90" width="17.30" height="3.20" rx="1.60" fill="#000" opacity="0.92" filter="url(#b2)"/>
</g>
<rect x="300.80" y="624.40" width="90.00" height="16.60" fill="none" stroke="#050505" stroke-width="1.3" />
<linearGradient id="bg39" x1="0" y1="0" x2="0" y2="1"><stop offset="0" stop-color="#a0a0a0"/><stop offset="0.25" stop-color="#c0c0c0"/><stop offset="1" stop-color="#c8c8c8"/></linearGradient>
<rect x="393.80" y="624.40" width="90.40" height="16.60" fill="url(#bg39)" stroke="none" stroke-width="0.6" />
<clipPath id="cp40"><rect x="393.80" y="624.40" width="90.40" height="16.60"/></clipPath><g clip-path="url(#cp40)">
<rect x="395.30" y="632.60" width="16.70" height="3.00" rx="1.50" fill="#000" opacity="0.92" filter="url(#b2)"/>
<rect x="416.80" y="632.70" width="17.40" height="3.00" rx="1.50" fill="#000" opacity="0.92" filter="url(#b2)"/>
<rect x="438.40" y="632.80" width="17.90" height="3.00" rx="1.50" fill="#000" opacity="0.92" filter="url(#b2)"/>
<rect x="462.00" y="633.90" width="16.40" height="3.00" rx="1.50" fill="#000" opacity="0.92" filter="url(#b2)"/>
</g>
<rect x="393.80" y="624.40" width="90.40" height="16.60" fill="none" stroke="#050505" stroke-width="1.3" />
</g></svg></body></html>
